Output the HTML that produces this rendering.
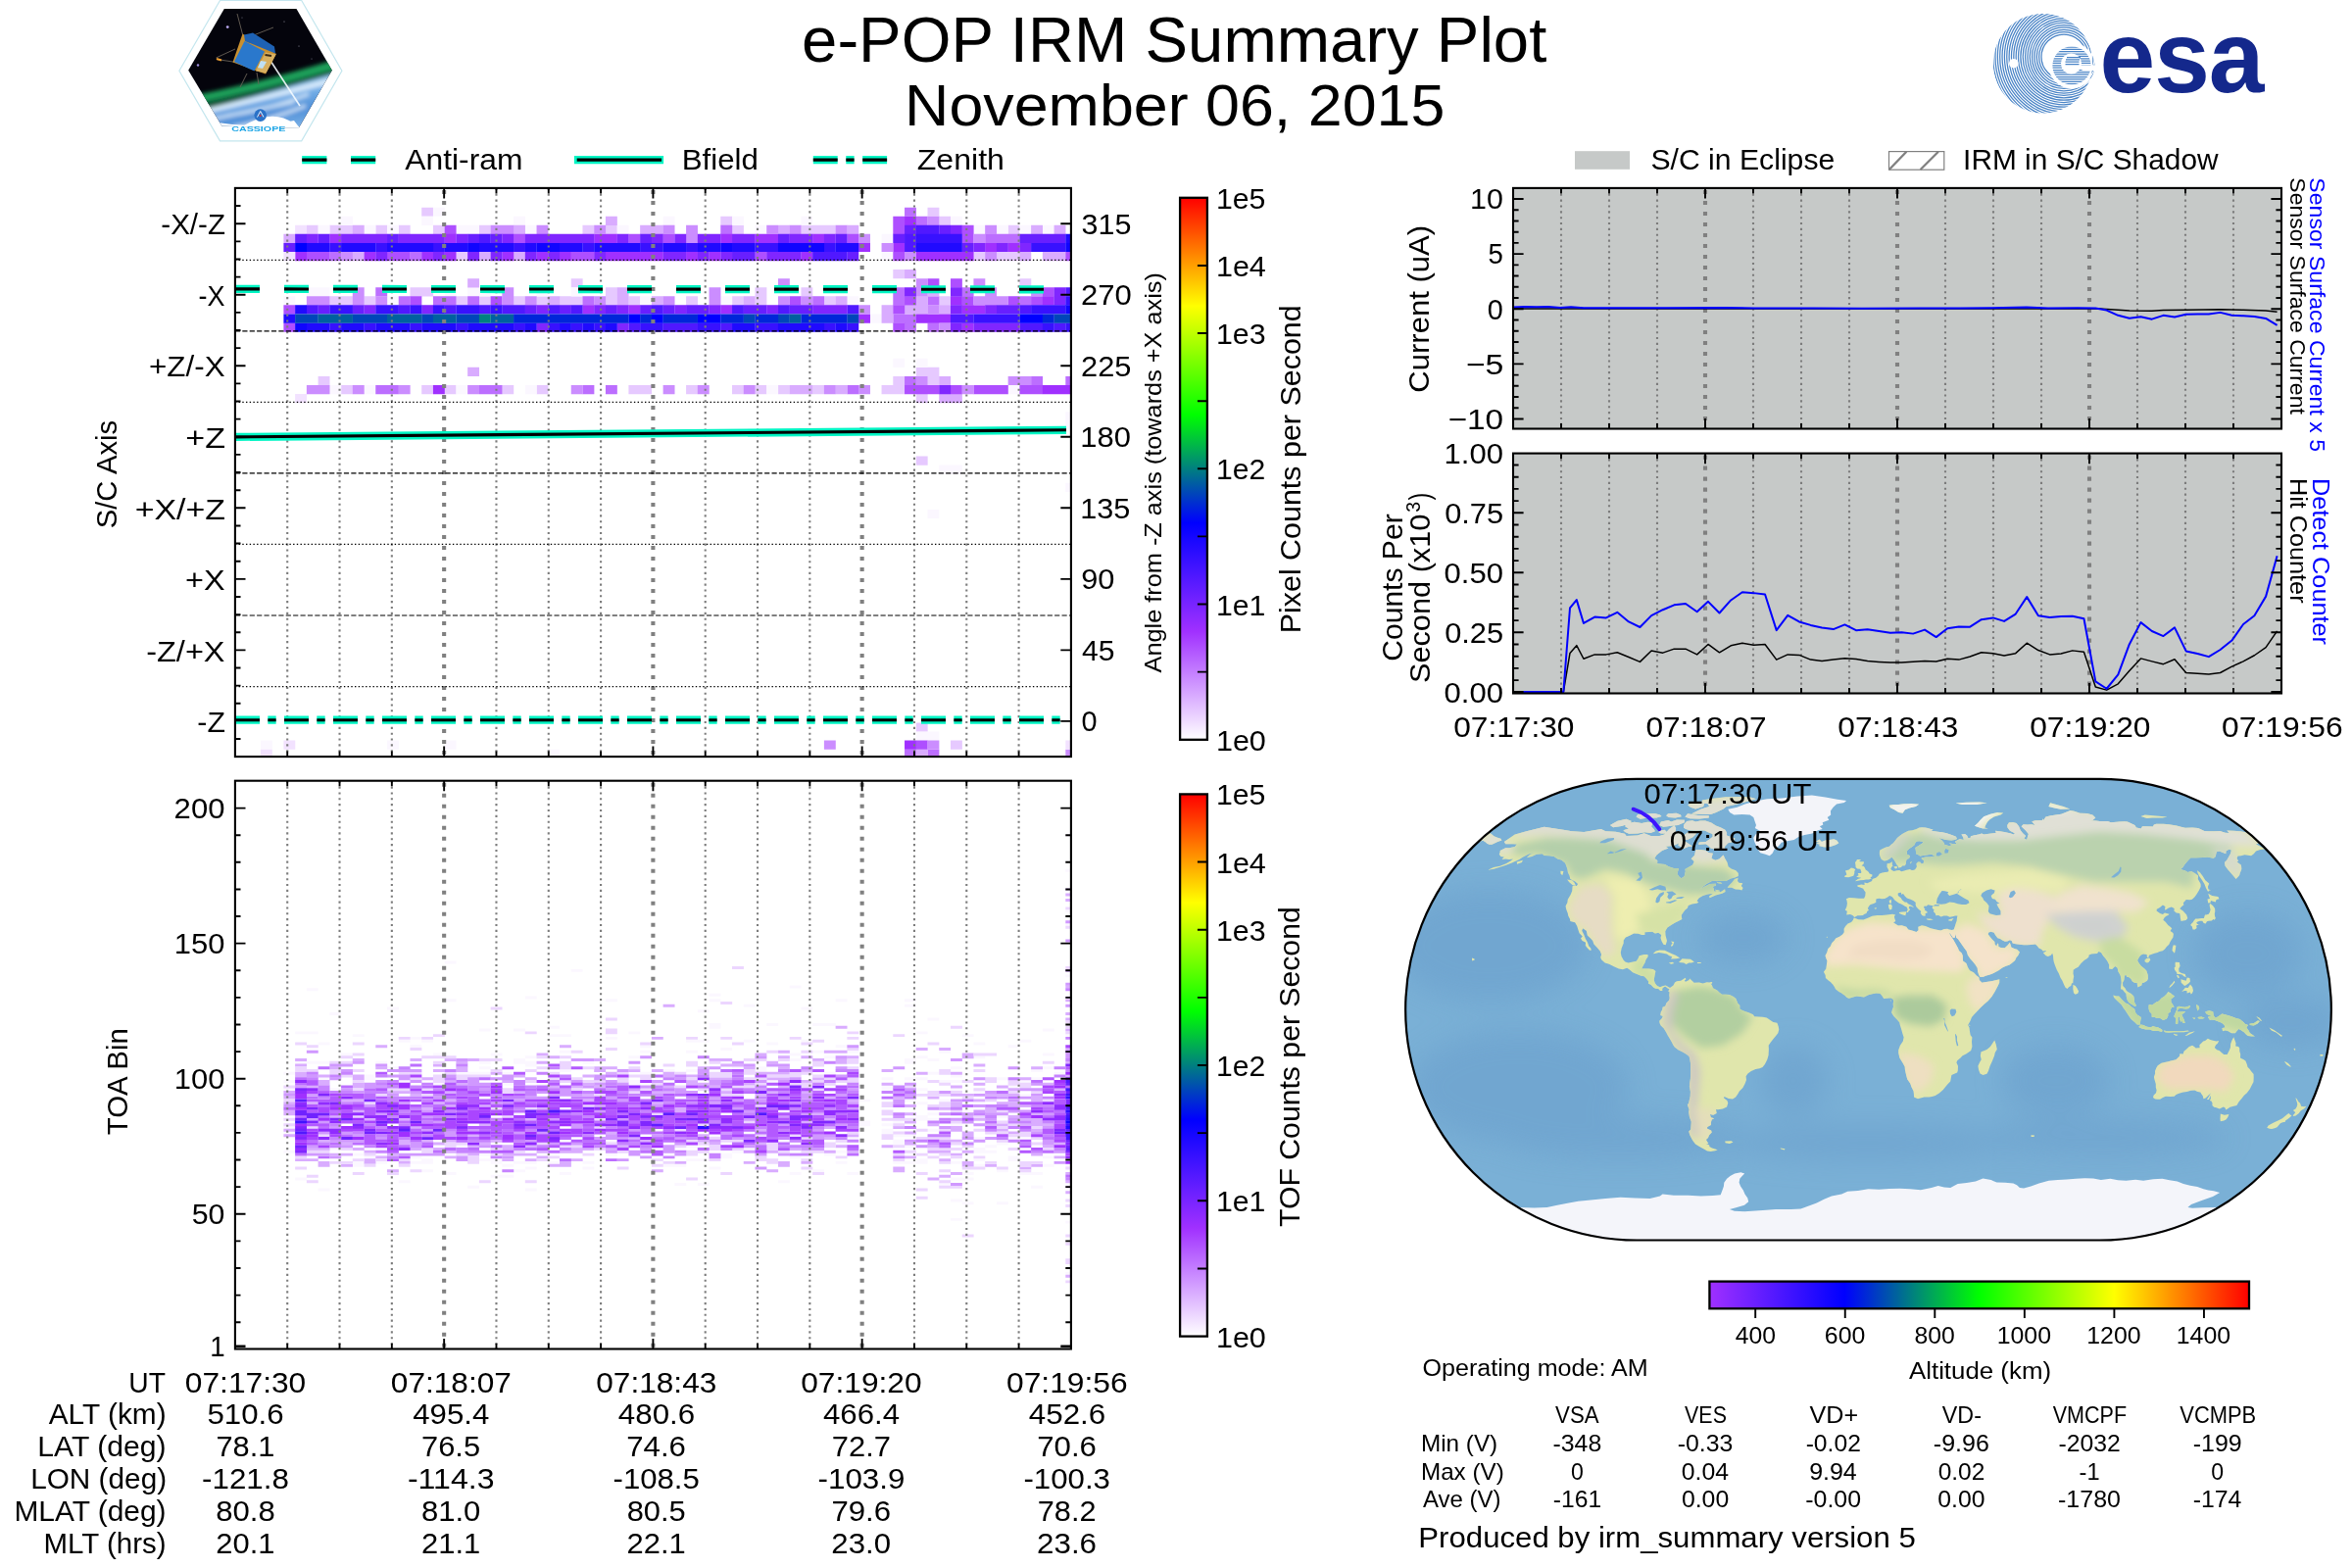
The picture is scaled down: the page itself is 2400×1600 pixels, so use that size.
<!DOCTYPE html>
<html><head><meta charset="utf-8"><title>e-POP IRM Summary Plot</title>
<style>html,body{margin:0;padding:0;background:#fff}svg{display:block;will-change:transform}text{font-family:"Liberation Sans",sans-serif}</style>
</head><body>
<svg width="2400" height="1600" viewBox="0 0 2400 1600">
<defs><linearGradient id="cv" x1="0" y1="0" x2="0" y2="1"><stop offset="0" stop-color="#ff0000"/><stop offset="0.2" stop-color="#ffff00"/><stop offset="0.4" stop-color="#00ff00"/><stop offset="0.6" stop-color="#0000ff"/><stop offset="0.8" stop-color="#a030ff"/><stop offset="1" stop-color="#ffffff"/></linearGradient>
<linearGradient id="ch" x1="0" y1="0" x2="1" y2="0"><stop offset="0" stop-color="#a030ff"/><stop offset="0.25" stop-color="#0000ff"/><stop offset="0.5" stop-color="#00ff00"/><stop offset="0.75" stop-color="#ffff00"/><stop offset="1" stop-color="#ff0000"/></linearGradient>
<clipPath id="mapclip"><path d="M1670.25 794.9H2142.75A236.25 235.3 0 0 1 2142.75 1265.5H1670.25A236.25 235.3 0 0 1 1670.25 794.9Z"/></clipPath>
<clipPath id="landclip"><path d="M1534.8 859.0L1545.7 851.6L1556.6 848.5L1575.7 843.8L1583.8 845.1L1596.8 846.9L1604.1 848.2L1616.3 849.0L1626.5 847.2L1633.8 846.1L1638.4 848.2L1648.7 848.8L1657.9 850.8L1659.6 852.9L1670.8 852.4L1677.7 850.3L1684.6 852.9L1693.3 852.9L1698.4 851.6L1703.2 845.9L1708.5 842.2L1710.1 845.1L1709.8 849.0L1712.1 850.6L1716.7 850.1L1715.8 854.2L1722.7 849.0L1730.6 848.2L1730.6 851.1L1727.4 854.2L1721.7 856.9L1717.2 857.1L1713.3 860.3L1707.6 862.9L1699.3 863.7L1702.4 865.5L1696.0 868.1L1690.4 872.5L1688.3 875.9L1691.3 878.0L1691.1 881.2L1699.0 882.0L1702.7 884.3L1708.0 885.9L1713.1 886.1L1711.4 891.6L1713.3 894.5L1715.6 896.3L1718.7 894.2L1719.9 889.0L1719.4 886.9L1727.2 882.5L1728.7 879.1L1725.6 876.2L1729.2 872.8L1730.2 867.3L1735.9 867.3L1740.2 867.8L1743.8 870.2L1747.8 870.7L1746.4 875.9L1750.4 877.8L1754.3 876.5L1758.5 872.5L1760.2 875.9L1762.5 879.9L1763.6 884.3L1766.6 886.4L1771.3 888.2L1773.8 890.9L1773.8 894.0L1770.3 895.6L1766.0 896.6L1761.2 899.0L1752.8 898.7L1746.8 899.0L1741.2 902.1L1735.2 906.8L1733.7 907.8L1739.3 904.7L1744.8 902.1L1750.9 901.8L1751.0 903.4L1747.8 904.7L1748.9 907.3L1749.2 909.4L1751.6 909.4L1755.6 910.2L1760.1 907.3L1760.6 909.9L1757.3 911.8L1750.8 913.6L1744.6 916.2L1744.0 914.4L1748.0 911.8L1742.4 912.6L1737.7 914.1L1733.8 916.2L1731.6 919.3L1733.3 920.7L1731.4 921.7L1726.7 922.5L1722.7 924.1L1722.0 926.4L1719.2 928.8L1716.2 932.9L1715.7 934.0L1716.3 937.9L1712.9 939.7L1709.3 941.6L1705.9 943.4L1701.3 946.5L1699.2 950.2L1699.5 954.4L1701.0 959.9L1699.7 964.3L1697.4 963.8L1695.6 960.4L1694.5 957.0L1695.3 953.9L1692.3 951.8L1688.9 952.6L1686.1 950.7L1682.2 951.0L1678.4 951.2L1678.4 954.1L1675.4 953.9L1671.7 952.8L1667.2 952.6L1663.3 954.4L1658.8 956.5L1656.7 959.6L1656.7 962.5L1654.7 967.5L1653.8 971.9L1654.5 975.8L1656.7 979.7L1658.5 981.6L1661.5 982.6L1666.3 981.6L1669.8 980.8L1671.6 977.9L1672.7 975.3L1677.6 974.0L1681.4 974.0L1681.7 976.1L1679.5 979.2L1678.4 982.6L1676.9 985.0L1675.0 988.6L1678.1 988.6L1682.5 988.6L1686.9 988.9L1689.4 991.0L1688.6 994.9L1687.7 1000.1L1688.8 1003.3L1691.0 1005.9L1693.9 1007.2L1697.1 1005.9L1699.7 1005.4L1702.8 1007.2L1704.0 1008.0L1704.0 1009.5L1701.7 1008.5L1699.6 1006.7L1698.1 1006.9L1696.2 1008.8L1696.3 1010.9L1694.2 1011.1L1692.2 1009.0L1689.3 1008.8L1687.3 1007.7L1684.5 1004.8L1682.0 1003.8L1682.1 1001.2L1679.7 998.3L1677.8 996.2L1674.7 995.7L1670.3 994.1L1666.1 992.3L1662.9 989.4L1660.2 987.8L1655.9 989.2L1651.8 988.6L1646.8 986.3L1641.9 983.7L1637.7 982.4L1634.1 979.2L1633.2 976.9L1634.1 974.0L1632.8 970.6L1629.6 966.7L1626.3 963.3L1625.3 960.1L1622.8 957.3L1619.8 954.4L1618.8 949.7L1615.1 947.3L1614.2 949.7L1616.2 953.6L1617.8 957.8L1619.9 961.4L1621.3 965.4L1623.0 967.2L1623.9 969.5L1622.1 969.8L1619.2 966.7L1617.8 964.8L1618.1 961.7L1614.6 959.9L1613.0 957.5L1614.8 955.4L1611.6 952.3L1610.1 947.8L1609.3 945.0L1607.2 941.3L1602.3 940.0L1602.1 937.9L1600.3 934.5L1599.7 931.6L1599.0 930.1L1598.0 926.9L1597.6 924.6L1599.4 920.9L1599.8 917.8L1602.5 913.3L1604.2 909.2L1604.5 905.0L1604.8 903.7L1608.8 903.9L1610.1 902.1L1607.2 899.5L1602.3 897.1L1601.6 893.7L1599.9 890.3L1599.5 887.5L1598.5 884.3L1597.2 880.7L1593.3 877.5L1589.4 876.5L1585.7 874.1L1581.2 873.3L1575.7 873.1L1573.6 871.2L1567.9 871.8L1563.2 873.9L1557.8 875.2L1561.3 871.8L1565.3 870.2L1560.4 871.2L1554.1 874.4L1550.3 877.0L1542.7 880.4L1536.2 883.0L1530.0 885.1L1524.2 886.7L1518.1 887.7L1524.1 885.1L1530.5 883.8L1536.8 881.2L1541.5 878.6L1544.0 876.5L1539.9 877.0L1536.4 876.5L1532.5 877.0L1534.8 874.6L1531.5 873.9L1529.8 871.8L1530.7 869.4L1530.7 868.1L1536.2 865.2L1540.0 865.2L1545.7 863.9L1547.8 861.6L1543.6 861.3L1536.3 861.3L1534.8 859.0ZM1740.2 837.5L1746.2 839.6L1750.8 842.5L1756.0 844.6L1760.3 846.7L1762.1 849.8L1762.0 852.4L1766.7 854.2L1770.5 855.8L1768.2 859.0L1763.3 860.3L1759.6 864.2L1760.5 866.8L1757.1 868.1L1752.8 867.3L1749.7 866.5L1745.6 865.5L1743.3 862.9L1740.6 861.3L1733.1 861.8L1733.7 859.5L1740.6 859.0L1744.6 856.3L1747.7 853.7L1747.5 851.1L1743.0 849.3L1739.6 847.5L1735.5 847.2L1731.1 847.5L1724.8 847.2L1720.1 846.1L1717.9 844.6L1718.4 841.2L1721.2 838.0L1727.0 837.3L1730.2 838.6L1735.0 837.5L1740.2 837.5ZM1658.4 843.5L1659.0 840.4L1667.7 838.8L1675.2 839.9L1681.2 838.8L1687.0 839.3L1685.0 843.3L1688.0 846.4L1688.8 848.2L1684.3 850.1L1678.4 849.3L1671.0 850.6L1662.2 850.8L1658.2 849.0L1656.4 847.2L1662.0 845.6L1658.4 843.5ZM1643.0 842.0L1650.5 837.8L1659.4 835.7L1664.6 837.8L1663.7 839.9L1654.6 843.0L1646.1 844.3L1643.0 842.0ZM1725.9 830.5L1735.8 830.7L1745.6 831.0L1751.1 828.9L1758.5 825.5L1761.5 822.9L1770.6 821.0L1780.2 818.4L1792.0 815.3L1786.2 813.5L1775.7 812.9L1760.9 813.2L1746.1 815.0L1737.0 816.6L1736.1 819.2L1742.7 820.3L1744.1 822.9L1736.0 825.5L1730.9 828.1L1725.9 830.5ZM1725.9 819.0L1735.6 817.9L1739.1 820.0L1738.1 823.1L1730.1 825.5L1725.0 823.7L1722.2 821.6L1725.9 819.0ZM1722.1 830.2L1732.8 832.0L1743.7 832.3L1743.7 834.6L1734.4 835.4L1724.3 835.2L1719.4 833.6L1722.1 830.2ZM1671.2 831.0L1679.8 830.5L1688.3 829.9L1693.9 831.5L1695.5 833.1L1690.2 834.4L1681.8 834.6L1673.7 835.7L1669.6 833.6L1671.2 831.0ZM1702.1 830.2L1710.6 829.7L1715.0 831.5L1715.6 833.3L1709.6 834.4L1702.7 834.1L1700.2 832.3L1702.1 830.2ZM1694.9 838.6L1702.4 837.0L1705.3 838.6L1711.0 836.5L1719.1 836.7L1718.7 839.3L1712.2 842.0L1706.6 842.5L1701.9 843.3L1697.3 843.8L1693.3 842.0L1694.9 838.6ZM1713.7 859.5L1718.0 857.6L1720.5 859.2L1724.7 862.1L1726.8 863.4L1722.7 863.9L1718.5 865.8L1714.9 863.9L1712.3 862.4L1713.7 859.5ZM1693.5 847.7L1698.5 846.7L1700.4 848.5L1700.3 850.3L1694.8 850.6L1692.4 849.3L1693.5 847.7ZM1762.6 905.8L1767.0 905.8L1770.8 907.6L1775.1 907.8L1777.4 908.4L1778.6 906.0L1776.8 903.9L1778.3 901.3L1774.5 900.8L1773.0 899.0L1773.6 895.8L1770.0 897.1L1767.3 900.5L1764.3 903.4L1762.6 905.8ZM1599.1 897.4L1604.2 898.2L1606.6 900.8L1608.0 903.7L1604.5 902.9L1601.3 900.3L1599.1 897.4ZM1592.4 888.8L1595.4 889.0L1594.3 893.2L1592.5 891.6L1592.4 888.8ZM1547.7 879.6L1553.9 877.8L1552.9 880.1L1548.1 881.7L1547.7 879.6ZM1751.4 899.7L1756.0 900.5L1757.4 901.8L1753.4 901.3L1751.4 899.7ZM1750.0 907.8L1754.2 908.6L1755.3 909.4L1751.6 909.7L1750.0 907.8ZM1686.7 973.2L1689.6 970.6L1693.6 969.5L1698.7 969.8L1702.4 971.4L1706.1 973.2L1709.8 974.8L1714.2 977.4L1710.8 978.2L1705.0 978.4L1706.3 976.3L1703.3 975.3L1700.9 973.5L1695.8 972.4L1692.5 971.9L1689.9 972.7L1686.7 973.2ZM1713.0 982.1L1716.5 978.2L1720.6 978.4L1725.0 978.7L1728.9 981.6L1726.0 982.4L1723.4 982.4L1720.6 983.9L1718.2 982.6L1713.0 982.1ZM1702.8 982.4L1706.5 981.8L1708.5 983.1L1705.1 983.7L1702.8 982.4ZM1732.0 982.1L1735.9 982.1L1735.5 983.1L1731.9 983.1L1732.0 982.1ZM1852.8 858.7L1856.6 856.6L1858.9 859.0L1862.4 857.6L1866.9 857.1L1871.3 856.3L1874.3 857.6L1876.3 860.3L1873.5 862.1L1868.4 863.7L1864.3 864.4L1860.5 864.2L1855.9 863.1L1857.5 861.8L1853.1 860.8L1857.1 859.7L1852.8 858.7ZM1704.0 1008.0L1705.4 1006.9L1707.5 1005.6L1709.0 1002.5L1710.9 1001.2L1715.1 1000.7L1717.8 999.1L1719.7 997.8L1720.4 999.3L1718.8 1000.7L1720.0 1001.7L1723.5 1000.1L1724.1 998.6L1727.4 1001.4L1728.6 1002.7L1733.9 1002.5L1737.7 1003.5L1741.7 1002.2L1744.3 1002.5L1746.8 1005.1L1748.0 1008.2L1751.9 1010.3L1754.5 1012.7L1757.0 1014.8L1761.0 1014.8L1764.9 1015.0L1768.8 1017.1L1771.4 1019.0L1773.2 1023.7L1775.3 1025.8L1775.3 1029.4L1777.9 1031.0L1780.5 1032.0L1784.4 1033.3L1788.9 1035.2L1790.2 1037.3L1795.0 1037.5L1798.9 1037.8L1802.8 1038.6L1806.8 1041.2L1809.4 1043.0L1813.4 1043.8L1814.7 1047.2L1815.3 1050.6L1814.3 1054.3L1811.5 1057.7L1809.0 1060.8L1806.5 1063.9L1804.7 1066.8L1804.9 1070.7L1804.6 1076.7L1803.3 1081.2L1800.9 1085.9L1798.5 1089.0L1795.5 1090.3L1791.4 1090.9L1786.9 1092.9L1783.5 1095.6L1781.6 1098.2L1782.0 1102.1L1780.5 1106.0L1778.4 1109.9L1774.9 1113.6L1773.2 1116.5L1771.1 1119.6L1768.0 1121.4L1763.9 1120.9L1759.4 1119.1L1759.1 1120.4L1762.4 1123.0L1763.3 1125.4L1762.1 1129.5L1757.9 1131.4L1753.0 1132.2L1751.0 1131.9L1751.7 1136.1L1748.3 1137.7L1744.9 1137.1L1745.8 1140.3L1749.2 1141.3L1746.7 1142.6L1746.0 1145.0L1745.8 1147.9L1742.1 1149.9L1742.1 1151.8L1746.1 1153.6L1746.8 1155.4L1744.1 1158.3L1743.0 1160.9L1740.9 1163.0L1743.4 1166.9L1741.0 1166.9L1744.3 1168.5L1744.3 1170.1L1747.0 1171.4L1752.7 1173.2L1750.2 1174.3L1745.7 1175.0L1742.1 1174.5L1737.7 1171.9L1734.1 1170.1L1730.0 1167.5L1727.0 1163.5L1724.3 1158.3L1723.2 1154.4L1725.2 1152.6L1725.5 1148.6L1725.8 1144.7L1724.0 1140.0L1723.1 1134.8L1723.6 1132.2L1721.9 1127.5L1723.1 1125.6L1723.7 1123.0L1724.7 1118.6L1724.9 1113.9L1723.9 1108.6L1724.2 1104.7L1724.9 1100.8L1725.1 1095.6L1725.0 1090.3L1725.0 1085.1L1724.4 1081.2L1723.6 1078.0L1720.8 1075.7L1717.0 1073.6L1712.4 1071.2L1708.8 1068.4L1707.4 1066.5L1705.6 1062.9L1703.6 1059.5L1701.6 1056.3L1700.1 1053.2L1697.6 1049.3L1694.7 1046.4L1693.5 1044.1L1693.2 1041.7L1695.5 1039.6L1696.8 1037.0L1694.2 1036.0L1694.7 1032.8L1696.2 1030.2L1696.5 1027.8L1699.4 1026.5L1700.2 1023.7L1703.1 1020.8L1703.7 1018.4L1703.3 1015.6L1703.6 1012.4L1702.3 1011.4L1704.0 1008.0ZM1760.2 1164.6L1766.6 1164.3L1768.5 1165.4L1764.9 1166.9L1760.6 1166.2L1760.2 1164.6ZM1744.6 1002.2L1747.2 1002.0L1746.9 1003.8L1744.5 1003.8L1744.6 1002.2ZM1891.7 936.6L1896.4 938.2L1901.5 938.4L1906.5 936.6L1910.3 934.8L1915.3 934.0L1920.3 934.0L1925.3 933.5L1931.1 932.7L1934.1 933.5L1932.9 935.3L1933.4 937.4L1934.3 940.0L1932.0 941.3L1933.8 942.4L1936.9 944.4L1940.7 944.2L1945.3 945.8L1947.2 948.4L1951.8 949.7L1955.4 951.0L1957.6 949.2L1957.3 945.8L1961.0 944.2L1964.8 945.0L1970.0 947.3L1975.2 948.6L1980.3 949.4L1984.0 948.1L1987.3 947.8L1988.7 948.6L1991.7 948.9L1993.7 948.4L1995.6 953.1L1994.6 957.0L1992.8 956.7L1991.3 954.6L1989.6 952.0L1989.2 952.8L1991.2 955.9L1993.1 958.8L1995.1 962.2L1998.0 967.5L1998.9 970.1L2001.9 972.7L2002.8 975.3L2003.0 980.5L2006.5 983.1L2008.0 987.1L2010.0 990.2L2013.9 992.3L2016.9 995.4L2019.3 997.3L2019.7 999.9L2022.4 1002.7L2026.8 1002.0L2032.0 1001.2L2037.2 1000.1L2040.3 999.3L2040.2 1002.7L2038.7 1006.1L2035.5 1011.9L2032.4 1017.1L2028.5 1021.6L2024.6 1024.7L2020.7 1028.6L2016.7 1032.8L2014.1 1035.4L2012.0 1038.0L2010.4 1042.0L2008.2 1045.9L2009.5 1048.5L2010.0 1052.4L2010.7 1056.3L2012.4 1058.4L2012.0 1062.9L2012.4 1068.1L2011.2 1072.0L2006.6 1075.2L2002.6 1077.3L2000.5 1079.6L1997.2 1082.2L1996.4 1084.3L1998.0 1087.7L1997.8 1092.4L1997.1 1094.5L1991.4 1096.9L1990.9 1099.5L1990.2 1103.4L1987.7 1106.0L1985.6 1108.4L1982.8 1112.0L1978.8 1115.4L1974.8 1118.0L1971.5 1119.1L1968.4 1119.4L1963.4 1119.4L1957.0 1121.2L1954.0 1120.1L1953.0 1119.4L1952.9 1116.0L1952.5 1113.3L1950.6 1109.4L1949.2 1105.5L1946.2 1101.3L1945.1 1096.9L1943.9 1091.6L1943.7 1088.5L1941.5 1084.6L1938.4 1079.4L1937.2 1074.6L1937.2 1071.5L1938.9 1066.8L1941.8 1062.4L1942.6 1058.4L1941.3 1054.5L1940.0 1049.8L1938.8 1045.9L1938.2 1043.3L1935.4 1040.1L1932.2 1036.7L1930.1 1033.3L1930.9 1030.2L1932.0 1027.6L1931.7 1024.2L1932.2 1021.6L1931.7 1019.7L1929.6 1018.4L1927.5 1018.4L1924.9 1018.7L1922.2 1019.0L1920.4 1016.1L1918.3 1013.7L1914.4 1013.5L1910.4 1014.3L1906.5 1015.3L1902.0 1017.4L1898.6 1016.9L1894.7 1016.6L1890.8 1017.4L1886.8 1018.7L1884.7 1017.9L1882.4 1015.8L1878.5 1012.9L1876.4 1011.9L1873.0 1009.3L1871.7 1006.7L1870.4 1004.8L1867.8 1002.0L1866.0 1000.7L1862.9 998.0L1862.6 994.9L1860.9 991.8L1863.3 988.4L1863.9 984.4L1864.5 980.5L1863.7 978.7L1862.5 975.3L1864.4 971.4L1865.2 968.2L1867.9 965.4L1869.2 962.2L1871.9 959.6L1873.2 957.5L1877.1 955.7L1880.2 953.6L1881.8 951.2L1881.6 947.8L1883.2 945.0L1885.5 942.6L1889.1 941.0L1890.9 938.7L1891.7 936.6ZM2035.3 1061.6L2036.7 1065.5L2037.8 1070.7L2035.8 1074.1L2035.1 1077.3L2033.0 1082.5L2030.6 1087.7L2028.9 1092.9L2027.4 1095.8L2023.5 1096.9L2020.5 1095.6L2019.0 1091.6L2018.4 1087.7L2020.2 1083.8L2021.7 1081.2L2020.8 1077.3L2021.5 1073.3L2025.0 1072.0L2027.7 1070.7L2030.9 1068.1L2032.6 1065.5L2034.2 1062.9L2035.3 1061.6ZM1892.4 936.1L1890.4 934.0L1887.9 932.9L1884.2 933.5L1884.8 929.8L1882.8 928.8L1884.4 925.1L1884.9 921.7L1884.5 919.1L1883.8 917.3L1886.8 915.9L1891.7 916.2L1896.7 916.7L1902.1 916.7L1903.3 913.9L1903.6 910.5L1902.1 908.6L1901.2 906.8L1898.0 905.5L1895.6 904.7L1895.1 903.4L1899.3 902.6L1902.6 902.9L1902.4 900.5L1905.3 901.3L1907.0 900.5L1910.1 899.0L1910.6 897.1L1914.1 895.8L1916.5 893.7L1917.9 891.6L1920.7 890.6L1923.5 890.1L1926.1 889.8L1927.3 888.8L1926.5 886.4L1925.5 884.8L1925.6 881.2L1928.6 880.7L1930.9 879.3L1930.8 882.5L1931.5 883.3L1930.0 885.1L1929.3 886.4L1930.1 887.7L1932.5 889.0L1935.3 888.2L1938.3 888.0L1940.1 889.3L1943.1 888.5L1945.4 887.7L1948.9 886.9L1950.8 888.0L1953.2 887.7L1954.7 886.4L1955.9 884.6L1955.4 881.2L1957.1 879.6L1959.2 879.6L1960.7 881.2L1962.8 880.7L1963.0 878.0L1961.0 876.7L1960.6 875.4L1965.0 874.4L1969.7 874.6L1971.9 873.9L1975.3 873.6L1972.9 872.8L1971.1 871.8L1967.1 872.3L1963.7 872.8L1959.2 873.6L1957.5 872.3L1955.1 871.2L1954.9 868.1L1954.4 865.0L1956.9 863.4L1960.0 861.6L1962.6 859.7L1961.8 858.7L1958.4 858.2L1955.8 858.4L1954.2 860.3L1954.0 861.8L1951.3 863.9L1948.2 866.0L1946.1 868.1L1945.7 870.7L1946.0 871.8L1949.1 873.3L1948.0 875.9L1945.7 876.7L1945.0 879.1L1944.9 881.2L1943.9 883.3L1941.1 883.5L1940.0 885.1L1937.0 885.4L1936.7 883.8L1935.2 882.0L1933.9 879.6L1932.6 877.3L1931.1 875.4L1930.4 874.6L1928.4 876.2L1925.5 878.0L1922.7 878.6L1919.9 877.0L1918.7 874.6L1917.9 872.0L1917.9 869.4L1918.3 867.6L1921.1 866.0L1924.5 864.4L1927.8 863.7L1929.9 861.8L1932.0 860.3L1934.1 857.6L1936.0 855.0L1938.7 852.7L1941.1 851.1L1943.8 849.5L1947.2 847.7L1951.4 847.2L1955.5 845.9L1958.4 844.6L1961.1 844.3L1964.8 844.6L1967.0 845.1L1970.4 845.9L1972.6 846.4L1970.7 847.7L1974.1 848.2L1977.4 848.8L1981.8 849.3L1986.4 850.3L1992.2 852.2L1995.9 853.7L1996.9 856.1L1994.6 857.1L1991.3 857.4L1985.7 856.9L1981.1 855.8L1978.3 855.0L1981.5 857.6L1983.8 860.3L1984.1 861.8L1988.1 862.9L1990.4 863.1L1991.2 861.8L1988.7 860.3L1993.3 861.3L1996.7 861.3L1994.9 858.7L1997.9 857.1L1999.9 856.3L2003.8 857.1L2003.2 854.2L2001.4 851.6L2005.0 851.1L2007.1 852.4L2008.3 855.0L2010.5 855.3L2011.0 853.2L2015.0 852.2L2019.1 851.4L2022.1 850.6L2024.6 851.6L2029.7 850.8L2033.9 850.3L2036.9 849.8L2036.0 847.7L2040.5 848.2L2045.2 849.0L2048.7 849.8L2051.1 850.3L2054.8 851.4L2055.9 850.3L2051.0 847.7L2048.5 844.6L2048.2 842.0L2050.0 839.3L2054.0 839.1L2057.6 839.9L2060.1 843.3L2061.7 847.2L2064.1 850.3L2067.1 852.9L2065.4 855.6L2068.2 856.9L2069.0 853.7L2069.9 851.1L2066.8 847.2L2062.6 843.3L2064.6 841.2L2068.9 841.4L2073.0 841.2L2076.6 842.0L2073.3 838.3L2076.8 837.3L2083.8 837.0L2084.6 835.2L2085.0 837.3L2087.5 833.6L2092.6 832.3L2098.0 831.5L2103.3 830.7L2107.7 828.9L2112.5 827.1L2116.6 827.8L2122.4 829.7L2129.7 829.9L2135.3 831.5L2138.3 834.6L2135.3 837.0L2132.5 837.3L2138.9 837.5L2142.5 838.0L2150.8 838.0L2154.0 839.3L2162.6 838.6L2167.6 838.3L2170.9 838.6L2178.4 842.0L2179.9 844.6L2184.8 845.4L2186.0 843.3L2190.2 843.3L2196.8 843.5L2197.9 841.4L2200.2 840.7L2207.5 840.7L2213.3 841.2L2221.0 842.5L2225.6 843.8L2229.9 844.8L2237.1 844.6L2243.0 845.1L2249.4 848.0L2253.9 848.2L2259.3 848.2L2265.4 848.0L2270.7 849.8L2274.7 850.1L2272.3 847.5L2279.0 847.7L2286.1 848.2L2294.4 849.8L2305.3 859.5L2303.6 861.0L2301.7 861.3L2306.0 863.4L2311.4 866.5L2306.2 867.1L2302.0 868.6L2299.8 871.2L2297.1 873.3L2290.5 872.3L2286.8 873.3L2283.5 873.6L2282.5 875.7L2284.0 878.6L2282.5 879.6L2286.7 882.5L2287.1 884.3L2287.3 886.9L2285.7 890.9L2285.2 892.9L2284.0 894.5L2281.6 896.9L2278.3 892.9L2273.7 887.7L2270.6 883.8L2269.9 879.9L2272.1 878.0L2274.1 874.6L2275.9 871.2L2276.9 867.6L2274.4 866.8L2271.4 868.6L2271.3 871.2L2264.6 868.6L2261.7 869.2L2260.8 873.9L2258.8 875.7L2252.2 874.6L2247.8 874.9L2241.1 875.2L2235.4 875.2L2233.4 877.3L2231.4 879.6L2228.8 882.7L2227.0 885.6L2224.9 886.9L2229.9 888.5L2232.4 890.1L2236.1 889.0L2239.6 891.1L2243.1 893.5L2242.8 896.9L2245.6 902.1L2245.7 904.7L2243.9 908.6L2241.8 912.0L2239.5 915.2L2236.9 917.8L2234.6 918.3L2230.8 918.0L2229.5 919.6L2227.8 921.2L2228.4 923.3L2225.7 925.6L2224.3 927.2L2227.6 929.5L2231.2 933.5L2232.3 937.1L2230.6 939.0L2227.7 939.5L2225.6 940.0L2224.9 936.9L2224.6 934.0L2224.1 931.9L2220.7 931.4L2218.4 929.5L2218.7 926.9L2215.8 925.6L2212.8 926.4L2210.2 928.2L2209.0 928.5L2209.4 925.1L2206.9 923.5L2204.0 926.1L2200.8 927.7L2200.6 929.5L2204.1 931.9L2206.9 932.9L2208.9 931.4L2213.6 932.7L2212.7 933.7L2210.1 935.0L2208.5 936.6L2207.3 938.7L2209.7 940.8L2212.3 943.9L2214.9 946.0L2216.2 947.3L2214.6 949.9L2217.1 951.8L2217.9 953.1L2217.4 956.5L2215.9 958.8L2214.5 960.9L2213.3 963.8L2210.9 966.1L2209.0 968.5L2206.8 970.3L2203.5 970.9L2201.6 971.9L2198.6 972.7L2195.7 973.7L2193.0 974.8L2192.3 977.1L2191.0 976.9L2190.6 974.0L2187.1 973.5L2184.7 974.5L2182.9 976.6L2181.0 980.0L2182.7 983.1L2184.8 985.8L2188.3 988.4L2190.3 990.5L2191.8 994.9L2191.9 998.8L2191.0 1000.7L2187.7 1002.7L2185.9 1003.0L2185.3 1005.4L2182.7 1006.7L2181.5 1007.5L2180.8 1004.6L2181.0 1003.3L2178.0 1002.7L2175.9 1001.4L2174.4 998.8L2172.1 997.0L2170.3 997.0L2169.9 995.2L2168.1 995.2L2167.7 997.5L2167.4 1000.1L2166.0 1002.7L2166.2 1005.9L2168.4 1008.2L2169.9 1011.1L2172.0 1012.4L2174.7 1014.0L2177.2 1016.6L2177.8 1019.2L2178.1 1022.9L2180.0 1026.3L2178.2 1026.8L2175.5 1025.0L2172.3 1022.9L2170.5 1020.0L2169.8 1017.1L2169.5 1014.0L2167.8 1012.2L2165.9 1009.8L2164.0 1009.3L2164.2 1006.7L2164.7 1002.7L2164.4 998.8L2163.6 994.9L2161.5 991.5L2160.6 987.6L2158.3 986.0L2155.2 988.9L2152.1 988.4L2152.2 984.4L2150.5 981.0L2148.4 977.9L2146.0 975.3L2144.0 971.9L2141.5 971.1L2140.0 972.9L2136.6 973.2L2134.1 973.5L2131.6 974.5L2131.4 976.6L2129.5 978.2L2127.0 979.7L2123.5 983.1L2120.7 986.8L2117.4 988.4L2115.7 989.7L2115.5 993.6L2116.2 996.2L2115.6 999.3L2115.3 1003.3L2114.0 1003.3L2113.3 1005.9L2111.3 1006.9L2109.5 1009.0L2107.6 1007.7L2106.2 1005.1L2104.4 1000.7L2102.4 997.5L2100.9 993.6L2098.8 989.7L2097.2 985.8L2095.8 981.8L2095.3 979.2L2095.0 975.3L2094.2 972.7L2092.8 974.8L2089.9 976.1L2087.7 975.3L2084.8 972.2L2087.3 971.1L2088.0 970.1L2084.7 970.6L2083.2 968.8L2080.5 967.5L2079.0 965.4L2077.0 963.5L2072.4 964.1L2068.6 964.3L2065.0 964.3L2060.8 963.8L2056.9 963.3L2053.7 962.5L2052.7 960.1L2050.9 959.3L2048.4 960.4L2045.9 960.7L2043.2 959.6L2041.0 958.0L2038.4 957.3L2036.3 954.6L2034.5 951.5L2031.3 950.7L2028.9 951.8L2028.8 953.6L2030.5 955.7L2032.8 958.6L2035.4 960.9L2035.6 963.5L2037.3 965.4L2038.1 962.7L2039.1 962.7L2039.4 966.1L2041.8 966.9L2045.7 967.2L2048.8 964.3L2050.8 961.7L2051.9 964.8L2052.3 966.4L2055.5 968.0L2058.2 968.8L2061.0 971.4L2059.2 975.3L2057.5 976.9L2056.2 980.0L2053.3 982.6L2050.3 984.7L2047.0 985.8L2043.2 987.6L2039.4 990.2L2034.3 993.1L2030.5 994.4L2026.1 995.7L2024.0 996.7L2020.6 997.0L2019.3 994.9L2018.1 991.5L2017.7 987.8L2015.7 984.4L2012.9 981.0L2010.2 977.9L2007.9 974.5L2006.7 970.6L2004.4 967.5L2002.5 964.8L2000.8 962.2L1998.0 958.3L1996.1 956.7L1995.6 953.1L1993.7 948.4L1994.8 945.2L1995.6 942.6L1996.6 939.7L1996.9 936.9L1997.4 934.5L1995.2 934.5L1992.5 935.3L1989.5 935.8L1986.9 934.5L1983.4 934.5L1980.7 935.6L1978.0 934.0L1975.3 934.2L1974.9 932.2L1972.8 930.1L1973.6 928.2L1971.8 926.9L1971.7 925.6L1972.8 924.3L1971.1 924.1L1967.3 923.3L1965.7 924.8L1963.7 924.6L1963.0 926.1L1964.4 927.7L1963.7 928.5L1966.5 930.3L1966.6 931.6L1964.6 931.9L1964.8 934.5L1963.0 934.8L1961.2 934.0L1959.6 931.6L1960.3 930.1L1958.9 928.8L1957.1 927.2L1955.2 925.1L1954.6 923.0L1954.8 920.9L1952.7 919.3L1949.6 917.8L1945.9 916.5L1943.8 914.4L1942.0 912.0L1940.1 912.8L1940.0 910.7L1937.8 911.0L1936.6 911.8L1936.9 914.1L1939.7 916.2L1941.1 918.6L1943.6 920.4L1946.1 920.7L1946.6 922.0L1949.9 923.5L1952.3 925.1L1952.6 926.1L1950.0 924.8L1948.3 924.8L1947.8 926.4L1949.2 928.2L1947.7 929.5L1947.0 930.9L1945.8 931.1L1945.8 930.1L1946.7 928.2L1945.6 925.6L1943.8 924.8L1942.3 923.8L1940.0 922.5L1937.5 921.4L1935.4 919.9L1933.1 918.3L1931.9 916.5L1930.6 914.9L1928.1 914.1L1925.7 915.7L1923.2 917.0L1920.1 917.3L1917.6 916.7L1914.6 917.3L1914.2 919.1L1914.4 920.7L1912.0 922.0L1908.7 923.0L1907.2 924.6L1905.8 926.9L1907.0 928.8L1905.2 930.1L1904.5 931.9L1902.0 932.9L1901.0 934.0L1897.7 934.2L1895.5 934.2L1893.2 935.6L1892.4 936.1ZM1518.6 849.8L1521.6 850.8L1524.4 853.2L1528.1 854.8L1531.4 855.8L1532.4 857.4L1528.1 859.0L1522.4 861.8L1519.7 861.8L1517.4 860.8L1515.7 859.2L1512.9 857.6L1509.1 859.2L1507.7 859.5ZM1892.8 899.2L1895.7 898.7L1898.1 898.2L1901.7 897.9L1904.1 897.6L1907.2 897.4L1909.8 896.3L1908.4 895.6L1910.3 894.2L1910.5 892.4L1907.7 891.6L1907.0 890.3L1906.0 889.0L1903.7 887.5L1902.7 885.1L1901.4 883.8L1899.5 883.5L1901.8 881.2L1901.9 879.3L1898.4 879.3L1897.2 878.6L1899.3 877.0L1895.0 877.0L1894.2 878.6L1893.0 880.1L1893.4 882.5L1893.6 885.1L1895.2 886.4L1898.3 886.7L1898.9 888.5L1899.4 890.1L1898.9 890.9L1895.8 890.9L1896.5 893.2L1894.1 894.5L1896.2 895.3L1899.3 895.8L1898.1 896.3L1895.7 896.9L1892.8 899.2ZM1882.6 895.0L1886.2 895.3L1891.3 893.7L1892.3 890.9L1892.3 889.0L1893.3 887.2L1891.2 885.9L1888.9 885.6L1886.7 887.5L1882.9 888.5L1883.8 890.6L1884.4 892.4L1882.0 894.0L1882.6 895.0ZM1937.8 930.9L1941.0 930.6L1945.5 930.3L1944.6 932.9L1944.4 934.2L1941.6 933.5L1938.1 931.9L1937.8 930.9ZM1926.8 923.3L1929.3 922.5L1930.8 924.3L1930.4 927.7L1928.5 928.5L1927.4 926.7L1926.8 923.3ZM1927.7 919.1L1929.7 917.8L1930.0 920.4L1929.3 922.0L1928.0 921.2L1927.7 919.1ZM1965.7 937.4L1969.5 937.6L1972.8 938.2L1970.8 938.7L1968.3 939.0L1966.0 938.2L1965.7 937.4ZM1988.0 938.7L1989.7 937.9L1993.6 936.9L1992.2 938.7L1991.6 939.7L1988.5 939.5L1988.0 938.7ZM2014.9 842.7L2018.0 839.9L2020.8 836.7L2024.3 833.3L2031.0 830.7L2038.1 829.1L2044.3 829.4L2041.5 831.5L2034.6 833.6L2030.7 835.9L2028.0 838.8L2026.2 842.0L2025.2 844.6L2028.8 845.6L2023.4 845.4L2019.9 844.6L2014.9 842.7ZM1927.6 821.8L1932.3 821.0L1937.1 821.0L1942.7 820.3L1950.3 820.0L1958.1 820.8L1954.8 822.9L1948.4 824.4L1943.9 826.3L1941.5 829.7L1937.4 828.9L1933.1 826.3L1928.9 824.2L1927.6 821.8ZM1995.6 819.5L2006.5 818.7L2019.6 818.4L2027.7 819.2L2017.5 821.0L2002.2 821.0L1995.6 819.5ZM2090.4 823.1L2092.1 819.2L2105.6 822.9L2112.3 825.5L2102.7 825.8L2095.3 824.2L2090.4 823.1ZM2184.5 833.1L2188.7 831.5L2200.1 832.5L2211.5 833.6L2206.7 834.6L2196.2 834.4L2190.7 834.9L2184.5 833.1ZM2284.8 844.3L2286.2 843.3L2288.3 844.8L2286.5 845.1ZM2242.0 888.2L2244.9 890.3L2247.9 894.2L2250.3 898.2L2254.2 901.6L2253.0 904.7L2253.3 907.3L2256.1 908.6L2254.4 908.6L2253.1 909.9L2250.9 906.0L2249.4 902.1L2247.1 898.2L2244.3 894.2L2242.6 890.9L2242.0 888.2ZM2253.2 921.4L2252.5 917.5L2255.0 917.0L2253.2 911.8L2257.3 913.9L2263.4 914.9L2264.5 917.3L2261.6 918.0L2260.7 920.4L2255.9 919.1L2255.6 921.2L2253.2 921.4ZM2255.6 922.0L2258.1 924.3L2260.1 926.9L2260.3 930.1L2259.8 932.2L2260.0 934.8L2260.9 936.9L2259.5 938.7L2258.5 937.9L2256.8 939.5L2253.6 939.7L2252.0 940.3L2250.7 942.6L2248.7 942.1L2247.3 939.7L2244.7 939.7L2242.5 940.5L2241.1 941.8L2243.5 943.9L2246.1 942.6L2247.1 941.8L2244.6 943.4L2242.2 943.9L2241.1 944.4L2241.6 947.1L2239.7 948.6L2237.6 948.4L2236.7 945.2L2235.1 943.9L2236.6 942.1L2237.6 941.3L2238.4 939.7L2240.3 937.6L2242.7 937.4L2246.4 937.1L2248.9 936.9L2249.7 934.2L2250.5 932.2L2250.3 933.7L2253.7 932.7L2254.8 930.9L2255.6 928.2L2254.9 925.6L2254.6 923.0L2255.6 922.0ZM2217.8 964.3L2220.4 964.8L2219.9 968.8L2219.0 972.7L2216.5 970.1L2216.9 966.7L2217.8 964.3ZM2188.5 979.7L2190.3 977.9L2193.2 977.6L2194.4 979.2L2192.7 981.8L2191.0 982.6L2188.8 981.6L2188.5 979.7ZM2115.4 1004.8L2117.8 1005.9L2119.4 1008.2L2121.1 1011.4L2120.2 1013.7L2117.6 1014.8L2116.0 1013.2L2115.3 1009.3L2115.4 1004.8ZM2219.7 981.8L2223.9 982.1L2224.6 985.8L2223.2 988.4L2223.5 991.5L2226.0 993.1L2229.8 994.1L2230.7 997.3L2228.5 996.2L2226.5 994.6L2224.0 993.9L2221.5 994.1L2221.0 992.3L2219.1 989.7L2218.6 987.6L2219.8 986.3L2219.5 984.2L2219.7 981.8ZM2225.4 999.3L2228.0 999.9L2230.7 1000.7L2231.7 997.5L2234.4 998.0L2235.0 1001.4L2233.5 1003.3L2232.3 1004.1L2231.1 1005.1L2229.1 1006.1L2227.3 1004.3L2225.7 1002.7L2225.4 999.3ZM2226.3 1011.9L2228.2 1009.8L2229.9 1007.7L2232.6 1008.0L2235.0 1004.6L2237.2 1007.2L2238.0 1011.1L2236.8 1013.7L2235.6 1014.5L2234.9 1012.4L2231.6 1013.5L2231.5 1011.1L2228.8 1010.9L2226.3 1011.9ZM2213.5 1008.2L2216.7 1005.4L2219.3 1002.2L2218.7 1000.7L2216.6 1003.5L2214.1 1006.1L2213.5 1008.2ZM2220.8 995.2L2222.9 995.2L2223.9 997.5L2222.7 998.3L2220.8 995.2ZM2192.6 1025.5L2194.4 1025.0L2196.0 1025.8L2198.6 1023.7L2200.4 1022.6L2203.0 1021.6L2205.6 1018.4L2208.1 1017.1L2210.7 1014.5L2212.4 1011.9L2215.1 1013.5L2216.7 1015.0L2219.1 1016.6L2216.8 1018.4L2215.3 1019.2L2215.4 1022.4L2216.7 1024.4L2218.6 1027.6L2216.0 1028.1L2214.9 1030.2L2214.9 1032.6L2212.3 1034.1L2212.3 1036.7L2210.9 1039.6L2207.4 1040.9L2204.3 1039.1L2200.4 1039.1L2199.1 1038.0L2195.7 1037.8L2195.7 1034.6L2193.4 1032.3L2192.6 1029.4L2192.6 1025.5ZM2156.4 1015.6L2159.6 1016.6L2162.2 1016.6L2165.5 1020.3L2168.9 1023.4L2172.4 1025.0L2175.0 1027.6L2178.2 1029.7L2178.7 1032.8L2180.8 1035.4L2184.2 1037.5L2184.7 1038.8L2184.1 1042.0L2183.9 1045.4L2180.8 1045.4L2178.0 1042.7L2174.7 1040.1L2172.4 1036.7L2170.3 1033.6L2168.5 1030.7L2166.4 1028.1L2165.0 1025.5L2162.4 1023.1L2159.7 1020.5L2157.0 1017.7L2156.4 1015.6ZM2182.3 1048.0L2184.5 1045.6L2187.1 1045.9L2190.9 1047.7L2194.8 1048.2L2197.0 1046.9L2198.8 1047.7L2201.9 1048.2L2205.2 1050.1L2206.5 1051.1L2206.1 1052.9L2202.5 1051.9L2197.3 1051.9L2193.4 1050.6L2189.5 1050.6L2185.3 1049.5L2182.3 1048.0ZM2221.0 1028.1L2223.6 1026.8L2226.7 1027.6L2229.9 1027.8L2233.0 1026.8L2235.1 1026.0L2233.8 1028.9L2230.7 1029.4L2226.7 1028.9L2223.6 1028.9L2221.8 1031.0L2221.8 1032.6L2224.6 1032.6L2227.5 1032.3L2230.2 1032.3L2228.8 1033.6L2226.2 1035.2L2227.4 1038.0L2228.9 1040.9L2229.6 1044.1L2227.5 1044.1L2227.1 1042.0L2225.2 1042.5L2224.0 1039.4L2224.1 1037.3L2222.5 1038.0L2222.4 1042.0L2222.2 1044.8L2219.9 1044.6L2220.0 1040.7L2220.1 1038.8L2218.3 1037.3L2219.6 1034.1L2221.0 1030.7L2221.0 1028.1ZM2207.7 1051.6L2210.4 1051.9L2213.0 1052.2L2218.2 1051.9L2223.4 1052.2L2228.7 1051.9L2232.6 1051.6L2233.9 1052.2L2228.6 1053.2L2222.1 1053.2L2218.1 1053.2L2212.9 1053.7L2209.0 1053.2L2207.7 1051.6ZM2218.0 1054.8L2222.6 1056.1L2220.5 1057.1L2218.0 1055.6L2218.0 1054.8ZM2229.6 1057.1L2233.8 1053.7L2239.7 1052.2L2237.7 1053.7L2233.6 1055.8L2230.9 1057.1L2229.6 1057.1ZM2241.1 1025.0L2243.3 1026.3L2244.3 1028.9L2242.5 1031.5L2241.7 1028.9L2241.1 1025.0ZM2242.4 1038.0L2246.4 1037.5L2249.7 1038.8L2247.6 1039.4L2243.7 1039.4L2242.4 1038.0ZM2237.1 1038.6L2240.3 1038.8L2239.2 1040.1L2237.1 1038.6ZM2250.4 1032.3L2254.3 1031.2L2258.2 1032.3L2258.7 1036.2L2260.8 1038.8L2263.4 1037.3L2267.4 1034.6L2271.3 1035.4L2276.5 1037.0L2281.7 1039.1L2285.6 1040.1L2289.0 1042.7L2290.7 1044.8L2294.0 1045.9L2292.3 1048.5L2294.2 1051.1L2295.8 1054.0L2299.0 1056.3L2301.0 1057.4L2297.6 1057.4L2293.7 1056.9L2291.3 1055.0L2290.1 1053.5L2286.4 1050.9L2284.3 1050.1L2282.4 1052.2L2280.9 1054.3L2277.0 1054.3L2273.2 1051.9L2270.6 1051.4L2268.0 1052.2L2267.4 1049.0L2270.3 1048.5L2269.7 1045.9L2267.1 1043.8L2263.3 1042.2L2259.4 1040.7L2256.8 1040.4L2254.9 1040.7L2252.9 1037.8L2256.9 1036.5L2253.7 1036.0L2250.9 1034.1L2250.4 1032.3ZM2295.4 1044.8L2299.9 1044.1L2304.0 1041.2L2306.0 1042.0L2303.8 1044.6L2299.8 1046.4L2295.9 1045.9L2295.4 1044.8ZM2302.3 1037.0L2305.4 1038.6L2307.9 1041.4L2307.1 1042.0L2304.0 1039.1L2302.3 1037.0ZM2315.4 1048.5L2320.4 1051.1L2325.4 1054.5L2329.1 1056.9L2327.7 1057.7L2322.8 1053.7L2317.8 1051.6L2315.4 1048.5ZM2331.5 1083.0L2334.9 1085.1L2338.0 1088.5L2336.7 1088.5L2333.4 1086.4L2331.3 1083.8L2331.5 1083.0ZM2367.5 1076.0L2370.6 1076.0L2370.2 1077.8L2367.2 1077.5L2367.5 1076.0ZM2341.0 1069.4L2342.4 1070.7L2341.9 1072.0L2340.6 1070.7L2341.0 1069.4ZM2201.8 1087.2L2205.5 1084.8L2208.8 1084.1L2212.3 1083.3L2215.0 1082.5L2220.4 1081.2L2224.0 1077.8L2224.3 1075.2L2227.7 1075.4L2228.5 1072.8L2230.9 1070.7L2233.8 1068.1L2237.1 1066.8L2239.0 1068.1L2240.7 1069.4L2242.8 1069.2L2244.6 1069.2L2244.4 1066.3L2246.5 1064.2L2248.2 1062.6L2250.1 1062.1L2252.9 1059.7L2255.4 1061.1L2259.2 1062.1L2261.8 1062.4L2264.2 1062.1L2262.9 1064.7L2261.1 1066.3L2259.8 1068.9L2262.1 1071.2L2264.6 1072.0L2266.9 1073.9L2269.2 1076.0L2272.6 1076.0L2274.7 1072.0L2275.9 1068.9L2276.2 1065.0L2277.3 1062.1L2279.2 1058.2L2280.3 1061.1L2281.5 1064.2L2281.3 1067.6L2284.1 1068.1L2285.2 1069.4L2285.3 1072.8L2286.2 1075.4L2286.0 1079.4L2289.1 1080.9L2291.4 1082.5L2292.8 1085.9L2293.5 1088.8L2295.7 1090.9L2297.0 1092.9L2299.6 1096.1L2299.7 1099.5L2299.5 1103.9L2297.8 1107.3L2295.8 1111.2L2292.8 1115.2L2289.9 1117.8L2287.2 1121.2L2284.6 1124.3L2282.4 1128.0L2278.3 1129.0L2275.5 1129.8L2271.5 1132.4L2270.3 1130.3L2268.8 1129.5L2264.8 1131.6L2261.5 1130.3L2259.2 1129.8L2257.4 1128.0L2257.5 1125.6L2256.4 1123.5L2254.8 1123.0L2255.9 1121.2L2255.7 1117.8L2253.9 1122.0L2251.9 1122.0L2254.2 1118.6L2255.9 1115.4L2253.1 1118.0L2250.6 1120.4L2248.4 1121.2L2247.9 1118.6L2246.5 1116.5L2245.3 1114.4L2242.4 1113.9L2239.5 1112.6L2235.6 1112.8L2231.5 1113.9L2227.6 1114.4L2223.4 1115.7L2220.5 1117.0L2218.7 1118.8L2214.9 1119.1L2209.9 1118.8L2207.0 1120.1L2204.1 1121.7L2201.5 1121.7L2199.1 1121.4L2197.0 1119.9L2197.5 1117.8L2200.0 1115.2L2200.6 1112.6L2199.8 1109.4L2199.8 1106.0L2198.6 1102.1L2197.9 1099.0L2199.1 1095.6L2199.0 1092.9L2200.4 1089.5L2201.8 1087.2ZM2265.8 1136.6L2269.8 1137.7L2274.4 1136.9L2273.3 1140.0L2271.4 1142.6L2269.3 1143.4L2265.8 1144.2L2265.5 1142.1L2265.6 1140.0L2265.8 1136.6ZM2342.6 1120.1L2344.0 1121.7L2345.4 1124.3L2346.9 1125.6L2347.6 1126.9L2348.0 1128.8L2350.8 1129.3L2353.5 1128.8L2351.0 1131.4L2348.7 1132.7L2347.4 1133.7L2345.8 1136.1L2342.6 1138.4L2339.9 1139.0L2339.9 1137.9L2342.2 1135.3L2341.1 1134.0L2339.8 1132.9L2342.4 1131.6L2343.6 1129.5L2344.3 1126.9L2343.9 1125.1L2342.8 1121.7L2342.6 1120.1ZM2335.6 1136.1L2336.9 1137.4L2338.5 1138.2L2336.9 1140.0L2334.7 1141.8L2332.1 1143.4L2331.9 1144.7L2329.2 1145.2L2326.9 1146.3L2325.0 1148.4L2323.5 1150.2L2321.0 1151.2L2318.1 1152.0L2315.8 1151.8L2313.2 1150.7L2314.6 1148.6L2318.2 1146.5L2320.6 1145.2L2325.5 1142.9L2328.8 1141.3L2331.3 1139.2L2334.0 1136.9L2335.6 1136.1ZM1502.2 977.4L1504.6 978.4L1504.7 979.5L1502.4 980.5L1501.9 979.0L1502.2 977.4ZM2072.5 1158.3L2076.1 1158.6L2075.5 1159.9L2072.6 1159.9L2072.5 1158.3ZM1816.7 1171.4L1821.6 1172.2L1820.6 1173.5L1816.9 1172.2L1816.7 1171.4ZM2046.0 997.3L2048.9 997.3L2047.6 998.0L2046.0 997.3ZM2009.3 1045.4L2010.3 1045.9L2010.1 1046.9L2009.3 1046.4ZM1705.1 960.4L1708.3 960.9L1707.1 964.8L1705.6 966.1L1705.1 964.3L1706.6 962.7L1705.1 960.4ZM1928.8 1020.5L1929.9 1020.8L1929.3 1021.8L1928.8 1020.5ZM1863.5 955.9L1865.1 955.7L1864.3 957.0L1863.5 955.9ZM1912.5 926.7L1914.7 926.1L1914.5 927.5L1913.0 927.5L1912.5 926.7ZM1948.9 880.9L1950.3 878.8L1950.6 880.1L1949.3 881.2L1948.9 880.9ZM1932.3 884.6L1935.7 883.8L1935.9 885.9L1934.0 886.4L1932.3 884.6Z"/></clipPath>
<filter id="bl" x="-10%" y="-10%" width="120%" height="120%"><feGaussianBlur stdDeviation="4.5"/></filter>
<filter id="bl2" x="-20%" y="-20%" width="140%" height="140%"><feGaussianBlur stdDeviation="14"/></filter>
<clipPath id="hexc"><path d="M192.2 71.7L228.8 9.1H302.5L338.8 71.7L304.9 130.6L226.4 128.4Z"/></clipPath>
<filter id="bl3" x="-20%" y="-20%" width="140%" height="140%"><feGaussianBlur stdDeviation="2.2"/></filter>
<linearGradient id="earthg" x1="0" y1="0" x2="0.35" y2="1"><stop offset="0" stop-color="#dff0ff"/><stop offset="0.35" stop-color="#8fc4f0"/><stop offset="0.75" stop-color="#4f8fd8"/><stop offset="1" stop-color="#7fb4e8"/></linearGradient>
<clipPath id="esac"><path clip-rule="evenodd" d="M2084.6 64.6m-50.7 0a50.7 50.7 0 1 0 101.4 0a50.7 50.7 0 1 0 -101.4 0ZM2114 67m-23.5 0a23.5 23.5 0 1 0 47 0a23.5 23.5 0 1 0 -47 0Z"/></clipPath>
<clipPath id="esae"><circle cx="2114" cy="67" r="19.6"/></clipPath></defs>
<rect width="2400" height="1600" fill="#fff"/>
<path d="M430.21 211.63H442.09V220.85H430.21zM946.5 211.63H958.39V220.85H946.5zM735.29 220.7H747.18V229.91H735.29zM958.24 220.7H970.12V229.91H958.24zM312.87 229.76H324.75V238.98H312.87zM336.34 229.76H348.22V238.98H336.34zM348.07 229.76H359.95V238.98H348.07zM383.27 229.76H395.16V238.98H383.27zM406.74 229.76H418.62V238.98H406.74zM441.94 229.76H453.83V238.98H441.94zM488.88 229.76H500.76V238.98H488.88zM594.48 229.76H606.37V238.98H594.48zM617.95 229.76H629.84V238.98H617.95zM747.03 229.76H758.91V238.98H747.03zM817.43 229.76H829.31V238.98H817.43zM829.16 229.76H841.05V238.98H829.16zM840.9 229.76H852.78V238.98H840.9zM1028.64 229.76H1040.53V238.98H1028.64zM465.41 256.96H477.29V266.18H465.41zM993.44 256.96H1005.32V266.18H993.44zM1016.91 256.96H1028.79V266.18H1016.91zM1028.64 256.96H1040.53V266.18H1028.64zM911.3 275.09H923.19V284.31H911.3zM582.75 284.16H594.63V293.38H582.75zM1040.38 284.16H1052.26V293.38H1040.38zM418.47 293.23H430.36V302.44H418.47zM430.21 293.23H442.09V302.44H430.21zM617.95 293.23H629.84V302.44H617.95zM770.49 293.23H782.38V302.44H770.49zM817.43 293.23H829.31V302.44H817.43zM336.34 302.29H348.22V311.51H336.34zM348.07 302.29H359.95V311.51H348.07zM371.54 302.29H383.42V311.51H371.54zM465.41 302.29H477.29V311.51H465.41zM488.88 302.29H500.76V311.51H488.88zM524.08 302.29H535.96V311.51H524.08zM547.55 302.29H559.43V311.51H547.55zM571.02 302.29H582.9V311.51H571.02zM582.75 302.29H594.63V311.51H582.75zM617.95 302.29H629.84V311.51H617.95zM641.42 302.29H653.3V311.51H641.42zM700.09 302.29H711.97V311.51H700.09zM747.03 302.29H758.91V311.51H747.03zM770.49 302.29H782.38V311.51H770.49zM840.9 302.29H852.78V311.51H840.9zM958.24 302.29H970.12V311.51H958.24zM934.77 374.82H946.65V384.04H934.77zM946.5 374.82H958.39V384.04H946.5zM324.6 383.89H336.49V393.1H324.6zM911.3 383.89H923.19V393.1H911.3zM946.5 383.89H958.39V393.1H946.5zM348.07 392.95H359.95V402.17H348.07zM430.21 392.95H442.09V402.17H430.21zM453.68 392.95H465.56V402.17H453.68zM512.35 392.95H524.23V402.17H512.35zM547.55 392.95H559.43V402.17H547.55zM641.42 392.95H653.3V402.17H641.42zM653.15 392.95H665.04V402.17H653.15zM700.09 392.95H711.97V402.17H700.09zM747.03 392.95H758.91V402.17H747.03zM770.49 392.95H782.38V402.17H770.49zM793.96 392.95H805.85V402.17H793.96zM829.16 392.95H841.05V402.17H829.16zM899.57 392.95H911.45V402.17H899.57zM911.3 392.95H923.19V402.17H911.3zM934.77 402.02H946.65V411.23H934.77zM934.77 465.48H946.65V474.7H934.77zM934.77 737.46H946.65V746.68H934.77zM969.97 755.59H981.86V764.81H969.97z" fill="#e6c9ff"/>
<path d="M441.94 211.63H453.83V220.85H441.94zM430.21 220.7H442.09V229.91H430.21zM747.03 220.7H758.91V229.91H747.03zM969.97 220.7H981.86V229.91H969.97zM348.07 220.7H359.95V229.91H348.07zM524.08 220.7H535.96V229.91H524.08zM676.62 220.7H688.51V229.91H676.62zM817.43 220.7H829.31V229.91H817.43zM324.6 229.76H336.49V238.98H324.6zM371.54 229.76H383.42V238.98H371.54zM395.01 229.76H406.89V238.98H395.01zM465.41 229.76H477.29V238.98H465.41zM477.14 229.76H489.03V238.98H477.14zM535.81 229.76H547.7V238.98H535.81zM629.69 229.76H641.57V238.98H629.69zM770.49 229.76H782.38V238.98H770.49zM993.44 229.76H1005.32V238.98H993.44zM1016.91 229.76H1028.79V238.98H1016.91zM1040.38 229.76H1052.26V238.98H1040.38zM1063.84 229.76H1075.73V238.98H1063.84zM899.57 238.83H911.45V248.05H899.57zM899.57 256.96H911.45V266.18H899.57zM312.87 293.23H324.75V302.44H312.87zM324.6 293.23H336.49V302.44H324.6zM453.68 293.23H465.56V302.44H453.68zM477.14 293.23H489.03V302.44H477.14zM488.88 293.23H500.76V302.44H488.88zM547.55 293.23H559.43V302.44H547.55zM582.75 293.23H594.63V302.44H582.75zM289.4 302.29H301.28V311.51H289.4zM395.01 302.29H406.89V311.51H395.01zM653.15 302.29H665.04V311.51H653.15zM735.29 302.29H747.18V311.51H735.29zM864.37 302.29H876.25V311.51H864.37zM887.83 320.42H899.72V329.64H887.83zM911.3 365.75H923.19V374.97H911.3zM934.77 365.75H946.65V374.97H934.77zM336.34 392.95H348.22V402.17H336.34zM371.54 392.95H383.42V402.17H371.54zM465.41 392.95H477.29V402.17H465.41zM535.81 392.95H547.7V402.17H535.81zM782.23 392.95H794.11V402.17H782.23zM1028.64 392.95H1040.53V402.17H1028.64zM1087.31 420.15H1092.05V429.37H1087.31zM1087.31 429.22H1092.05V438.43H1087.31zM958.24 474.55H970.12V483.76H958.24zM969.97 474.55H981.86V483.76H969.97zM1087.31 492.68H1092.05V501.89H1087.31zM946.5 519.88H958.39V529.09H946.5zM934.77 746.53H946.65V755.74H934.77zM946.5 746.53H958.39V755.74H946.5zM395.01 755.59H406.89V764.81H395.01zM453.68 755.59H465.56V764.81H453.68zM265.93 755.59H277.82V764.81H265.93zM559.28 764.66H571.17V771.25H559.28z" fill="#fbf7ff"/>
<path d="M923.04 211.63H934.92V220.85H923.04zM934.77 220.7H946.65V229.91H934.77zM735.29 229.76H747.18V238.98H735.29zM1005.17 238.83H1017.06V248.05H1005.17zM1016.91 238.83H1028.79V248.05H1016.91zM1028.64 238.83H1040.53V248.05H1028.64zM336.34 256.96H348.22V266.18H336.34zM418.47 256.96H430.36V266.18H418.47zM383.27 293.23H395.16V302.44H383.27zM911.3 293.23H923.19V302.44H911.3zM981.71 293.23H993.59V302.44H981.71zM406.74 302.29H418.62V311.51H406.74zM441.94 302.29H453.83V311.51H441.94zM453.68 302.29H465.56V311.51H453.68zM477.14 302.29H489.03V311.51H477.14zM594.48 302.29H606.37V311.51H594.48zM829.16 302.29H841.05V311.51H829.16zM911.3 302.29H923.19V311.51H911.3zM946.5 302.29H958.39V311.51H946.5zM1040.38 302.29H1052.26V311.51H1040.38zM911.3 320.42H923.19V329.64H911.3zM923.04 320.42H934.92V329.64H923.04zM923.04 329.49H934.92V338.71H923.04zM946.5 329.49H958.39V338.71H946.5zM923.04 383.89H934.92V393.1H923.04zM1052.11 383.89H1063.99V393.1H1052.11zM1087.31 383.89H1092.05V393.1H1087.31zM383.27 392.95H395.16V402.17H383.27zM395.01 392.95H406.89V402.17H395.01zM488.88 392.95H500.76V402.17H488.88zM500.61 392.95H512.5V402.17H500.61zM594.48 392.95H606.37V402.17H594.48zM617.95 392.95H629.84V402.17H617.95zM864.37 392.95H876.25V402.17H864.37zM923.04 764.66H934.92V771.25H923.04zM946.5 764.66H958.39V771.25H946.5z" fill="#bc6eff"/>
<path d="M617.95 220.7H629.84V229.91H617.95zM359.8 229.76H371.69V238.98H359.8zM524.08 229.76H535.96V238.98H524.08zM653.15 229.76H665.04V238.98H653.15zM664.89 229.76H676.77V238.98H664.89zM793.96 229.76H805.85V238.98H793.96zM864.37 229.76H876.25V238.98H864.37zM1052.11 229.76H1063.99V238.98H1052.11zM1075.58 229.76H1087.46V238.98H1075.58zM289.4 238.83H301.28V248.05H289.4zM359.8 256.96H371.69V266.18H359.8zM488.88 256.96H500.76V266.18H488.88zM524.08 256.96H535.96V266.18H524.08zM1040.38 256.96H1052.26V266.18H1040.38zM1063.84 256.96H1075.73V266.18H1063.84zM1075.58 256.96H1087.46V266.18H1075.58zM923.04 275.09H934.92V284.31H923.04zM477.14 284.16H489.03V293.38H477.14zM629.69 293.23H641.57V302.44H629.69zM946.5 293.23H958.39V302.44H946.5zM559.28 302.29H571.17V311.51H559.28zM629.69 302.29H641.57V311.51H629.69zM664.89 302.29H676.77V311.51H664.89zM758.76 302.29H770.64V311.51H758.76zM852.63 302.29H864.52V311.51H852.63zM934.77 302.29H946.65V311.51H934.77zM899.57 311.36H911.45V320.57H899.57zM923.04 311.36H934.92V320.57H923.04zM934.77 311.36H946.65V320.57H934.77zM958.24 311.36H970.12V320.57H958.24zM899.57 320.42H911.45V329.64H899.57zM477.14 374.82H489.03V384.04H477.14zM958.24 383.89H970.12V393.1H958.24zM805.7 392.95H817.58V402.17H805.7zM817.43 392.95H829.31V402.17H817.43zM852.63 392.95H864.52V402.17H852.63zM958.24 402.02H970.12V411.23H958.24zM969.97 402.02H981.86V411.23H969.97zM934.77 764.66H946.65V771.25H934.77z" fill="#d9acff"/>
<path d="M911.3 220.7H923.19V229.91H911.3zM453.68 229.76H465.56V238.98H453.68zM911.3 229.76H923.19V238.98H911.3zM981.71 229.76H993.59V238.98H981.71zM524.08 238.83H535.96V248.05H524.08zM641.42 238.83H653.3V248.05H641.42zM676.62 238.83H688.51V248.05H676.62zM864.37 238.83H876.25V248.05H864.37zM981.71 238.83H993.59V248.05H981.71zM312.87 256.96H324.75V266.18H312.87zM324.6 256.96H336.49V266.18H324.6zM395.01 256.96H406.89V266.18H395.01zM406.74 256.96H418.62V266.18H406.74zM582.75 256.96H594.63V266.18H582.75zM594.48 256.96H606.37V266.18H594.48zM770.49 256.96H782.38V266.18H770.49zM911.3 256.96H923.19V266.18H911.3zM1087.31 256.96H1092.05V266.18H1087.31zM946.5 284.16H958.39V293.38H946.5zM969.97 284.16H981.86V293.38H969.97zM1063.84 293.23H1075.73V302.44H1063.84zM418.47 302.29H430.36V311.51H418.47zM500.61 302.29H512.5V311.51H500.61zM805.7 302.29H817.58V311.51H805.7zM923.04 302.29H934.92V311.51H923.04zM981.71 302.29H993.59V311.51H981.71zM1028.64 302.29H1040.53V311.51H1028.64zM1052.11 302.29H1063.99V311.51H1052.11zM289.4 311.36H301.28V320.57H289.4zM911.3 311.36H923.19V320.57H911.3zM289.4 329.49H301.28V338.71H289.4zM911.3 329.49H923.19V338.71H911.3zM923.04 392.95H934.92V402.17H923.04zM934.77 392.95H946.65V402.17H934.77zM946.5 392.95H958.39V402.17H946.5zM969.97 392.95H981.86V402.17H969.97zM993.44 392.95H1005.32V402.17H993.44zM1005.17 392.95H1017.06V402.17H1005.17zM1016.91 392.95H1028.79V402.17H1016.91zM1040.38 392.95H1052.26V402.17H1040.38zM1052.11 392.95H1063.99V402.17H1052.11zM934.77 755.59H946.65V764.81H934.77z" fill="#ae4fff"/>
<path d="M923.04 220.7H934.92V229.91H923.04zM336.34 238.83H348.22V248.05H336.34zM453.68 238.83H465.56V248.05H453.68zM606.22 238.83H618.1V248.05H606.22zM617.95 238.83H629.84V248.05H617.95zM735.29 238.83H747.18V248.05H735.29zM770.49 238.83H782.38V248.05H770.49zM782.23 238.83H794.11V248.05H782.23zM829.16 238.83H841.05V248.05H829.16zM876.1 247.9H887.98V257.11H876.1zM911.3 247.9H923.19V257.11H911.3zM1005.17 247.9H1017.06V257.11H1005.17zM1028.64 247.9H1040.53V257.11H1028.64zM301.13 256.96H313.02V266.18H301.13zM371.54 256.96H383.42V266.18H371.54zM430.21 256.96H442.09V266.18H430.21zM453.68 256.96H465.56V266.18H453.68zM512.35 256.96H524.23V266.18H512.35zM547.55 256.96H559.43V266.18H547.55zM571.02 256.96H582.9V266.18H571.02zM617.95 256.96H629.84V266.18H617.95zM629.69 256.96H641.57V266.18H629.69zM641.42 256.96H653.3V266.18H641.42zM653.15 256.96H665.04V266.18H653.15zM664.89 256.96H676.77V266.18H664.89zM700.09 256.96H711.97V266.18H700.09zM723.56 256.96H735.44V266.18H723.56zM817.43 256.96H829.31V266.18H817.43zM934.77 256.96H946.65V266.18H934.77zM946.5 256.96H958.39V266.18H946.5zM958.24 256.96H970.12V266.18H958.24zM969.97 256.96H981.86V266.18H969.97zM981.71 256.96H993.59V266.18H981.71zM969.97 302.29H981.86V311.51H969.97zM1063.84 302.29H1075.73V311.51H1063.84zM594.48 311.36H606.37V320.57H594.48zM641.42 311.36H653.3V320.57H641.42zM735.29 311.36H747.18V320.57H735.29zM981.71 311.36H993.59V320.57H981.71zM993.44 311.36H1005.32V320.57H993.44zM876.1 320.42H887.98V329.64H876.1zM934.77 320.42H946.65V329.64H934.77zM946.5 320.42H958.39V329.64H946.5zM958.24 320.42H970.12V329.64H958.24zM981.71 329.49H993.59V338.71H981.71zM441.94 392.95H453.83V402.17H441.94zM1063.84 392.95H1075.73V402.17H1063.84zM1075.58 392.95H1087.46V402.17H1075.58zM1087.31 392.95H1092.05V402.17H1087.31zM923.04 755.59H934.92V764.81H923.04z" fill="#a030ff"/>
<path d="M946.5 220.7H958.39V229.91H946.5zM500.61 229.76H512.5V238.98H500.61zM512.35 229.76H524.23V238.98H512.35zM547.55 229.76H559.43V238.98H547.55zM606.22 229.76H618.1V238.98H606.22zM676.62 229.76H688.51V238.98H676.62zM700.09 229.76H711.97V238.98H700.09zM782.23 229.76H794.11V238.98H782.23zM805.7 229.76H817.58V238.98H805.7zM852.63 229.76H864.52V238.98H852.63zM1005.17 229.76H1017.06V238.98H1005.17zM700.09 238.83H711.97V248.05H700.09zM876.1 238.83H887.98V248.05H876.1zM993.44 238.83H1005.32V248.05H993.44zM899.57 247.9H911.45V257.11H899.57zM348.07 256.96H359.95V266.18H348.07zM923.04 256.96H934.92V266.18H923.04zM1005.17 256.96H1017.06V266.18H1005.17zM793.96 284.16H805.85V293.38H793.96zM934.77 284.16H946.65V293.38H934.77zM993.44 284.16H1005.32V293.38H993.44zM359.8 293.23H371.69V302.44H359.8zM512.35 293.23H524.23V302.44H512.35zM723.56 293.23H735.44V302.44H723.56zM934.77 293.23H946.65V302.44H934.77zM1005.17 293.23H1017.06V302.44H1005.17zM1052.11 293.23H1063.99V302.44H1052.11zM312.87 302.29H324.75V311.51H312.87zM324.6 302.29H336.49V311.51H324.6zM359.8 302.29H371.69V311.51H359.8zM383.27 302.29H395.16V311.51H383.27zM512.35 302.29H524.23V311.51H512.35zM535.81 302.29H547.7V311.51H535.81zM606.22 302.29H618.1V311.51H606.22zM676.62 302.29H688.51V311.51H676.62zM723.56 302.29H735.44V311.51H723.56zM793.96 302.29H805.85V311.51H793.96zM817.43 302.29H829.31V311.51H817.43zM993.44 302.29H1005.32V311.51H993.44zM1005.17 302.29H1017.06V311.51H1005.17zM1016.91 302.29H1028.79V311.51H1016.91zM876.1 311.36H887.98V320.57H876.1zM946.5 311.36H958.39V320.57H946.5zM958.24 329.49H970.12V338.71H958.24zM934.77 383.89H946.65V393.1H934.77zM1028.64 383.89H1040.53V393.1H1028.64zM1040.38 383.89H1052.26V393.1H1040.38zM312.87 392.95H324.75V402.17H312.87zM324.6 392.95H336.49V402.17H324.6zM359.8 392.95H371.69V402.17H359.8zM406.74 392.95H418.62V402.17H406.74zM477.14 392.95H489.03V402.17H477.14zM582.75 392.95H594.63V402.17H582.75zM676.62 392.95H688.51V402.17H676.62zM711.82 392.95H723.71V402.17H711.82zM758.76 392.95H770.64V402.17H758.76zM840.9 392.95H852.78V402.17H840.9zM876.1 392.95H887.98V402.17H876.1zM981.71 392.95H993.59V402.17H981.71zM840.9 755.59H852.78V764.81H840.9zM946.5 755.59H958.39V764.81H946.5zM1087.31 764.66H1092.05V771.25H1087.31z" fill="#cb8dff"/>
<path d="M301.13 229.76H313.02V238.98H301.13zM289.4 256.96H301.28V266.18H289.4zM301.13 402.02H313.02V411.23H301.13zM289.4 755.59H301.28V764.81H289.4zM1087.31 755.59H1092.05V764.81H1087.31zM265.93 764.66H277.82V771.25H265.93z" fill="#f2e2ff"/>
<path d="M923.04 229.76H934.92V238.98H923.04zM958.24 229.76H970.12V238.98H958.24zM301.13 238.83H313.02V248.05H301.13zM324.6 238.83H336.49V248.05H324.6zM395.01 238.83H406.89V248.05H395.01zM477.14 238.83H489.03V248.05H477.14zM500.61 238.83H512.5V248.05H500.61zM653.15 238.83H665.04V248.05H653.15zM793.96 238.83H805.85V248.05H793.96zM852.63 238.83H864.52V248.05H852.63zM911.3 238.83H923.19V248.05H911.3zM1040.38 238.83H1052.26V248.05H1040.38zM1052.11 238.83H1063.99V248.05H1052.11zM1063.84 238.83H1075.73V248.05H1063.84zM1075.58 238.83H1087.46V248.05H1075.58zM289.4 247.9H301.28V257.11H289.4zM981.71 247.9H993.59V257.11H981.71zM747.03 256.96H758.91V266.18H747.03zM758.76 256.96H770.64V266.18H758.76zM864.37 256.96H876.25V266.18H864.37zM324.6 311.36H336.49V320.57H324.6zM359.8 311.36H371.69V320.57H359.8zM535.81 311.36H547.7V320.57H535.81zM571.02 311.36H582.9V320.57H571.02zM617.95 311.36H629.84V320.57H617.95zM653.15 311.36H665.04V320.57H653.15zM676.62 311.36H688.51V320.57H676.62zM700.09 311.36H711.97V320.57H700.09zM711.82 311.36H723.71V320.57H711.82zM758.76 311.36H770.64V320.57H758.76zM770.49 311.36H782.38V320.57H770.49zM805.7 311.36H817.58V320.57H805.7zM817.43 311.36H829.31V320.57H817.43zM1016.91 311.36H1028.79V320.57H1016.91zM1028.64 311.36H1040.53V320.57H1028.64z" fill="#681fff"/>
<path d="M934.77 229.76H946.65V238.98H934.77zM946.5 229.76H958.39V238.98H946.5zM488.88 238.83H500.76V248.05H488.88zM923.04 238.83H934.92V248.05H923.04zM923.04 247.9H934.92V257.11H923.04zM829.16 256.96H841.05V266.18H829.16zM840.9 256.96H852.78V266.18H840.9zM852.63 256.96H864.52V266.18H852.63zM1087.31 293.23H1092.05V302.44H1087.31zM312.87 311.36H324.75V320.57H312.87zM406.74 311.36H418.62V320.57H406.74zM453.68 311.36H465.56V320.57H453.68zM488.88 311.36H500.76V320.57H488.88zM512.35 311.36H524.23V320.57H512.35zM524.08 311.36H535.96V320.57H524.08zM559.28 311.36H571.17V320.57H559.28zM582.75 311.36H594.63V320.57H582.75zM664.89 311.36H676.77V320.57H664.89zM747.03 311.36H758.91V320.57H747.03zM793.96 311.36H805.85V320.57H793.96zM864.37 311.36H876.25V320.57H864.37zM1040.38 311.36H1052.26V320.57H1040.38zM969.97 320.42H981.86V329.64H969.97zM981.71 320.42H993.59V329.64H981.71zM641.42 329.49H653.3V338.71H641.42zM676.62 329.49H688.51V338.71H676.62zM688.36 329.49H700.24V338.71H688.36zM700.09 329.49H711.97V338.71H700.09zM735.29 329.49H747.18V338.71H735.29zM1040.38 329.49H1052.26V338.71H1040.38zM1052.11 329.49H1063.99V338.71H1052.11zM1075.58 329.49H1087.46V338.71H1075.58z" fill="#5018ff"/>
<path d="M969.97 229.76H981.86V238.98H969.97zM312.87 238.83H324.75V248.05H312.87zM348.07 238.83H359.95V248.05H348.07zM359.8 238.83H371.69V248.05H359.8zM371.54 238.83H383.42V248.05H371.54zM383.27 238.83H395.16V248.05H383.27zM406.74 238.83H418.62V248.05H406.74zM418.47 238.83H430.36V248.05H418.47zM430.21 238.83H442.09V248.05H430.21zM441.94 238.83H453.83V248.05H441.94zM465.41 238.83H477.29V248.05H465.41zM512.35 238.83H524.23V248.05H512.35zM535.81 238.83H547.7V248.05H535.81zM547.55 238.83H559.43V248.05H547.55zM559.28 238.83H571.17V248.05H559.28zM571.02 238.83H582.9V248.05H571.02zM582.75 238.83H594.63V248.05H582.75zM594.48 238.83H606.37V248.05H594.48zM629.69 238.83H641.57V248.05H629.69zM664.89 238.83H676.77V248.05H664.89zM688.36 238.83H700.24V248.05H688.36zM711.82 238.83H723.71V248.05H711.82zM723.56 238.83H735.44V248.05H723.56zM747.03 238.83H758.91V248.05H747.03zM758.76 238.83H770.64V248.05H758.76zM805.7 238.83H817.58V248.05H805.7zM817.43 238.83H829.31V248.05H817.43zM840.9 238.83H852.78V248.05H840.9zM993.44 247.9H1005.32V257.11H993.44zM1016.91 247.9H1028.79V257.11H1016.91zM1040.38 247.9H1052.26V257.11H1040.38zM383.27 256.96H395.16V266.18H383.27zM441.94 256.96H453.83V266.18H441.94zM477.14 256.96H489.03V266.18H477.14zM500.61 256.96H512.5V266.18H500.61zM535.81 256.96H547.7V266.18H535.81zM559.28 256.96H571.17V266.18H559.28zM606.22 256.96H618.1V266.18H606.22zM676.62 256.96H688.51V266.18H676.62zM688.36 256.96H700.24V266.18H688.36zM711.82 256.96H723.71V266.18H711.82zM735.29 256.96H747.18V266.18H735.29zM782.23 256.96H794.11V266.18H782.23zM793.96 256.96H805.85V266.18H793.96zM805.7 256.96H817.58V266.18H805.7zM923.04 293.23H934.92V302.44H923.04zM969.97 293.23H981.86V302.44H969.97zM1075.58 293.23H1087.46V302.44H1075.58zM1075.58 302.29H1087.46V311.51H1075.58zM371.54 311.36H383.42V320.57H371.54zM430.21 311.36H442.09V320.57H430.21zM547.55 311.36H559.43V320.57H547.55zM606.22 311.36H618.1V320.57H606.22zM629.69 311.36H641.57V320.57H629.69zM688.36 311.36H700.24V320.57H688.36zM723.56 311.36H735.44V320.57H723.56zM782.23 311.36H794.11V320.57H782.23zM829.16 311.36H841.05V320.57H829.16zM840.9 311.36H852.78V320.57H840.9zM852.63 311.36H864.52V320.57H852.63zM969.97 311.36H981.86V320.57H969.97zM1005.17 311.36H1017.06V320.57H1005.17zM547.55 329.49H559.43V338.71H547.55zM629.69 329.49H641.57V338.71H629.69zM969.97 329.49H981.86V338.71H969.97zM993.44 329.49H1005.32V338.71H993.44zM1005.17 329.49H1017.06V338.71H1005.17zM1016.91 329.49H1028.79V338.71H1016.91zM1028.64 329.49H1040.53V338.71H1028.64zM958.24 392.95H970.12V402.17H958.24z" fill="#8026ff"/>
<path d="M934.77 238.83H946.65V248.05H934.77zM946.5 238.83H958.39V248.05H946.5zM958.24 238.83H970.12V248.05H958.24zM969.97 238.83H981.86V248.05H969.97zM336.34 247.9H348.22V257.11H336.34zM383.27 247.9H395.16V257.11H383.27zM441.94 247.9H453.83V257.11H441.94zM524.08 247.9H535.96V257.11H524.08zM594.48 247.9H606.37V257.11H594.48zM653.15 247.9H665.04V257.11H653.15zM664.89 247.9H676.77V257.11H664.89zM700.09 247.9H711.97V257.11H700.09zM770.49 247.9H782.38V257.11H770.49zM782.23 247.9H794.11V257.11H782.23zM840.9 247.9H852.78V257.11H840.9zM1052.11 247.9H1063.99V257.11H1052.11zM1063.84 247.9H1075.73V257.11H1063.84zM1075.58 247.9H1087.46V257.11H1075.58zM1087.31 302.29H1092.05V311.51H1087.31zM336.34 311.36H348.22V320.57H336.34zM348.07 311.36H359.95V320.57H348.07zM383.27 311.36H395.16V320.57H383.27zM395.01 311.36H406.89V320.57H395.01zM418.47 311.36H430.36V320.57H418.47zM441.94 311.36H453.83V320.57H441.94zM465.41 311.36H477.29V320.57H465.41zM477.14 311.36H489.03V320.57H477.14zM500.61 311.36H512.5V320.57H500.61zM1052.11 311.36H1063.99V320.57H1052.11zM1063.84 311.36H1075.73V320.57H1063.84zM1075.58 311.36H1087.46V320.57H1075.58zM993.44 320.42H1005.32V329.64H993.44zM1005.17 320.42H1017.06V329.64H1005.17zM1016.91 320.42H1028.79V329.64H1016.91zM1028.64 320.42H1040.53V329.64H1028.64zM336.34 329.49H348.22V338.71H336.34zM371.54 329.49H383.42V338.71H371.54zM418.47 329.49H430.36V338.71H418.47zM465.41 329.49H477.29V338.71H465.41zM524.08 329.49H535.96V338.71H524.08zM559.28 329.49H571.17V338.71H559.28zM582.75 329.49H594.63V338.71H582.75zM606.22 329.49H618.1V338.71H606.22zM653.15 329.49H665.04V338.71H653.15zM664.89 329.49H676.77V338.71H664.89zM711.82 329.49H723.71V338.71H711.82zM723.56 329.49H735.44V338.71H723.56zM770.49 329.49H782.38V338.71H770.49zM782.23 329.49H794.11V338.71H782.23zM840.9 329.49H852.78V338.71H840.9zM864.37 329.49H876.25V338.71H864.37zM1063.84 329.49H1075.73V338.71H1063.84zM1087.31 329.49H1092.05V338.71H1087.31z" fill="#3811ff"/>
<path d="M1087.31 238.83H1092.05V248.05H1087.31zM312.87 247.9H324.75V257.11H312.87zM324.6 247.9H336.49V257.11H324.6zM348.07 247.9H359.95V257.11H348.07zM359.8 247.9H371.69V257.11H359.8zM371.54 247.9H383.42V257.11H371.54zM395.01 247.9H406.89V257.11H395.01zM406.74 247.9H418.62V257.11H406.74zM418.47 247.9H430.36V257.11H418.47zM430.21 247.9H442.09V257.11H430.21zM453.68 247.9H465.56V257.11H453.68zM465.41 247.9H477.29V257.11H465.41zM488.88 247.9H500.76V257.11H488.88zM500.61 247.9H512.5V257.11H500.61zM512.35 247.9H524.23V257.11H512.35zM535.81 247.9H547.7V257.11H535.81zM571.02 247.9H582.9V257.11H571.02zM582.75 247.9H594.63V257.11H582.75zM606.22 247.9H618.1V257.11H606.22zM617.95 247.9H629.84V257.11H617.95zM629.69 247.9H641.57V257.11H629.69zM641.42 247.9H653.3V257.11H641.42zM676.62 247.9H688.51V257.11H676.62zM688.36 247.9H700.24V257.11H688.36zM711.82 247.9H723.71V257.11H711.82zM723.56 247.9H735.44V257.11H723.56zM747.03 247.9H758.91V257.11H747.03zM758.76 247.9H770.64V257.11H758.76zM852.63 247.9H864.52V257.11H852.63zM864.37 247.9H876.25V257.11H864.37zM934.77 247.9H946.65V257.11H934.77zM946.5 247.9H958.39V257.11H946.5zM958.24 247.9H970.12V257.11H958.24zM969.97 247.9H981.86V257.11H969.97zM301.13 311.36H313.02V320.57H301.13zM289.4 320.42H301.28V329.64H289.4zM312.87 329.49H324.75V338.71H312.87zM324.6 329.49H336.49V338.71H324.6zM348.07 329.49H359.95V338.71H348.07zM359.8 329.49H371.69V338.71H359.8zM383.27 329.49H395.16V338.71H383.27zM395.01 329.49H406.89V338.71H395.01zM406.74 329.49H418.62V338.71H406.74zM430.21 329.49H442.09V338.71H430.21zM441.94 329.49H453.83V338.71H441.94zM453.68 329.49H465.56V338.71H453.68zM477.14 329.49H489.03V338.71H477.14zM488.88 329.49H500.76V338.71H488.88zM500.61 329.49H512.5V338.71H500.61zM512.35 329.49H524.23V338.71H512.35zM535.81 329.49H547.7V338.71H535.81zM571.02 329.49H582.9V338.71H571.02zM594.48 329.49H606.37V338.71H594.48zM617.95 329.49H629.84V338.71H617.95zM747.03 329.49H758.91V338.71H747.03zM758.76 329.49H770.64V338.71H758.76zM793.96 329.49H805.85V338.71H793.96zM805.7 329.49H817.58V338.71H805.7zM817.43 329.49H829.31V338.71H817.43zM829.16 329.49H841.05V338.71H829.16zM852.63 329.49H864.52V338.71H852.63z" fill="#200aff"/>
<path d="M301.13 247.9H313.02V257.11H301.13zM641.42 320.42H653.3V329.64H641.42zM664.89 320.42H676.77V329.64H664.89zM711.82 320.42H723.71V329.64H711.82zM723.56 320.42H735.44V329.64H723.56zM1040.38 320.42H1052.26V329.64H1040.38zM1052.11 320.42H1063.99V329.64H1052.11z" fill="#0000ff"/>
<path d="M477.14 247.9H489.03V257.11H477.14zM547.55 247.9H559.43V257.11H547.55zM559.28 247.9H571.17V257.11H559.28zM735.29 247.9H747.18V257.11H735.29zM793.96 247.9H805.85V257.11H793.96zM805.7 247.9H817.58V257.11H805.7zM817.43 247.9H829.31V257.11H817.43zM829.16 247.9H841.05V257.11H829.16zM1087.31 247.9H1092.05V257.11H1087.31zM1087.31 311.36H1092.05V320.57H1087.31zM301.13 329.49H313.02V338.71H301.13z" fill="#1005ff"/>
<path d="M301.13 320.42H313.02V329.64H301.13zM312.87 320.42H324.75V329.64H312.87zM359.8 320.42H371.69V329.64H359.8zM371.54 320.42H383.42V329.64H371.54zM383.27 320.42H395.16V329.64H383.27zM430.21 320.42H442.09V329.64H430.21zM465.41 320.42H477.29V329.64H465.41zM477.14 320.42H489.03V329.64H477.14zM758.76 320.42H770.64V329.64H758.76zM793.96 320.42H805.85V329.64H793.96zM864.37 320.42H876.25V329.64H864.37zM1075.58 320.42H1087.46V329.64H1075.58zM1087.31 320.42H1092.05V329.64H1087.31z" fill="#0046b9"/>
<path d="M324.6 320.42H336.49V329.64H324.6zM336.34 320.42H348.22V329.64H336.34zM348.07 320.42H359.95V329.64H348.07zM395.01 320.42H406.89V329.64H395.01zM406.74 320.42H418.62V329.64H406.74zM418.47 320.42H430.36V329.64H418.47zM441.94 320.42H453.83V329.64H441.94zM453.68 320.42H465.56V329.64H453.68zM500.61 320.42H512.5V329.64H500.61zM512.35 320.42H524.23V329.64H512.35zM805.7 320.42H817.58V329.64H805.7z" fill="#00609f"/>
<path d="M488.88 320.42H500.76V329.64H488.88z" fill="#008080"/>
<path d="M524.08 320.42H535.96V329.64H524.08zM535.81 320.42H547.7V329.64H535.81zM547.55 320.42H559.43V329.64H547.55zM559.28 320.42H571.17V329.64H559.28zM571.02 320.42H582.9V329.64H571.02zM582.75 320.42H594.63V329.64H582.75zM594.48 320.42H606.37V329.64H594.48zM606.22 320.42H618.1V329.64H606.22zM617.95 320.42H629.84V329.64H617.95zM629.69 320.42H641.57V329.64H629.69zM653.15 320.42H665.04V329.64H653.15zM676.62 320.42H688.51V329.64H676.62zM688.36 320.42H700.24V329.64H688.36zM700.09 320.42H711.97V329.64H700.09zM735.29 320.42H747.18V329.64H735.29zM747.03 320.42H758.91V329.64H747.03zM770.49 320.42H782.38V329.64H770.49zM782.23 320.42H794.11V329.64H782.23zM817.43 320.42H829.31V329.64H817.43zM829.16 320.42H841.05V329.64H829.16zM840.9 320.42H852.78V329.64H840.9zM852.63 320.42H864.52V329.64H852.63zM1063.84 320.42H1075.73V329.64H1063.84z" fill="#0026d9"/>
<path d="M293.21 191.9V772.1M346.53 191.9V772.1M399.84 191.9V772.1M506.46 191.9V772.1M559.78 191.9V772.1M613.09 191.9V772.1M719.71 191.9V772.1M773.03 191.9V772.1M826.34 191.9V772.1M932.96 191.9V772.1M986.28 191.9V772.1M1039.59 191.9V772.1" stroke="#7c7c7c" stroke-width="2.1" stroke-dasharray="2.1 3.75" fill="none"/>
<path d="M453.15 191.9V772.1M666.4 191.9V772.1M879.65 191.9V772.1" stroke="#808080" stroke-width="4.1" stroke-dasharray="4.1 6.9" stroke-dashoffset="-2" fill="none"/>
<path d="M239.9 265.37H1092.9M239.9 410.42H1092.9M239.9 555.47H1092.9M239.9 700.53H1092.9" stroke="#000" stroke-width="1.3" stroke-dasharray="1.4 2.3" fill="none"/>
<path d="M239.9 337.89H1092.9M239.9 482.95H1092.9M239.9 628H1092.9" stroke="#000" stroke-width="1.2" stroke-dasharray="5.2 2.2" fill="none"/>
<path d="M293.21 191.9v5.6M293.21 772.1v-5.6M346.53 191.9v5.6M346.53 772.1v-5.6M399.84 191.9v5.6M399.84 772.1v-5.6M453.15 191.9v10.6M453.15 772.1v-10.6M506.46 191.9v5.6M506.46 772.1v-5.6M559.78 191.9v5.6M559.78 772.1v-5.6M613.09 191.9v5.6M613.09 772.1v-5.6M666.4 191.9v10.6M666.4 772.1v-10.6M719.71 191.9v5.6M719.71 772.1v-5.6M773.03 191.9v5.6M773.03 772.1v-5.6M826.34 191.9v5.6M826.34 772.1v-5.6M879.65 191.9v10.6M879.65 772.1v-10.6M932.96 191.9v5.6M932.96 772.1v-5.6M986.28 191.9v5.6M986.28 772.1v-5.6M1039.59 191.9v5.6M1039.59 772.1v-5.6" stroke="#000" stroke-width="1.9" fill="none"/>
<path d="M239.9 735.89h10.6M1092.9 735.89h-10.6M239.9 663.36h10.6M1092.9 663.36h-10.6M239.9 590.84h10.6M1092.9 590.84h-10.6M239.9 518.31h10.6M1092.9 518.31h-10.6M239.9 445.78h10.6M1092.9 445.78h-10.6M239.9 373.26h10.6M1092.9 373.26h-10.6M239.9 300.73h10.6M1092.9 300.73h-10.6M239.9 228.2h10.6M1092.9 228.2h-10.6M239.9 754.02h5.6M239.9 717.76h5.6M239.9 699.63h5.6M239.9 681.49h5.6M239.9 645.23h5.6M239.9 627.1h5.6M239.9 608.97h5.6M239.9 572.7h5.6M239.9 554.57h5.6M239.9 536.44h5.6M239.9 500.18h5.6M239.9 482.05h5.6M239.9 463.91h5.6M239.9 427.65h5.6M239.9 409.52h5.6M239.9 391.39h5.6M239.9 355.12h5.6M239.9 336.99h5.6M239.9 318.86h5.6M239.9 282.6h5.6M239.9 264.47h5.6M239.9 246.33h5.6M239.9 210.07h5.6" stroke="#000" stroke-width="1.9" fill="none"/>
<path d="M240 294.9L1088 295.3" stroke="#00f5c4" stroke-width="8.2" fill="none" stroke-dasharray="25 25"/>
<path d="M240 294.9L1088 295.3" stroke="#000" stroke-width="3.1" fill="none" stroke-dasharray="25 25"/>
<path d="M240 445.9L1088 438.8" stroke="#00f5c4" stroke-width="8.2" fill="none"/>
<path d="M240 445.9L1088 438.8" stroke="#000" stroke-width="3.1" fill="none"/>
<path d="M240 734.7H1082" stroke="#00f5c4" stroke-width="8.2" fill="none" stroke-dasharray="25 8.33 8.34 8.33"/>
<path d="M240 734.7H1082" stroke="#000" stroke-width="3.1" fill="none" stroke-dasharray="25 8.33 8.34 8.33"/>
<rect x="239.9" y="191.9" width="853" height="580.2" fill="none" stroke="#000" stroke-width="2.1"/>
<path d="M308.2 163.1h25.2M358 163.1h25.2" stroke="#00f5c4" stroke-width="8.2" fill="none"/>
<path d="M308.2 163.1h25.2M358 163.1h25.2" stroke="#000" stroke-width="3.1" fill="none"/>
<path d="M585.9 163.1h91.2" stroke="#00f5c4" stroke-width="8.2"/>
<path d="M588.7 163.1h86.4" stroke="#000" stroke-width="3.1"/>
<path d="M829.8 163.1h24.9M863.3 163.1h8.3M880.2 163.1h24.9" stroke="#00f5c4" stroke-width="8.2" fill="none"/>
<path d="M829.8 163.1h24.9M863.3 163.1h8.3M880.2 163.1h24.9" stroke="#000" stroke-width="3.1" fill="none"/>
<rect x="1204.1" y="201.8" width="27.8" height="553" fill="url(#cv)" stroke="#000" stroke-width="2.3"/>
<path d="M1231.9 270.93h-10M1231.9 340.05h-10M1231.9 409.18h-10M1231.9 478.3h-10M1231.9 547.42h-10M1231.9 616.55h-10M1231.9 685.67h-10" stroke="#000" stroke-width="1.9"/>
<path d="M289.4 1173.87H301.28V1176.83H289.4zM289.4 1154.54H301.28V1157.5H289.4zM289.4 1149.02H301.28V1151.98H289.4zM289.4 1110.36H301.28V1113.32H289.4zM289.4 1102.08H301.28V1105.04H289.4zM289.4 1093.8H301.28V1096.76H289.4zM301.13 1201.48H313.02V1204.44H301.13zM301.13 1082.75H313.02V1085.71H301.13zM301.13 1052.38H313.02V1055.34H301.13zM312.87 1082.75H324.75V1085.71H312.87zM312.87 1052.38H324.75V1055.34H312.87zM312.87 1008.21H324.75V1011.17H312.87zM324.6 1212.52H336.49V1215.48H324.6zM324.6 1099.32H336.49V1102.28H324.6zM324.6 1082.75H336.49V1085.71H324.6zM324.6 1063.43H336.49V1066.39H324.6zM336.34 1171.11H348.22V1174.07H336.34zM336.34 1110.36H348.22V1113.32H336.34zM336.34 1033.06H348.22V1036.02H336.34zM348.07 1074.47H359.95V1077.43H348.07zM359.8 1187.67H371.69V1190.63H359.8zM359.8 1184.91H371.69V1187.87H359.8zM359.8 1176.63H371.69V1179.59H359.8zM359.8 1055.14H371.69V1058.1H359.8zM371.54 1179.39H383.42V1182.35H371.54zM371.54 1099.32H383.42V1102.28H371.54zM371.54 1096.56H383.42V1099.52H371.54zM383.27 1184.91H395.16V1187.87H383.27zM383.27 1176.63H395.16V1179.59H383.27zM383.27 1171.11H395.16V1174.07H383.27zM383.27 1082.75H395.16V1085.71H383.27zM395.01 1088.28H406.89V1091.24H395.01zM395.01 1027.53H406.89V1030.49H395.01zM406.74 1204.24H418.62V1207.2H406.74zM406.74 1102.08H418.62V1105.04H406.74zM406.74 1060.67H418.62V1063.63H406.74zM418.47 1184.91H430.36V1187.87H418.47zM418.47 1179.39H430.36V1182.35H418.47zM418.47 1066.19H430.36V1069.15H418.47zM418.47 1057.9H430.36V1060.87H418.47zM430.21 1193.19H442.09V1196.15H430.21zM430.21 1184.91H442.09V1187.87H430.21zM430.21 1182.15H442.09V1185.11H430.21zM430.21 1060.67H442.09V1063.63H430.21zM441.94 1104.84H453.83V1107.8H441.94zM441.94 1074.47H453.83V1077.43H441.94zM453.68 1195.95H465.56V1198.92H453.68zM453.68 1019.25H465.56V1022.21H453.68zM453.68 980.6H465.56V983.56H453.68zM465.41 1168.34H477.29V1171.31H465.41zM465.41 1093.8H477.29V1096.76H465.41zM477.14 1209.76H489.03V1212.72H477.14zM477.14 1093.8H489.03V1096.76H477.14zM488.88 1182.15H500.76V1185.11H488.88zM488.88 1176.63H500.76V1179.59H488.88zM488.88 1093.8H500.76V1096.76H488.88zM488.88 1088.28H500.76V1091.24H488.88zM488.88 1082.75H500.76V1085.71H488.88zM488.88 1049.62H500.76V1052.58H488.88zM500.61 1198.72H512.5V1201.68H500.61zM500.61 1184.91H512.5V1187.87H500.61zM500.61 1182.15H512.5V1185.11H500.61zM500.61 1074.47H512.5V1077.43H500.61zM512.35 1198.72H524.23V1201.68H512.35zM512.35 1187.67H524.23V1190.63H512.35zM512.35 1104.84H524.23V1107.8H512.35zM512.35 1093.8H524.23V1096.76H512.35zM524.08 1193.19H535.96V1196.15H524.08zM524.08 1184.91H535.96V1187.87H524.08zM524.08 1135.21H535.96V1138.17H524.08zM524.08 1082.75H535.96V1085.71H524.08zM524.08 1079.99H535.96V1082.95H524.08zM524.08 1049.62H535.96V1052.58H524.08zM535.81 1212.52H547.7V1215.48H535.81zM535.81 1190.43H547.7V1193.39H535.81zM535.81 1184.91H547.7V1187.87H535.81zM535.81 1085.51H547.7V1088.48H535.81zM535.81 1082.75H547.7V1085.71H535.81zM535.81 1077.23H547.7V1080.19H535.81zM535.81 1016.49H547.7V1019.45H535.81zM547.55 1104.84H559.43V1107.8H547.55zM559.28 1184.91H571.17V1187.87H559.28zM559.28 1055.14H571.17V1058.1H559.28zM559.28 1046.86H571.17V1049.82H559.28zM571.02 1195.95H582.9V1198.92H571.02zM571.02 1129.69H582.9V1132.65H571.02zM571.02 1091.04H582.9V1094H571.02zM571.02 1071.71H582.9V1074.67H571.02zM571.02 1055.14H582.9V1058.1H571.02zM582.75 988.88H594.63V991.84H582.75zM594.48 1190.43H606.37V1193.39H594.48zM594.48 1184.91H606.37V1187.87H594.48zM594.48 1082.75H606.37V1085.71H594.48zM617.95 1176.63H629.84V1179.59H617.95zM617.95 1162.82H629.84V1165.78H617.95zM617.95 1057.9H629.84V1060.87H617.95zM617.95 1019.25H629.84V1022.21H617.95zM641.42 1104.84H653.3V1107.8H641.42zM641.42 1102.08H653.3V1105.04H641.42zM641.42 1077.23H653.3V1080.19H641.42zM641.42 1052.38H653.3V1055.34H641.42zM653.15 1176.63H665.04V1179.59H653.15zM653.15 1093.8H665.04V1096.76H653.15zM653.15 1071.71H665.04V1074.67H653.15zM653.15 1066.19H665.04V1069.15H653.15zM676.62 1187.67H688.51V1190.63H676.62zM676.62 1091.04H688.51V1094H676.62zM688.36 1207H700.24V1209.96H688.36zM688.36 1187.67H700.24V1190.63H688.36zM700.09 1182.15H711.97V1185.11H700.09zM700.09 1168.34H711.97V1171.31H700.09zM700.09 1091.04H711.97V1094H700.09zM700.09 1071.71H711.97V1074.67H700.09zM700.09 1060.67H711.97V1063.63H700.09zM711.82 1207H723.71V1209.96H711.82zM711.82 1182.15H723.71V1185.11H711.82zM711.82 1168.34H723.71V1171.31H711.82zM711.82 1060.67H723.71V1063.63H711.82zM711.82 1030.29H723.71V1033.26H711.82zM723.56 1190.43H735.44V1193.39H723.56zM723.56 1157.3H735.44V1160.26H723.56zM723.56 1046.86H735.44V1049.82H723.56zM723.56 1044.1H735.44V1047.06H723.56zM723.56 1019.25H735.44V1022.21H723.56zM723.56 1013.73H735.44V1016.69H723.56zM735.29 1179.39H747.18V1182.35H735.29zM735.29 1176.63H747.18V1179.59H735.29zM735.29 1082.75H747.18V1085.71H735.29zM735.29 1068.95H747.18V1071.91H735.29zM747.03 1173.87H758.91V1176.83H747.03zM747.03 1088.28H758.91V1091.24H747.03zM758.76 1171.11H770.64V1174.07H758.76zM758.76 1154.54H770.64V1157.5H758.76zM758.76 1060.67H770.64V1063.63H758.76zM758.76 1024.77H770.64V1027.73H758.76zM770.49 1091.04H782.38V1094H770.49zM770.49 1088.28H782.38V1091.24H770.49zM782.23 1102.08H794.11V1105.04H782.23zM782.23 1063.43H794.11V1066.39H782.23zM782.23 1044.1H794.11V1047.06H782.23zM793.96 1204.24H805.85V1207.2H793.96zM793.96 1162.82H805.85V1165.78H793.96zM793.96 1074.47H805.85V1077.43H793.96zM805.7 1195.95H817.58V1198.92H805.7zM805.7 1179.39H817.58V1182.35H805.7zM805.7 1173.87H817.58V1176.83H805.7zM805.7 1165.58H817.58V1168.54H805.7zM805.7 1079.99H817.58V1082.95H805.7zM805.7 1074.47H817.58V1077.43H805.7zM805.7 1005.45H817.58V1008.41H805.7zM817.43 1060.67H829.31V1063.63H817.43zM817.43 1027.53H829.31V1030.49H817.43zM829.16 1193.19H841.05V1196.15H829.16zM829.16 1071.71H841.05V1074.67H829.16zM829.16 1044.1H841.05V1047.06H829.16zM840.9 1176.63H852.78V1179.59H840.9zM840.9 1113.12H852.78V1116.09H840.9zM840.9 1093.8H852.78V1096.76H840.9zM840.9 1077.23H852.78V1080.19H840.9zM840.9 1044.1H852.78V1047.06H840.9zM852.63 1184.91H864.52V1187.87H852.63zM852.63 1173.87H864.52V1176.83H852.63zM852.63 1165.58H864.52V1168.54H852.63zM852.63 1085.51H864.52V1088.48H852.63zM852.63 1066.19H864.52V1069.15H852.63zM852.63 1019.25H864.52V1022.21H852.63zM864.37 1195.95H876.25V1198.92H864.37zM864.37 1160.06H876.25V1163.02H864.37zM864.37 1071.71H876.25V1074.67H864.37zM876.1 1146.26H887.98V1149.22H876.1zM876.1 1143.5H887.98V1146.46H876.1zM876.1 1121.41H887.98V1124.37H876.1zM899.57 1154.54H911.45V1157.5H899.57zM899.57 1151.78H911.45V1154.74H899.57zM899.57 1146.26H911.45V1149.22H899.57zM899.57 1110.36H911.45V1113.32H899.57zM899.57 1107.6H911.45V1110.56H899.57zM899.57 1099.32H911.45V1102.28H899.57zM911.3 1184.91H923.19V1187.87H911.3zM911.3 1165.58H923.19V1168.54H911.3zM911.3 1162.82H923.19V1165.78H911.3zM911.3 1157.3H923.19V1160.26H911.3zM911.3 1143.5H923.19V1146.46H911.3zM923.04 1184.91H934.92V1187.87H923.04zM923.04 1168.34H934.92V1171.31H923.04zM923.04 1157.3H934.92V1160.26H923.04zM923.04 1121.41H934.92V1124.37H923.04zM923.04 1099.32H934.92V1102.28H923.04zM923.04 1082.75H934.92V1085.71H923.04zM923.04 1079.99H934.92V1082.95H923.04zM923.04 1024.77H934.92V1027.73H923.04zM923.04 1019.25H934.92V1022.21H923.04zM934.77 1184.91H946.65V1187.87H934.77zM934.77 1182.15H946.65V1185.11H934.77zM934.77 1140.73H946.65V1143.7H934.77zM934.77 1137.97H946.65V1140.93H934.77zM934.77 1124.17H946.65V1127.13H934.77zM934.77 1110.36H946.65V1113.32H934.77zM934.77 1099.32H946.65V1102.28H934.77zM934.77 1077.23H946.65V1080.19H934.77zM934.77 1052.38H946.65V1055.34H934.77zM946.5 1151.78H958.39V1154.74H946.5zM946.5 1140.73H958.39V1143.7H946.5zM946.5 1135.21H958.39V1138.17H946.5zM946.5 1093.8H958.39V1096.76H946.5zM946.5 1079.99H958.39V1082.95H946.5zM946.5 1038.58H958.39V1041.54H946.5zM958.24 1207H970.12V1209.96H958.24zM958.24 1132.45H970.12V1135.41H958.24zM958.24 1121.41H970.12V1124.37H958.24zM958.24 1102.08H970.12V1105.04H958.24zM958.24 1071.71H970.12V1074.67H958.24zM969.97 1242.89H981.86V1245.85H969.97zM969.97 1223.56H981.86V1226.53H969.97zM969.97 1201.48H981.86V1204.44H969.97zM969.97 1184.91H981.86V1187.87H969.97zM969.97 1146.26H981.86V1149.22H969.97zM969.97 1110.36H981.86V1113.32H969.97zM969.97 1102.08H981.86V1105.04H969.97zM969.97 1096.56H981.86V1099.52H969.97zM969.97 1088.28H981.86V1091.24H969.97zM981.71 1226.33H993.59V1229.29H981.71zM981.71 1201.48H993.59V1204.44H981.71zM981.71 1195.95H993.59V1198.92H981.71zM981.71 1162.82H993.59V1165.78H981.71zM981.71 1132.45H993.59V1135.41H981.71zM981.71 1055.14H993.59V1058.1H981.71zM993.44 1187.67H1005.32V1190.63H993.44zM993.44 1182.15H1005.32V1185.11H993.44zM993.44 1173.87H1005.32V1176.83H993.44zM993.44 1171.11H1005.32V1174.07H993.44zM993.44 1160.06H1005.32V1163.02H993.44zM993.44 1124.17H1005.32V1127.13H993.44zM993.44 1113.12H1005.32V1116.09H993.44zM993.44 1077.23H1005.32V1080.19H993.44zM993.44 1063.43H1005.32V1066.39H993.44zM1005.17 1173.87H1017.06V1176.83H1005.17zM1005.17 1168.34H1017.06V1171.31H1005.17zM1016.91 1226.33H1028.79V1229.29H1016.91zM1016.91 1193.19H1028.79V1196.15H1016.91zM1016.91 1165.58H1028.79V1168.54H1016.91zM1016.91 1137.97H1028.79V1140.93H1016.91zM1016.91 1110.36H1028.79V1113.32H1016.91zM1016.91 1099.32H1028.79V1102.28H1016.91zM1028.64 1182.15H1040.53V1185.11H1028.64zM1028.64 1179.39H1040.53V1182.35H1028.64zM1028.64 1160.06H1040.53V1163.02H1028.64zM1028.64 1107.6H1040.53V1110.56H1028.64zM1028.64 1066.19H1040.53V1069.15H1028.64zM1040.38 1195.95H1052.26V1198.92H1040.38zM1040.38 1121.41H1052.26V1124.37H1040.38zM1040.38 1115.89H1052.26V1118.85H1040.38zM1040.38 1102.08H1052.26V1105.04H1040.38zM1040.38 1060.67H1052.26V1063.63H1040.38zM1052.11 1209.76H1063.99V1212.72H1052.11zM1052.11 1195.95H1063.99V1198.92H1052.11zM1052.11 1099.32H1063.99V1102.28H1052.11zM1052.11 1091.04H1063.99V1094H1052.11zM1063.84 1187.67H1075.73V1190.63H1063.84zM1063.84 1179.39H1075.73V1182.35H1063.84zM1063.84 1088.28H1075.73V1091.24H1063.84zM1063.84 1074.47H1075.73V1077.43H1063.84zM1063.84 1049.62H1075.73V1052.58H1063.84zM1075.58 1093.8H1087.46V1096.76H1075.58zM1087.31 1298.11H1092.05V1301.07H1087.31zM1087.31 1245.65H1092.05V1248.61H1087.31zM1087.31 1187.67H1092.05V1190.63H1087.31zM1087.31 1055.14H1092.05V1058.1H1087.31zM1087.31 994.4H1092.05V997.36H1087.31zM1087.31 941.94H1092.05V944.9H1087.31zM1087.31 928.14H1092.05V931.1H1087.31zM1087.31 886.72H1092.05V889.68H1087.31zM1087.31 850.83H1092.05V853.79H1087.31z" fill="#fbf7ff"/>
<path d="M289.4 1157.3H301.28V1160.26H289.4zM289.4 1151.78H301.28V1154.74H289.4zM289.4 1135.21H301.28V1138.17H289.4zM289.4 1132.45H301.28V1135.41H289.4zM289.4 1124.17H301.28V1127.13H289.4zM289.4 1118.65H301.28V1121.61H289.4zM289.4 1113.12H301.28V1116.09H289.4zM301.13 1182.15H313.02V1185.11H301.13zM301.13 1096.56H313.02V1099.52H301.13zM301.13 1093.8H313.02V1096.76H301.13zM301.13 1085.51H313.02V1088.48H301.13zM301.13 1079.99H313.02V1082.95H301.13zM312.87 1182.15H324.75V1185.11H312.87zM312.87 1171.11H324.75V1174.07H312.87zM312.87 1124.17H324.75V1127.13H312.87zM312.87 1107.6H324.75V1110.56H312.87zM324.6 1187.67H336.49V1190.63H324.6zM324.6 1184.91H336.49V1187.87H324.6zM324.6 1171.11H336.49V1174.07H324.6zM324.6 1162.82H336.49V1165.78H324.6zM324.6 1104.84H336.49V1107.8H324.6zM324.6 1102.08H336.49V1105.04H324.6zM324.6 1096.56H336.49V1099.52H324.6zM336.34 1176.63H348.22V1179.59H336.34zM336.34 1137.97H348.22V1140.93H336.34zM336.34 1088.28H348.22V1091.24H336.34zM348.07 1187.67H359.95V1190.63H348.07zM348.07 1176.63H359.95V1179.59H348.07zM348.07 1165.58H359.95V1168.54H348.07zM348.07 1121.41H359.95V1124.37H348.07zM359.8 1171.11H371.69V1174.07H359.8zM359.8 1132.45H371.69V1135.41H359.8zM359.8 1121.41H371.69V1124.37H359.8zM359.8 1107.6H371.69V1110.56H359.8zM359.8 1104.84H371.69V1107.8H359.8zM359.8 1099.32H371.69V1102.28H359.8zM359.8 1096.56H371.69V1099.52H359.8zM359.8 1079.99H371.69V1082.95H359.8zM371.54 1184.91H383.42V1187.87H371.54zM371.54 1182.15H383.42V1185.11H371.54zM371.54 1173.87H383.42V1176.83H371.54zM371.54 1140.73H383.42V1143.7H371.54zM383.27 1179.39H395.16V1182.35H383.27zM383.27 1088.28H395.16V1091.24H383.27zM383.27 1066.19H395.16V1069.15H383.27zM395.01 1193.19H406.89V1196.15H395.01zM395.01 1176.63H406.89V1179.59H395.01zM395.01 1113.12H406.89V1116.09H395.01zM406.74 1184.91H418.62V1187.87H406.74zM406.74 1165.58H418.62V1168.54H406.74zM406.74 1162.82H418.62V1165.78H406.74zM406.74 1140.73H418.62V1143.7H406.74zM406.74 1113.12H418.62V1116.09H406.74zM418.47 1171.11H430.36V1174.07H418.47zM418.47 1149.02H430.36V1151.98H418.47zM418.47 1115.89H430.36V1118.85H418.47zM418.47 1079.99H430.36V1082.95H418.47zM430.21 1162.82H442.09V1165.78H430.21zM430.21 1129.69H442.09V1132.65H430.21zM430.21 1099.32H442.09V1102.28H430.21zM441.94 1171.11H453.83V1174.07H441.94zM441.94 1165.58H453.83V1168.54H441.94zM441.94 1124.17H453.83V1127.13H441.94zM441.94 1091.04H453.83V1094H441.94zM441.94 1085.51H453.83V1088.48H441.94zM453.68 1179.39H465.56V1182.35H453.68zM453.68 1173.87H465.56V1176.83H453.68zM453.68 1162.82H465.56V1165.78H453.68zM453.68 1126.93H465.56V1129.89H453.68zM453.68 1121.41H465.56V1124.37H453.68zM453.68 1113.12H465.56V1116.09H453.68zM453.68 1102.08H465.56V1105.04H453.68zM453.68 1079.99H465.56V1082.95H453.68zM465.41 1104.84H477.29V1107.8H465.41zM465.41 1091.04H477.29V1094H465.41zM465.41 1088.28H477.29V1091.24H465.41zM465.41 1082.75H477.29V1085.71H465.41zM477.14 1176.63H489.03V1179.59H477.14zM477.14 1168.34H489.03V1171.31H477.14zM477.14 1157.3H489.03V1160.26H477.14zM477.14 1079.99H489.03V1082.95H477.14zM488.88 1165.58H500.76V1168.54H488.88zM488.88 1146.26H500.76V1149.22H488.88zM488.88 1126.93H500.76V1129.89H488.88zM500.61 1162.82H512.5V1165.78H500.61zM500.61 1093.8H512.5V1096.76H500.61zM512.35 1182.15H524.23V1185.11H512.35zM512.35 1176.63H524.23V1179.59H512.35zM512.35 1171.11H524.23V1174.07H512.35zM512.35 1168.34H524.23V1171.31H512.35zM512.35 1102.08H524.23V1105.04H512.35zM524.08 1176.63H535.96V1179.59H524.08zM524.08 1113.12H535.96V1116.09H524.08zM524.08 1096.56H535.96V1099.52H524.08zM535.81 1182.15H547.7V1185.11H535.81zM535.81 1176.63H547.7V1179.59H535.81zM535.81 1168.34H547.7V1171.31H535.81zM535.81 1140.73H547.7V1143.7H535.81zM535.81 1099.32H547.7V1102.28H535.81zM547.55 1179.39H559.43V1182.35H547.55zM547.55 1173.87H559.43V1176.83H547.55zM547.55 1129.69H559.43V1132.65H547.55zM547.55 1082.75H559.43V1085.71H547.55zM547.55 1074.47H559.43V1077.43H547.55zM559.28 1187.67H571.17V1190.63H559.28zM559.28 1107.6H571.17V1110.56H559.28zM559.28 1077.23H571.17V1080.19H559.28zM571.02 1187.67H582.9V1190.63H571.02zM571.02 1184.91H582.9V1187.87H571.02zM571.02 1173.87H582.9V1176.83H571.02zM571.02 1066.19H582.9V1069.15H571.02zM582.75 1182.15H594.63V1185.11H582.75zM582.75 1173.87H594.63V1176.83H582.75zM582.75 1171.11H594.63V1174.07H582.75zM582.75 1107.6H594.63V1110.56H582.75zM594.48 1171.11H606.37V1174.07H594.48zM594.48 1121.41H606.37V1124.37H594.48zM594.48 1115.89H606.37V1118.85H594.48zM594.48 1104.84H606.37V1107.8H594.48zM594.48 1096.56H606.37V1099.52H594.48zM606.22 1126.93H618.1V1129.89H606.22zM606.22 1107.6H618.1V1110.56H606.22zM606.22 1091.04H618.1V1094H606.22zM606.22 1088.28H618.1V1091.24H606.22zM606.22 1079.99H618.1V1082.95H606.22zM617.95 1171.11H629.84V1174.07H617.95zM617.95 1154.54H629.84V1157.5H617.95zM617.95 1093.8H629.84V1096.76H617.95zM617.95 1088.28H629.84V1091.24H617.95zM629.69 1168.34H641.57V1171.31H629.69zM641.42 1160.06H653.3V1163.02H641.42zM641.42 1091.04H653.3V1094H641.42zM653.15 1162.82H665.04V1165.78H653.15zM664.89 1193.19H676.77V1196.15H664.89zM664.89 1124.17H676.77V1127.13H664.89zM664.89 1113.12H676.77V1116.09H664.89zM664.89 1091.04H676.77V1094H664.89zM664.89 1057.9H676.77V1060.87H664.89zM676.62 1113.12H688.51V1116.09H676.62zM676.62 1107.6H688.51V1110.56H676.62zM676.62 1096.56H688.51V1099.52H676.62zM676.62 1093.8H688.51V1096.76H676.62zM676.62 1024.77H688.51V1027.73H676.62zM688.36 1184.91H700.24V1187.87H688.36zM688.36 1132.45H700.24V1135.41H688.36zM688.36 1129.69H700.24V1132.65H688.36zM700.09 1104.84H711.97V1107.8H700.09zM700.09 1102.08H711.97V1105.04H700.09zM700.09 1096.56H711.97V1099.52H700.09zM711.82 1162.82H723.71V1165.78H711.82zM711.82 1157.3H723.71V1160.26H711.82zM711.82 1104.84H723.71V1107.8H711.82zM711.82 1088.28H723.71V1091.24H711.82zM723.56 1165.58H735.44V1168.54H723.56zM723.56 1107.6H735.44V1110.56H723.56zM723.56 1099.32H735.44V1102.28H723.56zM723.56 1079.99H735.44V1082.95H723.56zM735.29 1113.12H747.18V1116.09H735.29zM735.29 1099.32H747.18V1102.28H735.29zM735.29 1085.51H747.18V1088.48H735.29zM735.29 1079.99H747.18V1082.95H735.29zM747.03 1085.51H758.91V1088.48H747.03zM758.76 1184.91H770.64V1187.87H758.76zM758.76 1104.84H770.64V1107.8H758.76zM758.76 1088.28H770.64V1091.24H758.76zM770.49 1165.58H782.38V1168.54H770.49zM770.49 1151.78H782.38V1154.74H770.49zM770.49 1115.89H782.38V1118.85H770.49zM770.49 1093.8H782.38V1096.76H770.49zM770.49 1074.47H782.38V1077.43H770.49zM782.23 1193.19H794.11V1196.15H782.23zM782.23 1173.87H794.11V1176.83H782.23zM782.23 1113.12H794.11V1116.09H782.23zM782.23 1099.32H794.11V1102.28H782.23zM782.23 1093.8H794.11V1096.76H782.23zM782.23 1082.75H794.11V1085.71H782.23zM793.96 1187.67H805.85V1190.63H793.96zM793.96 1184.91H805.85V1187.87H793.96zM793.96 1107.6H805.85V1110.56H793.96zM793.96 1099.32H805.85V1102.28H793.96zM793.96 1093.8H805.85V1096.76H793.96zM793.96 1088.28H805.85V1091.24H793.96zM793.96 1077.23H805.85V1080.19H793.96zM793.96 1071.71H805.85V1074.67H793.96zM805.7 1171.11H817.58V1174.07H805.7zM817.43 1184.91H829.31V1187.87H817.43zM817.43 1143.5H829.31V1146.46H817.43zM817.43 1113.12H829.31V1116.09H817.43zM817.43 1102.08H829.31V1105.04H817.43zM817.43 1091.04H829.31V1094H817.43zM817.43 1077.23H829.31V1080.19H817.43zM829.16 1135.21H841.05V1138.17H829.16zM829.16 1099.32H841.05V1102.28H829.16zM829.16 1079.99H841.05V1082.95H829.16zM840.9 1173.87H852.78V1176.83H840.9zM840.9 1160.06H852.78V1163.02H840.9zM840.9 1149.02H852.78V1151.98H840.9zM840.9 1140.73H852.78V1143.7H840.9zM840.9 1118.65H852.78V1121.61H840.9zM840.9 1071.71H852.78V1074.67H840.9zM852.63 1168.34H864.52V1171.31H852.63zM852.63 1082.75H864.52V1085.71H852.63zM852.63 1079.99H864.52V1082.95H852.63zM852.63 1071.71H864.52V1074.67H852.63zM852.63 1046.86H864.52V1049.82H852.63zM864.37 1173.87H876.25V1176.83H864.37zM864.37 1157.3H876.25V1160.26H864.37zM864.37 1121.41H876.25V1124.37H864.37zM864.37 1077.23H876.25V1080.19H864.37zM899.57 1168.34H911.45V1171.31H899.57zM899.57 1104.84H911.45V1107.8H899.57zM899.57 1091.04H911.45V1094H899.57zM911.3 1193.19H923.19V1196.15H911.3zM911.3 1190.43H923.19V1193.39H911.3zM911.3 1149.02H923.19V1151.98H911.3zM911.3 1118.65H923.19V1121.61H911.3zM923.04 1179.39H934.92V1182.35H923.04zM923.04 1165.58H934.92V1168.54H923.04zM923.04 1154.54H934.92V1157.5H923.04zM923.04 1143.5H934.92V1146.46H923.04zM923.04 1135.21H934.92V1138.17H923.04zM923.04 1126.93H934.92V1129.89H923.04zM934.77 1093.8H946.65V1096.76H934.77zM934.77 1068.95H946.65V1071.91H934.77zM946.5 1201.48H958.39V1204.44H946.5zM946.5 1173.87H958.39V1176.83H946.5zM946.5 1168.34H958.39V1171.31H946.5zM946.5 1146.26H958.39V1149.22H946.5zM946.5 1118.65H958.39V1121.61H946.5zM958.24 1198.72H970.12V1201.68H958.24zM958.24 1182.15H970.12V1185.11H958.24zM958.24 1173.87H970.12V1176.83H958.24zM958.24 1162.82H970.12V1165.78H958.24zM958.24 1129.69H970.12V1132.65H958.24zM958.24 1068.95H970.12V1071.91H958.24zM969.97 1195.95H981.86V1198.92H969.97zM969.97 1176.63H981.86V1179.59H969.97zM969.97 1162.82H981.86V1165.78H969.97zM969.97 1151.78H981.86V1154.74H969.97zM969.97 1149.02H981.86V1151.98H969.97zM969.97 1126.93H981.86V1129.89H969.97zM969.97 1124.17H981.86V1127.13H969.97zM969.97 1115.89H981.86V1118.85H969.97zM969.97 1107.6H981.86V1110.56H969.97zM969.97 1093.8H981.86V1096.76H969.97zM981.71 1187.67H993.59V1190.63H981.71zM981.71 1184.91H993.59V1187.87H981.71zM981.71 1173.87H993.59V1176.83H981.71zM981.71 1157.3H993.59V1160.26H981.71zM981.71 1154.54H993.59V1157.5H981.71zM981.71 1137.97H993.59V1140.93H981.71zM981.71 1115.89H993.59V1118.85H981.71zM981.71 1077.23H993.59V1080.19H981.71zM981.71 1074.47H993.59V1077.43H981.71zM993.44 1140.73H1005.32V1143.7H993.44zM993.44 1121.41H1005.32V1124.37H993.44zM993.44 1104.84H1005.32V1107.8H993.44zM993.44 1085.51H1005.32V1088.48H993.44zM1005.17 1187.67H1017.06V1190.63H1005.17zM1005.17 1146.26H1017.06V1149.22H1005.17zM1005.17 1132.45H1017.06V1135.41H1005.17zM1005.17 1129.69H1017.06V1132.65H1005.17zM1005.17 1115.89H1017.06V1118.85H1005.17zM1016.91 1151.78H1028.79V1154.74H1016.91zM1016.91 1146.26H1028.79V1149.22H1016.91zM1016.91 1124.17H1028.79V1127.13H1016.91zM1016.91 1115.89H1028.79V1118.85H1016.91zM1016.91 1107.6H1028.79V1110.56H1016.91zM1028.64 1154.54H1040.53V1157.5H1028.64zM1028.64 1137.97H1040.53V1140.93H1028.64zM1028.64 1126.93H1040.53V1129.89H1028.64zM1028.64 1124.17H1040.53V1127.13H1028.64zM1028.64 1115.89H1040.53V1118.85H1028.64zM1028.64 1110.36H1040.53V1113.32H1028.64zM1040.38 1190.43H1052.26V1193.39H1040.38zM1040.38 1146.26H1052.26V1149.22H1040.38zM1040.38 1140.73H1052.26V1143.7H1040.38zM1040.38 1126.93H1052.26V1129.89H1040.38zM1040.38 1099.32H1052.26V1102.28H1040.38zM1052.11 1187.67H1063.99V1190.63H1052.11zM1052.11 1176.63H1063.99V1179.59H1052.11zM1052.11 1151.78H1063.99V1154.74H1052.11zM1052.11 1146.26H1063.99V1149.22H1052.11zM1052.11 1143.5H1063.99V1146.46H1052.11zM1052.11 1140.73H1063.99V1143.7H1052.11zM1052.11 1135.21H1063.99V1138.17H1052.11zM1052.11 1121.41H1063.99V1124.37H1052.11zM1052.11 1118.65H1063.99V1121.61H1052.11zM1052.11 1088.28H1063.99V1091.24H1052.11zM1063.84 1168.34H1075.73V1171.31H1063.84zM1063.84 1146.26H1075.73V1149.22H1063.84zM1063.84 1104.84H1075.73V1107.8H1063.84zM1075.58 1179.39H1087.46V1182.35H1075.58zM1075.58 1165.58H1087.46V1168.54H1075.58zM1075.58 1110.36H1087.46V1113.32H1075.58zM1087.31 1300.87H1092.05V1303.83H1087.31zM1087.31 1215.28H1092.05V1218.24H1087.31zM1087.31 1204.24H1092.05V1207.2H1087.31zM1087.31 1195.95H1092.05V1198.92H1087.31zM1087.31 1096.56H1092.05V1099.52H1087.31zM1087.31 1082.75H1092.05V1085.71H1087.31zM1087.31 1068.95H1092.05V1071.91H1087.31zM1087.31 1049.62H1092.05V1052.58H1087.31zM1087.31 1038.58H1092.05V1041.54H1087.31zM1087.31 1033.06H1092.05V1036.02H1087.31zM1087.31 1019.25H1092.05V1022.21H1087.31zM1087.31 1005.45H1092.05V1008.41H1087.31zM1087.31 988.88H1092.05V991.84H1087.31zM1087.31 917.09H1092.05V920.05H1087.31zM1087.31 911.57H1092.05V914.53H1087.31z" fill="#d9acff"/>
<path d="M289.4 1146.26H301.28V1149.22H289.4zM289.4 1140.73H301.28V1143.7H289.4zM289.4 1121.41H301.28V1124.37H289.4zM289.4 1107.6H301.28V1110.56H289.4zM301.13 1190.43H313.02V1193.39H301.13zM301.13 1179.39H313.02V1182.35H301.13zM301.13 1091.04H313.02V1094H301.13zM301.13 1088.28H313.02V1091.24H301.13zM301.13 1063.43H313.02V1066.39H301.13zM312.87 1204.24H324.75V1207.2H312.87zM312.87 1198.72H324.75V1201.68H312.87zM312.87 1173.87H324.75V1176.83H312.87zM312.87 1149.02H324.75V1151.98H312.87zM312.87 1091.04H324.75V1094H312.87zM312.87 1066.19H324.75V1069.15H312.87zM324.6 1173.87H336.49V1176.83H324.6zM324.6 1157.3H336.49V1160.26H324.6zM336.34 1184.91H348.22V1187.87H336.34zM336.34 1093.8H348.22V1096.76H336.34zM336.34 1091.04H348.22V1094H336.34zM336.34 1082.75H348.22V1085.71H336.34zM348.07 1184.91H359.95V1187.87H348.07zM348.07 1171.11H359.95V1174.07H348.07zM348.07 1096.56H359.95V1099.52H348.07zM348.07 1082.75H359.95V1085.71H348.07zM348.07 1077.23H359.95V1080.19H348.07zM359.8 1195.95H371.69V1198.92H359.8zM359.8 1182.15H371.69V1185.11H359.8zM359.8 1137.97H371.69V1140.93H359.8zM359.8 1110.36H371.69V1113.32H359.8zM359.8 1102.08H371.69V1105.04H359.8zM359.8 1091.04H371.69V1094H359.8zM359.8 1074.47H371.69V1077.43H359.8zM359.8 1063.43H371.69V1066.39H359.8zM371.54 1187.67H383.42V1190.63H371.54zM371.54 1176.63H383.42V1179.59H371.54zM371.54 1124.17H383.42V1127.13H371.54zM383.27 1182.15H395.16V1185.11H383.27zM383.27 1115.89H395.16V1118.85H383.27zM395.01 1195.95H406.89V1198.92H395.01zM395.01 1110.36H406.89V1113.32H395.01zM406.74 1187.67H418.62V1190.63H406.74zM406.74 1182.15H418.62V1185.11H406.74zM406.74 1110.36H418.62V1113.32H406.74zM406.74 1093.8H418.62V1096.76H406.74zM406.74 1057.9H418.62V1060.87H406.74zM418.47 1193.19H430.36V1196.15H418.47zM418.47 1099.32H430.36V1102.28H418.47zM418.47 1093.8H430.36V1096.76H418.47zM418.47 1068.95H430.36V1071.91H418.47zM430.21 1173.87H442.09V1176.83H430.21zM430.21 1171.11H442.09V1174.07H430.21zM430.21 1115.89H442.09V1118.85H430.21zM430.21 1110.36H442.09V1113.32H430.21zM430.21 1077.23H442.09V1080.19H430.21zM430.21 1057.9H442.09V1060.87H430.21zM441.94 1102.08H453.83V1105.04H441.94zM441.94 1099.32H453.83V1102.28H441.94zM441.94 1096.56H453.83V1099.52H441.94zM441.94 1082.75H453.83V1085.71H441.94zM441.94 1077.23H453.83V1080.19H441.94zM441.94 1055.14H453.83V1058.1H441.94zM453.68 1168.34H465.56V1171.31H453.68zM453.68 1165.58H465.56V1168.54H453.68zM453.68 1093.8H465.56V1096.76H453.68zM453.68 1077.23H465.56V1080.19H453.68zM465.41 1176.63H477.29V1179.59H465.41zM465.41 1165.58H477.29V1168.54H465.41zM465.41 1099.32H477.29V1102.28H465.41zM465.41 1096.56H477.29V1099.52H465.41zM477.14 1184.91H489.03V1187.87H477.14zM477.14 1182.15H489.03V1185.11H477.14zM477.14 1179.39H489.03V1182.35H477.14zM477.14 1096.56H489.03V1099.52H477.14zM488.88 1204.24H500.76V1207.2H488.88zM488.88 1096.56H500.76V1099.52H488.88zM488.88 1079.99H500.76V1082.95H488.88zM500.61 1176.63H512.5V1179.59H500.61zM500.61 1171.11H512.5V1174.07H500.61zM500.61 1129.69H512.5V1132.65H500.61zM500.61 1091.04H512.5V1094H500.61zM500.61 1079.99H512.5V1082.95H500.61zM500.61 1027.53H512.5V1030.49H500.61zM512.35 1137.97H524.23V1140.93H512.35zM512.35 1113.12H524.23V1116.09H512.35zM512.35 1110.36H524.23V1113.32H512.35zM524.08 1173.87H535.96V1176.83H524.08zM535.81 1204.24H547.7V1207.2H535.81zM535.81 1129.69H547.7V1132.65H535.81zM535.81 1102.08H547.7V1105.04H535.81zM535.81 1091.04H547.7V1094H535.81zM535.81 1052.38H547.7V1055.34H535.81zM547.55 1182.15H559.43V1185.11H547.55zM547.55 1165.58H559.43V1168.54H547.55zM547.55 1088.28H559.43V1091.24H547.55zM547.55 1077.23H559.43V1080.19H547.55zM559.28 1179.39H571.17V1182.35H559.28zM559.28 1099.32H571.17V1102.28H559.28zM559.28 1093.8H571.17V1096.76H559.28zM571.02 1168.34H582.9V1171.31H571.02zM571.02 1102.08H582.9V1105.04H571.02zM571.02 1088.28H582.9V1091.24H571.02zM571.02 1085.51H582.9V1088.48H571.02zM571.02 1082.75H582.9V1085.71H571.02zM571.02 1077.23H582.9V1080.19H571.02zM582.75 1168.34H594.63V1171.31H582.75zM582.75 1110.36H594.63V1113.32H582.75zM582.75 1099.32H594.63V1102.28H582.75zM582.75 1071.71H594.63V1074.67H582.75zM594.48 1176.63H606.37V1179.59H594.48zM594.48 1126.93H606.37V1129.89H594.48zM594.48 1102.08H606.37V1105.04H594.48zM594.48 1088.28H606.37V1091.24H594.48zM606.22 1171.11H618.1V1174.07H606.22zM606.22 1149.02H618.1V1151.98H606.22zM606.22 1140.73H618.1V1143.7H606.22zM606.22 1115.89H618.1V1118.85H606.22zM606.22 1102.08H618.1V1105.04H606.22zM617.95 1165.58H629.84V1168.54H617.95zM617.95 1068.95H629.84V1071.91H617.95zM617.95 1052.38H629.84V1055.34H617.95zM617.95 1049.62H629.84V1052.58H617.95zM617.95 1038.58H629.84V1041.54H617.95zM629.69 1190.43H641.57V1193.39H629.69zM629.69 1173.87H641.57V1176.83H629.69zM629.69 1102.08H641.57V1105.04H629.69zM629.69 1099.32H641.57V1102.28H629.69zM629.69 1093.8H641.57V1096.76H629.69zM641.42 1113.12H653.3V1116.09H641.42zM641.42 1096.56H653.3V1099.52H641.42zM641.42 1088.28H653.3V1091.24H641.42zM653.15 1110.36H665.04V1113.32H653.15zM653.15 1099.32H665.04V1102.28H653.15zM653.15 1096.56H665.04V1099.52H653.15zM653.15 1063.43H665.04V1066.39H653.15zM664.89 1187.67H676.77V1190.63H664.89zM664.89 1182.15H676.77V1185.11H664.89zM664.89 1135.21H676.77V1138.17H664.89zM664.89 1104.84H676.77V1107.8H664.89zM676.62 1184.91H688.51V1187.87H676.62zM676.62 1085.51H688.51V1088.48H676.62zM688.36 1168.34H700.24V1171.31H688.36zM688.36 1151.78H700.24V1154.74H688.36zM688.36 1107.6H700.24V1110.56H688.36zM688.36 1093.8H700.24V1096.76H688.36zM700.09 1201.48H711.97V1204.44H700.09zM700.09 1176.63H711.97V1179.59H700.09zM700.09 1173.87H711.97V1176.83H700.09zM700.09 1162.82H711.97V1165.78H700.09zM700.09 1099.32H711.97V1102.28H700.09zM700.09 1085.51H711.97V1088.48H700.09zM700.09 1082.75H711.97V1085.71H700.09zM700.09 1057.9H711.97V1060.87H700.09zM711.82 1173.87H723.71V1176.83H711.82zM711.82 1165.58H723.71V1168.54H711.82zM711.82 1146.26H723.71V1149.22H711.82zM711.82 1110.36H723.71V1113.32H711.82zM723.56 1182.15H735.44V1185.11H723.56zM723.56 1171.11H735.44V1174.07H723.56zM723.56 1168.34H735.44V1171.31H723.56zM723.56 1160.06H735.44V1163.02H723.56zM723.56 1096.56H735.44V1099.52H723.56zM723.56 1093.8H735.44V1096.76H723.56zM723.56 1082.75H735.44V1085.71H723.56zM735.29 1195.95H747.18V1198.92H735.29zM735.29 1162.82H747.18V1165.78H735.29zM735.29 1115.89H747.18V1118.85H735.29zM735.29 1110.36H747.18V1113.32H735.29zM735.29 1096.56H747.18V1099.52H735.29zM735.29 1093.8H747.18V1096.76H735.29zM735.29 1057.9H747.18V1060.87H735.29zM735.29 1022.01H747.18V1024.97H735.29zM747.03 1171.11H758.91V1174.07H747.03zM747.03 1162.82H758.91V1165.78H747.03zM747.03 1115.89H758.91V1118.85H747.03zM747.03 1107.6H758.91V1110.56H747.03zM747.03 1063.43H758.91V1066.39H747.03zM747.03 986.12H758.91V989.08H747.03zM758.76 1143.5H770.64V1146.46H758.76zM758.76 1107.6H770.64V1110.56H758.76zM758.76 1099.32H770.64V1102.28H758.76zM758.76 1093.8H770.64V1096.76H758.76zM758.76 1091.04H770.64V1094H758.76zM758.76 1079.99H770.64V1082.95H758.76zM770.49 1182.15H782.38V1185.11H770.49zM770.49 1179.39H782.38V1182.35H770.49zM770.49 1157.3H782.38V1160.26H770.49zM770.49 1126.93H782.38V1129.89H770.49zM770.49 1104.84H782.38V1107.8H770.49zM770.49 1099.32H782.38V1102.28H770.49zM770.49 1079.99H782.38V1082.95H770.49zM782.23 1184.91H794.11V1187.87H782.23zM782.23 1182.15H794.11V1185.11H782.23zM782.23 1171.11H794.11V1174.07H782.23zM782.23 1168.34H794.11V1171.31H782.23zM782.23 1165.58H794.11V1168.54H782.23zM782.23 1096.56H794.11V1099.52H782.23zM782.23 1071.71H794.11V1074.67H782.23zM793.96 1173.87H805.85V1176.83H793.96zM793.96 1096.56H805.85V1099.52H793.96zM793.96 1079.99H805.85V1082.95H793.96zM805.7 1157.3H817.58V1160.26H805.7zM805.7 1104.84H817.58V1107.8H805.7zM805.7 1096.56H817.58V1099.52H805.7zM805.7 1093.8H817.58V1096.76H805.7zM805.7 1057.9H817.58V1060.87H805.7zM817.43 1190.43H829.31V1193.39H817.43zM817.43 1182.15H829.31V1185.11H817.43zM817.43 1173.87H829.31V1176.83H817.43zM817.43 1160.06H829.31V1163.02H817.43zM817.43 1107.6H829.31V1110.56H817.43zM817.43 1104.84H829.31V1107.8H817.43zM817.43 1093.8H829.31V1096.76H817.43zM817.43 1071.71H829.31V1074.67H817.43zM817.43 1063.43H829.31V1066.39H817.43zM829.16 1195.95H841.05V1198.92H829.16zM829.16 1173.87H841.05V1176.83H829.16zM829.16 1110.36H841.05V1113.32H829.16zM829.16 1102.08H841.05V1105.04H829.16zM829.16 1096.56H841.05V1099.52H829.16zM829.16 1085.51H841.05V1088.48H829.16zM829.16 1082.75H841.05V1085.71H829.16zM829.16 1060.67H841.05V1063.63H829.16zM840.9 1168.34H852.78V1171.31H840.9zM840.9 1165.58H852.78V1168.54H840.9zM840.9 1104.84H852.78V1107.8H840.9zM840.9 1099.32H852.78V1102.28H840.9zM852.63 1179.39H864.52V1182.35H852.63zM852.63 1162.82H864.52V1165.78H852.63zM852.63 1102.08H864.52V1105.04H852.63zM864.37 1154.54H876.25V1157.5H864.37zM864.37 1102.08H876.25V1105.04H864.37zM864.37 1099.32H876.25V1102.28H864.37zM864.37 1088.28H876.25V1091.24H864.37zM864.37 1082.75H876.25V1085.71H864.37zM864.37 1079.99H876.25V1082.95H864.37zM864.37 1068.95H876.25V1071.91H864.37zM864.37 1057.9H876.25V1060.87H864.37zM864.37 1052.38H876.25V1055.34H864.37zM899.57 1160.06H911.45V1163.02H899.57zM899.57 1157.3H911.45V1160.26H899.57zM899.57 1140.73H911.45V1143.7H899.57zM899.57 1135.21H911.45V1138.17H899.57zM899.57 1132.45H911.45V1135.41H899.57zM899.57 1126.93H911.45V1129.89H899.57zM899.57 1124.17H911.45V1127.13H899.57zM911.3 1182.15H923.19V1185.11H911.3zM911.3 1176.63H923.19V1179.59H911.3zM911.3 1168.34H923.19V1171.31H911.3zM911.3 1154.54H923.19V1157.5H911.3zM911.3 1146.26H923.19V1149.22H911.3zM911.3 1140.73H923.19V1143.7H911.3zM911.3 1055.14H923.19V1058.1H911.3zM923.04 1173.87H934.92V1176.83H923.04zM923.04 1140.73H934.92V1143.7H923.04zM923.04 1107.6H934.92V1110.56H923.04zM934.77 1220.8H946.65V1223.76H934.77zM934.77 1212.52H946.65V1215.48H934.77zM934.77 1195.95H946.65V1198.92H934.77zM934.77 1176.63H946.65V1179.59H934.77zM934.77 1160.06H946.65V1163.02H934.77zM934.77 1151.78H946.65V1154.74H934.77zM934.77 1115.89H946.65V1118.85H934.77zM946.5 1179.39H958.39V1182.35H946.5zM946.5 1171.11H958.39V1174.07H946.5zM946.5 1160.06H958.39V1163.02H946.5zM946.5 1126.93H958.39V1129.89H946.5zM946.5 1115.89H958.39V1118.85H946.5zM946.5 1113.12H958.39V1116.09H946.5zM946.5 1102.08H958.39V1105.04H946.5zM946.5 1063.43H958.39V1066.39H946.5zM958.24 1209.76H970.12V1212.72H958.24zM958.24 1204.24H970.12V1207.2H958.24zM958.24 1193.19H970.12V1196.15H958.24zM958.24 1184.91H970.12V1187.87H958.24zM958.24 1176.63H970.12V1179.59H958.24zM958.24 1171.11H970.12V1174.07H958.24zM958.24 1160.06H970.12V1163.02H958.24zM958.24 1151.78H970.12V1154.74H958.24zM958.24 1126.93H970.12V1129.89H958.24zM958.24 1124.17H970.12V1127.13H958.24zM958.24 1115.89H970.12V1118.85H958.24zM958.24 1104.84H970.12V1107.8H958.24zM958.24 1093.8H970.12V1096.76H958.24zM958.24 1091.04H970.12V1094H958.24zM969.97 1209.76H981.86V1212.72H969.97zM969.97 1179.39H981.86V1182.35H969.97zM969.97 1171.11H981.86V1174.07H969.97zM969.97 1165.58H981.86V1168.54H969.97zM969.97 1143.5H981.86V1146.46H969.97zM969.97 1132.45H981.86V1135.41H969.97zM969.97 1113.12H981.86V1116.09H969.97zM969.97 1046.86H981.86V1049.82H969.97zM981.71 1259.46H993.59V1262.42H981.71zM981.71 1190.43H993.59V1193.39H981.71zM981.71 1168.34H993.59V1171.31H981.71zM981.71 1118.65H993.59V1121.61H981.71zM981.71 1102.08H993.59V1105.04H981.71zM993.44 1190.43H1005.32V1193.39H993.44zM993.44 1179.39H1005.32V1182.35H993.44zM993.44 1151.78H1005.32V1154.74H993.44zM993.44 1137.97H1005.32V1140.93H993.44zM993.44 1110.36H1005.32V1113.32H993.44zM993.44 1091.04H1005.32V1094H993.44zM993.44 1074.47H1005.32V1077.43H993.44zM1005.17 1184.91H1017.06V1187.87H1005.17zM1005.17 1154.54H1017.06V1157.5H1005.17zM1005.17 1121.41H1017.06V1124.37H1005.17zM1005.17 1102.08H1017.06V1105.04H1005.17zM1005.17 1099.32H1017.06V1102.28H1005.17zM1005.17 1074.47H1017.06V1077.43H1005.17zM1016.91 1190.43H1028.79V1193.39H1016.91zM1016.91 1162.82H1028.79V1165.78H1016.91zM1016.91 1154.54H1028.79V1157.5H1016.91zM1016.91 1149.02H1028.79V1151.98H1016.91zM1016.91 1143.5H1028.79V1146.46H1016.91zM1016.91 1132.45H1028.79V1135.41H1016.91zM1028.64 1171.11H1040.53V1174.07H1028.64zM1028.64 1157.3H1040.53V1160.26H1028.64zM1028.64 1146.26H1040.53V1149.22H1028.64zM1028.64 1113.12H1040.53V1116.09H1028.64zM1028.64 1104.84H1040.53V1107.8H1028.64zM1028.64 1102.08H1040.53V1105.04H1028.64zM1040.38 1193.19H1052.26V1196.15H1040.38zM1040.38 1187.67H1052.26V1190.63H1040.38zM1040.38 1184.91H1052.26V1187.87H1040.38zM1040.38 1157.3H1052.26V1160.26H1040.38zM1040.38 1154.54H1052.26V1157.5H1040.38zM1040.38 1107.6H1052.26V1110.56H1040.38zM1040.38 1104.84H1052.26V1107.8H1040.38zM1052.11 1184.91H1063.99V1187.87H1052.11zM1052.11 1165.58H1063.99V1168.54H1052.11zM1052.11 1160.06H1063.99V1163.02H1052.11zM1052.11 1149.02H1063.99V1151.98H1052.11zM1052.11 1113.12H1063.99V1116.09H1052.11zM1063.84 1171.11H1075.73V1174.07H1063.84zM1063.84 1121.41H1075.73V1124.37H1063.84zM1063.84 1082.75H1075.73V1085.71H1063.84zM1087.31 1306.39H1092.05V1309.36H1087.31zM1087.31 1287.07H1092.05V1290.03H1087.31zM1087.31 1284.31H1092.05V1287.27H1087.31zM1087.31 1267.74H1092.05V1270.7H1087.31zM1087.31 1259.46H1092.05V1262.42H1087.31zM1087.31 1229.09H1092.05V1232.05H1087.31zM1087.31 1223.56H1092.05V1226.53H1087.31zM1087.31 1209.76H1092.05V1212.72H1087.31zM1087.31 1190.43H1092.05V1193.39H1087.31zM1087.31 1182.15H1092.05V1185.11H1087.31zM1087.31 1052.38H1092.05V1055.34H1087.31zM1087.31 1046.86H1092.05V1049.82H1087.31zM1087.31 1041.34H1092.05V1044.3H1087.31zM1087.31 1016.49H1092.05V1019.45H1087.31zM1087.31 986.12H1092.05V989.08H1087.31zM1087.31 944.7H1092.05V947.66H1087.31zM1087.31 925.38H1092.05V928.34H1087.31zM1087.31 906.05H1092.05V909.01H1087.31z" fill="#ecd6ff"/>
<path d="M289.4 1129.69H301.28V1132.65H289.4zM301.13 1176.63H313.02V1179.59H301.13zM301.13 1137.97H313.02V1140.93H301.13zM301.13 1104.84H313.02V1107.8H301.13zM301.13 1099.32H313.02V1102.28H301.13zM312.87 1162.82H324.75V1165.78H312.87zM312.87 1118.65H324.75V1121.61H312.87zM324.6 1179.39H336.49V1182.35H324.6zM324.6 1149.02H336.49V1151.98H324.6zM324.6 1137.97H336.49V1140.93H324.6zM324.6 1126.93H336.49V1129.89H324.6zM324.6 1088.28H336.49V1091.24H324.6zM336.34 1165.58H348.22V1168.54H336.34zM336.34 1132.45H348.22V1135.41H336.34zM348.07 1157.3H359.95V1160.26H348.07zM348.07 1107.6H359.95V1110.56H348.07zM359.8 1165.58H371.69V1168.54H359.8zM359.8 1124.17H371.69V1127.13H359.8zM371.54 1118.65H383.42V1121.61H371.54zM371.54 1115.89H383.42V1118.85H371.54zM371.54 1110.36H383.42V1113.32H371.54zM383.27 1121.41H395.16V1124.37H383.27zM406.74 1168.34H418.62V1171.31H406.74zM406.74 1143.5H418.62V1146.46H406.74zM406.74 1135.21H418.62V1138.17H406.74zM418.47 1162.82H430.36V1165.78H418.47zM418.47 1157.3H430.36V1160.26H418.47zM418.47 1151.78H430.36V1154.74H418.47zM418.47 1135.21H430.36V1138.17H418.47zM418.47 1085.51H430.36V1088.48H418.47zM430.21 1165.58H442.09V1168.54H430.21zM430.21 1140.73H442.09V1143.7H430.21zM430.21 1107.6H442.09V1110.56H430.21zM441.94 1173.87H453.83V1176.83H441.94zM441.94 1154.54H453.83V1157.5H441.94zM441.94 1126.93H453.83V1129.89H441.94zM453.68 1171.11H465.56V1174.07H453.68zM453.68 1124.17H465.56V1127.13H453.68zM453.68 1118.65H465.56V1121.61H453.68zM453.68 1107.6H465.56V1110.56H453.68zM465.41 1162.82H477.29V1165.78H465.41zM465.41 1157.3H477.29V1160.26H465.41zM465.41 1132.45H477.29V1135.41H465.41zM465.41 1121.41H477.29V1124.37H465.41zM465.41 1115.89H477.29V1118.85H465.41zM465.41 1113.12H477.29V1116.09H465.41zM465.41 1107.6H477.29V1110.56H465.41zM465.41 1102.08H477.29V1105.04H465.41zM477.14 1171.11H489.03V1174.07H477.14zM477.14 1160.06H489.03V1163.02H477.14zM477.14 1115.89H489.03V1118.85H477.14zM488.88 1157.3H500.76V1160.26H488.88zM488.88 1151.78H500.76V1154.74H488.88zM488.88 1099.32H500.76V1102.28H488.88zM500.61 1168.34H512.5V1171.31H500.61zM500.61 1160.06H512.5V1163.02H500.61zM512.35 1151.78H524.23V1154.74H512.35zM524.08 1140.73H535.96V1143.7H524.08zM524.08 1132.45H535.96V1135.41H524.08zM524.08 1107.6H535.96V1110.56H524.08zM535.81 1171.11H547.7V1174.07H535.81zM535.81 1124.17H547.7V1127.13H535.81zM535.81 1110.36H547.7V1113.32H535.81zM547.55 1107.6H559.43V1110.56H547.55zM559.28 1173.87H571.17V1176.83H559.28zM559.28 1151.78H571.17V1154.74H559.28zM559.28 1146.26H571.17V1149.22H559.28zM571.02 1182.15H582.9V1185.11H571.02zM571.02 1160.06H582.9V1163.02H571.02zM571.02 1135.21H582.9V1138.17H571.02zM594.48 1162.82H606.37V1165.78H594.48zM594.48 1149.02H606.37V1151.98H594.48zM606.22 1162.82H618.1V1165.78H606.22zM606.22 1143.5H618.1V1146.46H606.22zM606.22 1110.36H618.1V1113.32H606.22zM617.95 1182.15H629.84V1185.11H617.95zM617.95 1107.6H629.84V1110.56H617.95zM629.69 1149.02H641.57V1151.98H629.69zM629.69 1135.21H641.57V1138.17H629.69zM629.69 1115.89H641.57V1118.85H629.69zM641.42 1162.82H653.3V1165.78H641.42zM641.42 1143.5H653.3V1146.46H641.42zM653.15 1173.87H665.04V1176.83H653.15zM653.15 1154.54H665.04V1157.5H653.15zM653.15 1151.78H665.04V1154.74H653.15zM653.15 1121.41H665.04V1124.37H653.15zM664.89 1160.06H676.77V1163.02H664.89zM664.89 1154.54H676.77V1157.5H664.89zM664.89 1110.36H676.77V1113.32H664.89zM664.89 1096.56H676.77V1099.52H664.89zM676.62 1162.82H688.51V1165.78H676.62zM676.62 1151.78H688.51V1154.74H676.62zM676.62 1121.41H688.51V1124.37H676.62zM676.62 1118.65H688.51V1121.61H676.62zM676.62 1104.84H688.51V1107.8H676.62zM688.36 1115.89H700.24V1118.85H688.36zM711.82 1171.11H723.71V1174.07H711.82zM711.82 1107.6H723.71V1110.56H711.82zM723.56 1129.69H735.44V1132.65H723.56zM735.29 1160.06H747.18V1163.02H735.29zM735.29 1157.3H747.18V1160.26H735.29zM735.29 1146.26H747.18V1149.22H735.29zM735.29 1104.84H747.18V1107.8H735.29zM735.29 1091.04H747.18V1094H735.29zM747.03 1165.58H758.91V1168.54H747.03zM747.03 1154.54H758.91V1157.5H747.03zM747.03 1135.21H758.91V1138.17H747.03zM747.03 1126.93H758.91V1129.89H747.03zM747.03 1110.36H758.91V1113.32H747.03zM747.03 1096.56H758.91V1099.52H747.03zM758.76 1165.58H770.64V1168.54H758.76zM758.76 1157.3H770.64V1160.26H758.76zM758.76 1151.78H770.64V1154.74H758.76zM758.76 1124.17H770.64V1127.13H758.76zM758.76 1121.41H770.64V1124.37H758.76zM758.76 1113.12H770.64V1116.09H758.76zM770.49 1171.11H782.38V1174.07H770.49zM770.49 1168.34H782.38V1171.31H770.49zM770.49 1154.54H782.38V1157.5H770.49zM770.49 1124.17H782.38V1127.13H770.49zM782.23 1160.06H794.11V1163.02H782.23zM782.23 1129.69H794.11V1132.65H782.23zM793.96 1165.58H805.85V1168.54H793.96zM829.16 1168.34H841.05V1171.31H829.16zM829.16 1132.45H841.05V1135.41H829.16zM829.16 1113.12H841.05V1116.09H829.16zM840.9 1146.26H852.78V1149.22H840.9zM852.63 1135.21H864.52V1138.17H852.63zM852.63 1113.12H864.52V1116.09H852.63zM864.37 1176.63H876.25V1179.59H864.37zM864.37 1171.11H876.25V1174.07H864.37zM864.37 1146.26H876.25V1149.22H864.37zM864.37 1107.6H876.25V1110.56H864.37zM899.57 1118.65H911.45V1121.61H899.57zM911.3 1126.93H923.19V1129.89H911.3zM923.04 1113.12H934.92V1116.09H923.04zM958.24 1168.34H970.12V1171.31H958.24zM958.24 1143.5H970.12V1146.46H958.24zM969.97 1135.21H981.86V1138.17H969.97zM981.71 1126.93H993.59V1129.89H981.71zM1005.17 1143.5H1017.06V1146.46H1005.17zM1016.91 1113.12H1028.79V1116.09H1016.91zM1028.64 1118.65H1040.53V1121.61H1028.64zM1040.38 1137.97H1052.26V1140.93H1040.38zM1052.11 1102.08H1063.99V1105.04H1052.11zM1063.84 1173.87H1075.73V1176.83H1063.84zM1063.84 1160.06H1075.73V1163.02H1063.84zM1063.84 1137.97H1075.73V1140.93H1063.84zM1063.84 1129.69H1075.73V1132.65H1063.84zM1075.58 1132.45H1087.46V1135.41H1075.58zM1087.31 1198.72H1092.05V1201.68H1087.31zM1087.31 1107.6H1092.05V1110.56H1087.31z" fill="#bc6eff"/>
<path d="M289.4 1126.93H301.28V1129.89H289.4zM289.4 1115.89H301.28V1118.85H289.4zM301.13 1107.6H313.02V1110.56H301.13zM312.87 1176.63H324.75V1179.59H312.87zM312.87 1168.34H324.75V1171.31H312.87zM312.87 1140.73H324.75V1143.7H312.87zM312.87 1115.89H324.75V1118.85H312.87zM312.87 1096.56H324.75V1099.52H312.87zM312.87 1071.71H324.75V1074.67H312.87zM324.6 1176.63H336.49V1179.59H324.6zM324.6 1154.54H336.49V1157.5H324.6zM324.6 1143.5H336.49V1146.46H324.6zM336.34 1179.39H348.22V1182.35H336.34zM336.34 1162.82H348.22V1165.78H336.34zM336.34 1149.02H348.22V1151.98H336.34zM336.34 1099.32H348.22V1102.28H336.34zM336.34 1085.51H348.22V1088.48H336.34zM348.07 1168.34H359.95V1171.31H348.07zM348.07 1162.82H359.95V1165.78H348.07zM348.07 1154.54H359.95V1157.5H348.07zM348.07 1110.36H359.95V1113.32H348.07zM348.07 1091.04H359.95V1094H348.07zM348.07 1085.51H359.95V1088.48H348.07zM359.8 1162.82H371.69V1165.78H359.8zM359.8 1157.3H371.69V1160.26H359.8zM359.8 1113.12H371.69V1116.09H359.8zM359.8 1082.75H371.69V1085.71H359.8zM371.54 1126.93H383.42V1129.89H371.54zM371.54 1107.6H383.42V1110.56H371.54zM371.54 1104.84H383.42V1107.8H371.54zM383.27 1160.06H395.16V1163.02H383.27zM383.27 1135.21H395.16V1138.17H383.27zM383.27 1107.6H395.16V1110.56H383.27zM383.27 1102.08H395.16V1105.04H383.27zM383.27 1085.51H395.16V1088.48H383.27zM395.01 1115.89H406.89V1118.85H395.01zM395.01 1096.56H406.89V1099.52H395.01zM395.01 1091.04H406.89V1094H395.01zM406.74 1176.63H418.62V1179.59H406.74zM406.74 1124.17H418.62V1127.13H406.74zM406.74 1099.32H418.62V1102.28H406.74zM406.74 1096.56H418.62V1099.52H406.74zM406.74 1091.04H418.62V1094H406.74zM418.47 1176.63H430.36V1179.59H418.47zM418.47 1168.34H430.36V1171.31H418.47zM418.47 1165.58H430.36V1168.54H418.47zM418.47 1113.12H430.36V1116.09H418.47zM418.47 1102.08H430.36V1105.04H418.47zM418.47 1091.04H430.36V1094H418.47zM430.21 1176.63H442.09V1179.59H430.21zM430.21 1151.78H442.09V1154.74H430.21zM430.21 1137.97H442.09V1140.93H430.21zM430.21 1132.45H442.09V1135.41H430.21zM441.94 1176.63H453.83V1179.59H441.94zM441.94 1143.5H453.83V1146.46H441.94zM441.94 1118.65H453.83V1121.61H441.94zM453.68 1157.3H465.56V1160.26H453.68zM453.68 1154.54H465.56V1157.5H453.68zM453.68 1096.56H465.56V1099.52H453.68zM465.41 1182.15H477.29V1185.11H465.41zM465.41 1179.39H477.29V1182.35H465.41zM465.41 1079.99H477.29V1082.95H465.41zM477.14 1151.78H489.03V1154.74H477.14zM477.14 1104.84H489.03V1107.8H477.14zM477.14 1102.08H489.03V1105.04H477.14zM477.14 1099.32H489.03V1102.28H477.14zM488.88 1168.34H500.76V1171.31H488.88zM488.88 1110.36H500.76V1113.32H488.88zM488.88 1104.84H500.76V1107.8H488.88zM500.61 1124.17H512.5V1127.13H500.61zM500.61 1099.32H512.5V1102.28H500.61zM512.35 1179.39H524.23V1182.35H512.35zM512.35 1099.32H524.23V1102.28H512.35zM512.35 1096.56H524.23V1099.52H512.35zM524.08 1154.54H535.96V1157.5H524.08zM524.08 1121.41H535.96V1124.37H524.08zM535.81 1162.82H547.7V1165.78H535.81zM535.81 1118.65H547.7V1121.61H535.81zM547.55 1154.54H559.43V1157.5H547.55zM547.55 1118.65H559.43V1121.61H547.55zM547.55 1113.12H559.43V1116.09H547.55zM559.28 1165.58H571.17V1168.54H559.28zM559.28 1140.73H571.17V1143.7H559.28zM559.28 1115.89H571.17V1118.85H559.28zM571.02 1115.89H582.9V1118.85H571.02zM571.02 1113.12H582.9V1116.09H571.02zM571.02 1110.36H582.9V1113.32H571.02zM582.75 1165.58H594.63V1168.54H582.75zM582.75 1149.02H594.63V1151.98H582.75zM582.75 1146.26H594.63V1149.22H582.75zM582.75 1115.89H594.63V1118.85H582.75zM582.75 1102.08H594.63V1105.04H582.75zM582.75 1079.99H594.63V1082.95H582.75zM594.48 1107.6H606.37V1110.56H594.48zM594.48 1079.99H606.37V1082.95H594.48zM606.22 1160.06H618.1V1163.02H606.22zM606.22 1132.45H618.1V1135.41H606.22zM606.22 1104.84H618.1V1107.8H606.22zM606.22 1099.32H618.1V1102.28H606.22zM606.22 1096.56H618.1V1099.52H606.22zM617.95 1173.87H629.84V1176.83H617.95zM617.95 1160.06H629.84V1163.02H617.95zM617.95 1157.3H629.84V1160.26H617.95zM617.95 1118.65H629.84V1121.61H617.95zM617.95 1110.36H629.84V1113.32H617.95zM617.95 1102.08H629.84V1105.04H617.95zM629.69 1182.15H641.57V1185.11H629.69zM629.69 1160.06H641.57V1163.02H629.69zM629.69 1140.73H641.57V1143.7H629.69zM629.69 1121.41H641.57V1124.37H629.69zM629.69 1104.84H641.57V1107.8H629.69zM629.69 1091.04H641.57V1094H629.69zM641.42 1176.63H653.3V1179.59H641.42zM641.42 1173.87H653.3V1176.83H641.42zM641.42 1151.78H653.3V1154.74H641.42zM641.42 1110.36H653.3V1113.32H641.42zM641.42 1082.75H653.3V1085.71H641.42zM653.15 1179.39H665.04V1182.35H653.15zM653.15 1171.11H665.04V1174.07H653.15zM653.15 1107.6H665.04V1110.56H653.15zM653.15 1077.23H665.04V1080.19H653.15zM664.89 1157.3H676.77V1160.26H664.89zM664.89 1126.93H676.77V1129.89H664.89zM664.89 1115.89H676.77V1118.85H664.89zM664.89 1102.08H676.77V1105.04H664.89zM676.62 1173.87H688.51V1176.83H676.62zM676.62 1171.11H688.51V1174.07H676.62zM676.62 1168.34H688.51V1171.31H676.62zM688.36 1176.63H700.24V1179.59H688.36zM688.36 1165.58H700.24V1168.54H688.36zM688.36 1160.06H700.24V1163.02H688.36zM688.36 1113.12H700.24V1116.09H688.36zM688.36 1110.36H700.24V1113.32H688.36zM688.36 1099.32H700.24V1102.28H688.36zM700.09 1113.12H711.97V1116.09H700.09zM711.82 1093.8H723.71V1096.76H711.82zM711.82 1091.04H723.71V1094H711.82zM723.56 1162.82H735.44V1165.78H723.56zM723.56 1124.17H735.44V1127.13H723.56zM723.56 1118.65H735.44V1121.61H723.56zM723.56 1104.84H735.44V1107.8H723.56zM723.56 1102.08H735.44V1105.04H723.56zM723.56 1088.28H735.44V1091.24H723.56zM735.29 1154.54H747.18V1157.5H735.29zM747.03 1160.06H758.91V1163.02H747.03zM747.03 1129.69H758.91V1132.65H747.03zM747.03 1121.41H758.91V1124.37H747.03zM747.03 1082.75H758.91V1085.71H747.03zM758.76 1173.87H770.64V1176.83H758.76zM758.76 1168.34H770.64V1171.31H758.76zM758.76 1140.73H770.64V1143.7H758.76zM758.76 1132.45H770.64V1135.41H758.76zM758.76 1085.51H770.64V1088.48H758.76zM770.49 1190.43H782.38V1193.39H770.49zM770.49 1176.63H782.38V1179.59H770.49zM770.49 1121.41H782.38V1124.37H770.49zM770.49 1110.36H782.38V1113.32H770.49zM770.49 1102.08H782.38V1105.04H770.49zM770.49 1077.23H782.38V1080.19H770.49zM782.23 1085.51H794.11V1088.48H782.23zM793.96 1176.63H805.85V1179.59H793.96zM793.96 1146.26H805.85V1149.22H793.96zM793.96 1137.97H805.85V1140.93H793.96zM793.96 1102.08H805.85V1105.04H793.96zM793.96 1085.51H805.85V1088.48H793.96zM805.7 1099.32H817.58V1102.28H805.7zM817.43 1171.11H829.31V1174.07H817.43zM817.43 1135.21H829.31V1138.17H817.43zM817.43 1118.65H829.31V1121.61H817.43zM817.43 1115.89H829.31V1118.85H817.43zM829.16 1171.11H841.05V1174.07H829.16zM829.16 1160.06H841.05V1163.02H829.16zM829.16 1157.3H841.05V1160.26H829.16zM829.16 1151.78H841.05V1154.74H829.16zM840.9 1157.3H852.78V1160.26H840.9zM852.63 1146.26H864.52V1149.22H852.63zM852.63 1115.89H864.52V1118.85H852.63zM852.63 1096.56H864.52V1099.52H852.63zM852.63 1088.28H864.52V1091.24H852.63zM852.63 1077.23H864.52V1080.19H852.63zM864.37 1129.69H876.25V1132.65H864.37zM864.37 1124.17H876.25V1127.13H864.37zM864.37 1110.36H876.25V1113.32H864.37zM864.37 1066.19H876.25V1069.15H864.37zM911.3 1137.97H923.19V1140.93H911.3zM911.3 1124.17H923.19V1127.13H911.3zM911.3 1121.41H923.19V1124.37H911.3zM911.3 1113.12H923.19V1116.09H911.3zM911.3 1088.28H923.19V1091.24H911.3zM923.04 1162.82H934.92V1165.78H923.04zM923.04 1115.89H934.92V1118.85H923.04zM923.04 1110.36H934.92V1113.32H923.04zM923.04 1104.84H934.92V1107.8H923.04zM934.77 1168.34H946.65V1171.31H934.77zM946.5 1165.58H958.39V1168.54H946.5zM946.5 1129.69H958.39V1132.65H946.5zM958.24 1149.02H970.12V1151.98H958.24zM958.24 1135.21H970.12V1138.17H958.24zM958.24 1113.12H970.12V1116.09H958.24zM969.97 1207H981.86V1209.96H969.97zM969.97 1140.73H981.86V1143.7H969.97zM969.97 1121.41H981.86V1124.37H969.97zM969.97 1079.99H981.86V1082.95H969.97zM981.71 1160.06H993.59V1163.02H981.71zM981.71 1143.5H993.59V1146.46H981.71zM981.71 1135.21H993.59V1138.17H981.71zM993.44 1162.82H1005.32V1165.78H993.44zM993.44 1146.26H1005.32V1149.22H993.44zM993.44 1132.45H1005.32V1135.41H993.44zM993.44 1126.93H1005.32V1129.89H993.44zM993.44 1115.89H1005.32V1118.85H993.44zM993.44 1099.32H1005.32V1102.28H993.44zM1005.17 1160.06H1017.06V1163.02H1005.17zM1005.17 1140.73H1017.06V1143.7H1005.17zM1005.17 1135.21H1017.06V1138.17H1005.17zM1005.17 1113.12H1017.06V1116.09H1005.17zM1016.91 1135.21H1028.79V1138.17H1016.91zM1016.91 1118.65H1028.79V1121.61H1016.91zM1028.64 1140.73H1040.53V1143.7H1028.64zM1028.64 1132.45H1040.53V1135.41H1028.64zM1028.64 1121.41H1040.53V1124.37H1028.64zM1028.64 1088.28H1040.53V1091.24H1028.64zM1040.38 1132.45H1052.26V1135.41H1040.38zM1040.38 1118.65H1052.26V1121.61H1040.38zM1040.38 1110.36H1052.26V1113.32H1040.38zM1052.11 1154.54H1063.99V1157.5H1052.11zM1052.11 1115.89H1063.99V1118.85H1052.11zM1052.11 1110.36H1063.99V1113.32H1052.11zM1052.11 1104.84H1063.99V1107.8H1052.11zM1063.84 1165.58H1075.73V1168.54H1063.84zM1063.84 1162.82H1075.73V1165.78H1063.84zM1063.84 1149.02H1075.73V1151.98H1063.84zM1063.84 1135.21H1075.73V1138.17H1063.84zM1075.58 1184.91H1087.46V1187.87H1075.58zM1075.58 1173.87H1087.46V1176.83H1075.58zM1087.31 1077.23H1092.05V1080.19H1087.31zM1087.31 1074.47H1092.05V1077.43H1087.31zM1087.31 1024.77H1092.05V1027.73H1087.31zM1087.31 1002.68H1092.05V1005.65H1087.31zM1087.31 958.51H1092.05V961.47H1087.31zM1087.31 939.18H1092.05V942.14H1087.31z" fill="#d098ff"/>
<path d="M301.13 1173.87H313.02V1176.83H301.13zM301.13 1160.06H313.02V1163.02H301.13zM301.13 1149.02H313.02V1151.98H301.13zM301.13 1126.93H313.02V1129.89H301.13zM301.13 1110.36H313.02V1113.32H301.13zM312.87 1143.5H324.75V1146.46H312.87zM312.87 1129.69H324.75V1132.65H312.87zM324.6 1115.89H336.49V1118.85H324.6zM336.34 1140.73H348.22V1143.7H336.34zM336.34 1124.17H348.22V1127.13H336.34zM359.8 1146.26H371.69V1149.22H359.8zM371.54 1151.78H383.42V1154.74H371.54zM371.54 1121.41H383.42V1124.37H371.54zM383.27 1154.54H395.16V1157.5H383.27zM395.01 1140.73H406.89V1143.7H395.01zM395.01 1132.45H406.89V1135.41H395.01zM395.01 1126.93H406.89V1129.89H395.01zM406.74 1149.02H418.62V1151.98H406.74zM453.68 1135.21H465.56V1138.17H453.68zM465.41 1149.02H477.29V1151.98H465.41zM465.41 1129.69H477.29V1132.65H465.41zM512.35 1126.93H524.23V1129.89H512.35zM512.35 1121.41H524.23V1124.37H512.35zM524.08 1146.26H535.96V1149.22H524.08zM535.81 1137.97H547.7V1140.93H535.81zM535.81 1135.21H547.7V1138.17H535.81zM547.55 1135.21H559.43V1138.17H547.55zM559.28 1160.06H571.17V1163.02H559.28zM559.28 1118.65H571.17V1121.61H559.28zM571.02 1132.45H582.9V1135.41H571.02zM594.48 1129.69H606.37V1132.65H594.48zM617.95 1140.73H629.84V1143.7H617.95zM629.69 1146.26H641.57V1149.22H629.69zM629.69 1143.5H641.57V1146.46H629.69zM629.69 1137.97H641.57V1140.93H629.69zM629.69 1132.45H641.57V1135.41H629.69zM641.42 1157.3H653.3V1160.26H641.42zM641.42 1135.21H653.3V1138.17H641.42zM653.15 1146.26H665.04V1149.22H653.15zM653.15 1143.5H665.04V1146.46H653.15zM653.15 1137.97H665.04V1140.93H653.15zM653.15 1124.17H665.04V1127.13H653.15zM664.89 1137.97H676.77V1140.93H664.89zM664.89 1121.41H676.77V1124.37H664.89zM688.36 1140.73H700.24V1143.7H688.36zM711.82 1140.73H723.71V1143.7H711.82zM711.82 1115.89H723.71V1118.85H711.82zM723.56 1146.26H735.44V1149.22H723.56zM723.56 1126.93H735.44V1129.89H723.56zM735.29 1126.93H747.18V1129.89H735.29zM747.03 1149.02H758.91V1151.98H747.03zM747.03 1132.45H758.91V1135.41H747.03zM758.76 1162.82H770.64V1165.78H758.76zM758.76 1137.97H770.64V1140.93H758.76zM770.49 1113.12H782.38V1116.09H770.49zM782.23 1137.97H794.11V1140.93H782.23zM793.96 1143.5H805.85V1146.46H793.96zM805.7 1146.26H817.58V1149.22H805.7zM805.7 1140.73H817.58V1143.7H805.7zM805.7 1137.97H817.58V1140.93H805.7zM805.7 1126.93H817.58V1129.89H805.7zM805.7 1107.6H817.58V1110.56H805.7zM817.43 1149.02H829.31V1151.98H817.43zM817.43 1137.97H829.31V1140.93H817.43zM829.16 1143.5H841.05V1146.46H829.16zM829.16 1107.6H841.05V1110.56H829.16zM840.9 1143.5H852.78V1146.46H840.9zM864.37 1118.65H876.25V1121.61H864.37zM1075.58 1151.78H1087.46V1154.74H1075.58zM1087.31 1173.87H1092.05V1176.83H1087.31zM1087.31 1165.58H1092.05V1168.54H1087.31zM1087.31 1124.17H1092.05V1127.13H1087.31zM1087.31 1121.41H1092.05V1124.37H1087.31zM1087.31 1085.51H1092.05V1088.48H1087.31z" fill="#8026ff"/>
<path d="M301.13 1171.11H313.02V1174.07H301.13zM301.13 1157.3H313.02V1160.26H301.13zM301.13 1124.17H313.02V1127.13H301.13zM301.13 1113.12H313.02V1116.09H301.13zM301.13 1102.08H313.02V1105.04H301.13zM312.87 1154.54H324.75V1157.5H312.87zM312.87 1110.36H324.75V1113.32H312.87zM324.6 1160.06H336.49V1163.02H324.6zM324.6 1151.78H336.49V1154.74H324.6zM324.6 1124.17H336.49V1127.13H324.6zM336.34 1154.54H348.22V1157.5H336.34zM336.34 1151.78H348.22V1154.74H336.34zM336.34 1143.5H348.22V1146.46H336.34zM348.07 1135.21H359.95V1138.17H348.07zM348.07 1118.65H359.95V1121.61H348.07zM359.8 1149.02H371.69V1151.98H359.8zM359.8 1135.21H371.69V1138.17H359.8zM371.54 1137.97H383.42V1140.93H371.54zM383.27 1165.58H395.16V1168.54H383.27zM383.27 1146.26H395.16V1149.22H383.27zM383.27 1137.97H395.16V1140.93H383.27zM383.27 1132.45H395.16V1135.41H383.27zM383.27 1124.17H395.16V1127.13H383.27zM395.01 1154.54H406.89V1157.5H395.01zM395.01 1149.02H406.89V1151.98H395.01zM395.01 1143.5H406.89V1146.46H395.01zM406.74 1171.11H418.62V1174.07H406.74zM406.74 1137.97H418.62V1140.93H406.74zM430.21 1154.54H442.09V1157.5H430.21zM441.94 1132.45H453.83V1135.41H441.94zM453.68 1140.73H465.56V1143.7H453.68zM465.41 1143.5H477.29V1146.46H465.41zM465.41 1135.21H477.29V1138.17H465.41zM465.41 1126.93H477.29V1129.89H465.41zM477.14 1165.58H489.03V1168.54H477.14zM477.14 1143.5H489.03V1146.46H477.14zM477.14 1126.93H489.03V1129.89H477.14zM488.88 1154.54H500.76V1157.5H488.88zM488.88 1143.5H500.76V1146.46H488.88zM488.88 1135.21H500.76V1138.17H488.88zM524.08 1168.34H535.96V1171.31H524.08zM524.08 1149.02H535.96V1151.98H524.08zM524.08 1143.5H535.96V1146.46H524.08zM535.81 1165.58H547.7V1168.54H535.81zM535.81 1160.06H547.7V1163.02H535.81zM547.55 1126.93H559.43V1129.89H547.55zM559.28 1162.82H571.17V1165.78H559.28zM559.28 1143.5H571.17V1146.46H559.28zM559.28 1135.21H571.17V1138.17H559.28zM571.02 1143.5H582.9V1146.46H571.02zM571.02 1121.41H582.9V1124.37H571.02zM582.75 1132.45H594.63V1135.41H582.75zM594.48 1154.54H606.37V1157.5H594.48zM606.22 1146.26H618.1V1149.22H606.22zM606.22 1129.69H618.1V1132.65H606.22zM617.95 1146.26H629.84V1149.22H617.95zM629.69 1162.82H641.57V1165.78H629.69zM641.42 1149.02H653.3V1151.98H641.42zM641.42 1107.6H653.3V1110.56H641.42zM653.15 1165.58H665.04V1168.54H653.15zM653.15 1129.69H665.04V1132.65H653.15zM676.62 1149.02H688.51V1151.98H676.62zM688.36 1154.54H700.24V1157.5H688.36zM700.09 1132.45H711.97V1135.41H700.09zM700.09 1126.93H711.97V1129.89H700.09zM700.09 1115.89H711.97V1118.85H700.09zM711.82 1143.5H723.71V1146.46H711.82zM711.82 1132.45H723.71V1135.41H711.82zM711.82 1126.93H723.71V1129.89H711.82zM711.82 1099.32H723.71V1102.28H711.82zM723.56 1149.02H735.44V1151.98H723.56zM723.56 1110.36H735.44V1113.32H723.56zM735.29 1149.02H747.18V1151.98H735.29zM735.29 1143.5H747.18V1146.46H735.29zM735.29 1140.73H747.18V1143.7H735.29zM735.29 1129.69H747.18V1132.65H735.29zM735.29 1121.41H747.18V1124.37H735.29zM770.49 1129.69H782.38V1132.65H770.49zM782.23 1162.82H794.11V1165.78H782.23zM782.23 1143.5H794.11V1146.46H782.23zM793.96 1154.54H805.85V1157.5H793.96zM793.96 1129.69H805.85V1132.65H793.96zM793.96 1115.89H805.85V1118.85H793.96zM805.7 1160.06H817.58V1163.02H805.7zM805.7 1121.41H817.58V1124.37H805.7zM805.7 1110.36H817.58V1113.32H805.7zM805.7 1102.08H817.58V1105.04H805.7zM817.43 1165.58H829.31V1168.54H817.43zM817.43 1146.26H829.31V1149.22H817.43zM829.16 1146.26H841.05V1149.22H829.16zM829.16 1118.65H841.05V1121.61H829.16zM840.9 1135.21H852.78V1138.17H840.9zM840.9 1132.45H852.78V1135.41H840.9zM840.9 1126.93H852.78V1129.89H840.9zM852.63 1157.3H864.52V1160.26H852.63zM852.63 1149.02H864.52V1151.98H852.63zM852.63 1132.45H864.52V1135.41H852.63zM864.37 1140.73H876.25V1143.7H864.37zM864.37 1132.45H876.25V1135.41H864.37zM1052.11 1132.45H1063.99V1135.41H1052.11zM1063.84 1140.73H1075.73V1143.7H1063.84zM1063.84 1124.17H1075.73V1127.13H1063.84zM1075.58 1140.73H1087.46V1143.7H1075.58zM1075.58 1137.97H1087.46V1140.93H1075.58zM1075.58 1129.69H1087.46V1132.65H1075.58zM1075.58 1126.93H1087.46V1129.89H1075.58zM1075.58 1115.89H1087.46V1118.85H1075.58zM1087.31 1179.39H1092.05V1182.35H1087.31zM1087.31 1099.32H1092.05V1102.28H1087.31z" fill="#902bff"/>
<path d="M301.13 1168.34H313.02V1171.31H301.13zM301.13 1151.78H313.02V1154.74H301.13zM301.13 1140.73H313.02V1143.7H301.13zM301.13 1135.21H313.02V1138.17H301.13zM301.13 1132.45H313.02V1135.41H301.13zM312.87 1137.97H324.75V1140.93H312.87zM312.87 1135.21H324.75V1138.17H312.87zM324.6 1135.21H336.49V1138.17H324.6zM348.07 1160.06H359.95V1163.02H348.07zM348.07 1140.73H359.95V1143.7H348.07zM371.54 1154.54H383.42V1157.5H371.54zM383.27 1143.5H395.16V1146.46H383.27zM418.47 1143.5H430.36V1146.46H418.47zM430.21 1160.06H442.09V1163.02H430.21zM441.94 1151.78H453.83V1154.74H441.94zM488.88 1137.97H500.76V1140.93H488.88zM535.81 1157.3H547.7V1160.26H535.81zM535.81 1146.26H547.7V1149.22H535.81zM535.81 1132.45H547.7V1135.41H535.81zM547.55 1151.78H559.43V1154.74H547.55zM559.28 1154.54H571.17V1157.5H559.28zM688.36 1149.02H700.24V1151.98H688.36zM700.09 1140.73H711.97V1143.7H700.09zM700.09 1135.21H711.97V1138.17H700.09zM782.23 1126.93H794.11V1129.89H782.23zM793.96 1126.93H805.85V1129.89H793.96zM1075.58 1154.54H1087.46V1157.5H1075.58zM1087.31 1168.34H1092.05V1171.31H1087.31zM1087.31 1162.82H1092.05V1165.78H1087.31zM1087.31 1113.12H1092.05V1116.09H1087.31z" fill="#7022ff"/>
<path d="M301.13 1165.58H313.02V1168.54H301.13zM301.13 1146.26H313.02V1149.22H301.13zM301.13 1129.69H313.02V1132.65H301.13zM301.13 1118.65H313.02V1121.61H301.13zM301.13 1115.89H313.02V1118.85H301.13zM312.87 1157.3H324.75V1160.26H312.87zM324.6 1140.73H336.49V1143.7H324.6zM336.34 1129.69H348.22V1132.65H336.34zM348.07 1149.02H359.95V1151.98H348.07zM348.07 1137.97H359.95V1140.93H348.07zM348.07 1129.69H359.95V1132.65H348.07zM348.07 1126.93H359.95V1129.89H348.07zM359.8 1160.06H371.69V1163.02H359.8zM359.8 1140.73H371.69V1143.7H359.8zM383.27 1140.73H395.16V1143.7H383.27zM395.01 1165.58H406.89V1168.54H395.01zM406.74 1157.3H418.62V1160.26H406.74zM406.74 1154.54H418.62V1157.5H406.74zM406.74 1129.69H418.62V1132.65H406.74zM406.74 1126.93H418.62V1129.89H406.74zM406.74 1121.41H418.62V1124.37H406.74zM406.74 1107.6H418.62V1110.56H406.74zM406.74 1104.84H418.62V1107.8H406.74zM418.47 1160.06H430.36V1163.02H418.47zM418.47 1146.26H430.36V1149.22H418.47zM430.21 1146.26H442.09V1149.22H430.21zM430.21 1135.21H442.09V1138.17H430.21zM441.94 1135.21H453.83V1138.17H441.94zM453.68 1129.69H465.56V1132.65H453.68zM453.68 1110.36H465.56V1113.32H453.68zM465.41 1160.06H477.29V1163.02H465.41zM465.41 1154.54H477.29V1157.5H465.41zM465.41 1140.73H477.29V1143.7H465.41zM477.14 1154.54H489.03V1157.5H477.14zM488.88 1129.69H500.76V1132.65H488.88zM500.61 1135.21H512.5V1138.17H500.61zM500.61 1113.12H512.5V1116.09H500.61zM500.61 1107.6H512.5V1110.56H500.61zM512.35 1160.06H524.23V1163.02H512.35zM512.35 1157.3H524.23V1160.26H512.35zM512.35 1140.73H524.23V1143.7H512.35zM535.81 1154.54H547.7V1157.5H535.81zM547.55 1140.73H559.43V1143.7H547.55zM559.28 1121.41H571.17V1124.37H559.28zM559.28 1113.12H571.17V1116.09H559.28zM571.02 1154.54H582.9V1157.5H571.02zM571.02 1146.26H582.9V1149.22H571.02zM571.02 1140.73H582.9V1143.7H571.02zM582.75 1143.5H594.63V1146.46H582.75zM594.48 1143.5H606.37V1146.46H594.48zM594.48 1132.45H606.37V1135.41H594.48zM594.48 1124.17H606.37V1127.13H594.48zM606.22 1151.78H618.1V1154.74H606.22zM606.22 1137.97H618.1V1140.93H606.22zM606.22 1124.17H618.1V1127.13H606.22zM617.95 1124.17H629.84V1127.13H617.95zM629.69 1154.54H641.57V1157.5H629.69zM629.69 1129.69H641.57V1132.65H629.69zM653.15 1160.06H665.04V1163.02H653.15zM664.89 1168.34H676.77V1171.31H664.89zM676.62 1126.93H688.51V1129.89H676.62zM700.09 1154.54H711.97V1157.5H700.09zM700.09 1146.26H711.97V1149.22H700.09zM711.82 1151.78H723.71V1154.74H711.82zM711.82 1121.41H723.71V1124.37H711.82zM723.56 1154.54H735.44V1157.5H723.56zM723.56 1115.89H735.44V1118.85H723.56zM735.29 1151.78H747.18V1154.74H735.29zM735.29 1132.45H747.18V1135.41H735.29zM747.03 1168.34H758.91V1171.31H747.03zM747.03 1118.65H758.91V1121.61H747.03zM758.76 1149.02H770.64V1151.98H758.76zM770.49 1146.26H782.38V1149.22H770.49zM782.23 1135.21H794.11V1138.17H782.23zM782.23 1124.17H794.11V1127.13H782.23zM793.96 1121.41H805.85V1124.37H793.96zM793.96 1104.84H805.85V1107.8H793.96zM805.7 1154.54H817.58V1157.5H805.7zM805.7 1143.5H817.58V1146.46H805.7zM817.43 1140.73H829.31V1143.7H817.43zM817.43 1132.45H829.31V1135.41H817.43zM840.9 1154.54H852.78V1157.5H840.9zM840.9 1121.41H852.78V1124.37H840.9zM852.63 1140.73H864.52V1143.7H852.63zM1052.11 1137.97H1063.99V1140.93H1052.11zM1075.58 1168.34H1087.46V1171.31H1075.58zM1075.58 1118.65H1087.46V1121.61H1075.58zM1075.58 1107.6H1087.46V1110.56H1075.58zM1075.58 1102.08H1087.46V1105.04H1075.58zM1087.31 1184.91H1092.05V1187.87H1087.31zM1087.31 1093.8H1092.05V1096.76H1087.31z" fill="#a030ff"/>
<path d="M301.13 1162.82H313.02V1165.78H301.13zM312.87 1160.06H324.75V1163.02H312.87zM312.87 1151.78H324.75V1154.74H312.87zM312.87 1113.12H324.75V1116.09H312.87zM324.6 1168.34H336.49V1171.31H324.6zM324.6 1132.45H336.49V1135.41H324.6zM324.6 1129.69H336.49V1132.65H324.6zM336.34 1157.3H348.22V1160.26H336.34zM336.34 1126.93H348.22V1129.89H336.34zM336.34 1115.89H348.22V1118.85H336.34zM348.07 1151.78H359.95V1154.74H348.07zM359.8 1151.78H371.69V1154.74H359.8zM359.8 1126.93H371.69V1129.89H359.8zM371.54 1143.5H383.42V1146.46H371.54zM383.27 1168.34H395.16V1171.31H383.27zM383.27 1129.69H395.16V1132.65H383.27zM383.27 1126.93H395.16V1129.89H383.27zM395.01 1171.11H406.89V1174.07H395.01zM395.01 1162.82H406.89V1165.78H395.01zM395.01 1135.21H406.89V1138.17H395.01zM395.01 1129.69H406.89V1132.65H395.01zM395.01 1124.17H406.89V1127.13H395.01zM418.47 1154.54H430.36V1157.5H418.47zM418.47 1140.73H430.36V1143.7H418.47zM418.47 1137.97H430.36V1140.93H418.47zM418.47 1132.45H430.36V1135.41H418.47zM418.47 1110.36H430.36V1113.32H418.47zM418.47 1096.56H430.36V1099.52H418.47zM430.21 1124.17H442.09V1127.13H430.21zM441.94 1160.06H453.83V1163.02H441.94zM441.94 1157.3H453.83V1160.26H441.94zM441.94 1146.26H453.83V1149.22H441.94zM441.94 1121.41H453.83V1124.37H441.94zM441.94 1113.12H453.83V1116.09H441.94zM441.94 1107.6H453.83V1110.56H441.94zM453.68 1160.06H465.56V1163.02H453.68zM453.68 1149.02H465.56V1151.98H453.68zM453.68 1146.26H465.56V1149.22H453.68zM453.68 1143.5H465.56V1146.46H453.68zM465.41 1151.78H477.29V1154.74H465.41zM465.41 1146.26H477.29V1149.22H465.41zM465.41 1124.17H477.29V1127.13H465.41zM465.41 1118.65H477.29V1121.61H465.41zM465.41 1110.36H477.29V1113.32H465.41zM477.14 1140.73H489.03V1143.7H477.14zM477.14 1137.97H489.03V1140.93H477.14zM477.14 1135.21H489.03V1138.17H477.14zM477.14 1132.45H489.03V1135.41H477.14zM477.14 1113.12H489.03V1116.09H477.14zM488.88 1160.06H500.76V1163.02H488.88zM488.88 1132.45H500.76V1135.41H488.88zM488.88 1124.17H500.76V1127.13H488.88zM488.88 1115.89H500.76V1118.85H488.88zM500.61 1154.54H512.5V1157.5H500.61zM500.61 1146.26H512.5V1149.22H500.61zM500.61 1143.5H512.5V1146.46H500.61zM500.61 1121.41H512.5V1124.37H500.61zM500.61 1110.36H512.5V1113.32H500.61zM512.35 1162.82H524.23V1165.78H512.35zM512.35 1143.5H524.23V1146.46H512.35zM512.35 1135.21H524.23V1138.17H512.35zM512.35 1132.45H524.23V1135.41H512.35zM512.35 1115.89H524.23V1118.85H512.35zM524.08 1151.78H535.96V1154.74H524.08zM524.08 1137.97H535.96V1140.93H524.08zM524.08 1124.17H535.96V1127.13H524.08zM535.81 1121.41H547.7V1124.37H535.81zM547.55 1162.82H559.43V1165.78H547.55zM547.55 1160.06H559.43V1163.02H547.55zM547.55 1157.3H559.43V1160.26H547.55zM547.55 1146.26H559.43V1149.22H547.55zM547.55 1143.5H559.43V1146.46H547.55zM547.55 1137.97H559.43V1140.93H547.55zM547.55 1132.45H559.43V1135.41H547.55zM547.55 1121.41H559.43V1124.37H547.55zM547.55 1102.08H559.43V1105.04H547.55zM559.28 1157.3H571.17V1160.26H559.28zM559.28 1149.02H571.17V1151.98H559.28zM559.28 1137.97H571.17V1140.93H559.28zM559.28 1129.69H571.17V1132.65H559.28zM559.28 1124.17H571.17V1127.13H559.28zM559.28 1096.56H571.17V1099.52H559.28zM571.02 1151.78H582.9V1154.74H571.02zM571.02 1126.93H582.9V1129.89H571.02zM571.02 1124.17H582.9V1127.13H571.02zM582.75 1154.54H594.63V1157.5H582.75zM582.75 1151.78H594.63V1154.74H582.75zM582.75 1126.93H594.63V1129.89H582.75zM582.75 1121.41H594.63V1124.37H582.75zM594.48 1168.34H606.37V1171.31H594.48zM594.48 1160.06H606.37V1163.02H594.48zM594.48 1140.73H606.37V1143.7H594.48zM594.48 1135.21H606.37V1138.17H594.48zM606.22 1135.21H618.1V1138.17H606.22zM606.22 1121.41H618.1V1124.37H606.22zM606.22 1118.65H618.1V1121.61H606.22zM606.22 1113.12H618.1V1116.09H606.22zM617.95 1151.78H629.84V1154.74H617.95zM617.95 1137.97H629.84V1140.93H617.95zM617.95 1129.69H629.84V1132.65H617.95zM617.95 1113.12H629.84V1116.09H617.95zM629.69 1171.11H641.57V1174.07H629.69zM629.69 1151.78H641.57V1154.74H629.69zM629.69 1096.56H641.57V1099.52H629.69zM641.42 1168.34H653.3V1171.31H641.42zM641.42 1146.26H653.3V1149.22H641.42zM641.42 1140.73H653.3V1143.7H641.42zM641.42 1137.97H653.3V1140.93H641.42zM641.42 1129.69H653.3V1132.65H641.42zM641.42 1121.41H653.3V1124.37H641.42zM641.42 1118.65H653.3V1121.61H641.42zM653.15 1135.21H665.04V1138.17H653.15zM653.15 1102.08H665.04V1105.04H653.15zM664.89 1162.82H676.77V1165.78H664.89zM664.89 1149.02H676.77V1151.98H664.89zM664.89 1140.73H676.77V1143.7H664.89zM664.89 1132.45H676.77V1135.41H664.89zM664.89 1129.69H676.77V1132.65H664.89zM664.89 1118.65H676.77V1121.61H664.89zM676.62 1154.54H688.51V1157.5H676.62zM676.62 1146.26H688.51V1149.22H676.62zM676.62 1132.45H688.51V1135.41H676.62zM688.36 1143.5H700.24V1146.46H688.36zM688.36 1135.21H700.24V1138.17H688.36zM688.36 1124.17H700.24V1127.13H688.36zM700.09 1165.58H711.97V1168.54H700.09zM700.09 1157.3H711.97V1160.26H700.09zM700.09 1149.02H711.97V1151.98H700.09zM700.09 1107.6H711.97V1110.56H700.09zM711.82 1137.97H723.71V1140.93H711.82zM711.82 1135.21H723.71V1138.17H711.82zM711.82 1129.69H723.71V1132.65H711.82zM711.82 1124.17H723.71V1127.13H711.82zM711.82 1118.65H723.71V1121.61H711.82zM723.56 1151.78H735.44V1154.74H723.56zM723.56 1137.97H735.44V1140.93H723.56zM723.56 1132.45H735.44V1135.41H723.56zM735.29 1168.34H747.18V1171.31H735.29zM735.29 1137.97H747.18V1140.93H735.29zM735.29 1118.65H747.18V1121.61H735.29zM747.03 1157.3H758.91V1160.26H747.03zM747.03 1151.78H758.91V1154.74H747.03zM747.03 1140.73H758.91V1143.7H747.03zM747.03 1137.97H758.91V1140.93H747.03zM747.03 1124.17H758.91V1127.13H747.03zM747.03 1113.12H758.91V1116.09H747.03zM758.76 1102.08H770.64V1105.04H758.76zM770.49 1173.87H782.38V1176.83H770.49zM770.49 1160.06H782.38V1163.02H770.49zM770.49 1132.45H782.38V1135.41H770.49zM782.23 1140.73H794.11V1143.7H782.23zM782.23 1132.45H794.11V1135.41H782.23zM782.23 1121.41H794.11V1124.37H782.23zM782.23 1118.65H794.11V1121.61H782.23zM805.7 1151.78H817.58V1154.74H805.7zM805.7 1149.02H817.58V1151.98H805.7zM805.7 1132.45H817.58V1135.41H805.7zM805.7 1118.65H817.58V1121.61H805.7zM805.7 1113.12H817.58V1116.09H805.7zM817.43 1157.3H829.31V1160.26H817.43zM817.43 1129.69H829.31V1132.65H817.43zM817.43 1110.36H829.31V1113.32H817.43zM829.16 1140.73H841.05V1143.7H829.16zM829.16 1129.69H841.05V1132.65H829.16zM829.16 1121.41H841.05V1124.37H829.16zM829.16 1115.89H841.05V1118.85H829.16zM840.9 1115.89H852.78V1118.85H840.9zM840.9 1110.36H852.78V1113.32H840.9zM840.9 1096.56H852.78V1099.52H840.9zM852.63 1151.78H864.52V1154.74H852.63zM852.63 1137.97H864.52V1140.93H852.63zM852.63 1124.17H864.52V1127.13H852.63zM852.63 1121.41H864.52V1124.37H852.63zM852.63 1110.36H864.52V1113.32H852.63zM864.37 1151.78H876.25V1154.74H864.37zM864.37 1126.93H876.25V1129.89H864.37zM864.37 1093.8H876.25V1096.76H864.37zM1040.38 1135.21H1052.26V1138.17H1040.38zM1052.11 1157.3H1063.99V1160.26H1052.11zM1052.11 1129.69H1063.99V1132.65H1052.11zM1063.84 1113.12H1075.73V1116.09H1063.84zM1063.84 1107.6H1075.73V1110.56H1063.84zM1075.58 1162.82H1087.46V1165.78H1075.58zM1075.58 1157.3H1087.46V1160.26H1075.58zM1075.58 1149.02H1087.46V1151.98H1075.58zM1075.58 1146.26H1087.46V1149.22H1075.58zM1075.58 1104.84H1087.46V1107.8H1075.58zM1087.31 1176.63H1092.05V1179.59H1087.31zM1087.31 1066.19H1092.05V1069.15H1087.31z" fill="#aa45ff"/>
<path d="M301.13 1154.54H313.02V1157.5H301.13zM559.28 1132.45H571.17V1135.41H559.28zM770.49 1135.21H782.38V1138.17H770.49zM1087.31 1135.21H1092.05V1138.17H1087.31zM1087.31 1129.69H1092.05V1132.65H1087.31zM1087.31 1126.93H1092.05V1129.89H1087.31zM1087.31 1102.08H1092.05V1105.04H1087.31z" fill="#5018ff"/>
<path d="M301.13 1143.5H313.02V1146.46H301.13zM1087.31 1160.06H1092.05V1163.02H1087.31zM1087.31 1157.3H1092.05V1160.26H1087.31zM1087.31 1154.54H1092.05V1157.5H1087.31zM1087.31 1146.26H1092.05V1149.22H1087.31zM1087.31 1137.97H1092.05V1140.93H1087.31zM1087.31 1115.89H1092.05V1118.85H1087.31zM1087.31 1110.36H1092.05V1113.32H1087.31z" fill="#4013ff"/>
<path d="M301.13 1121.41H313.02V1124.37H301.13zM406.74 1151.78H418.62V1154.74H406.74zM664.89 1146.26H676.77V1149.22H664.89zM676.62 1135.21H688.51V1138.17H676.62zM1087.31 1171.11H1092.05V1174.07H1087.31zM1087.31 1151.78H1092.05V1154.74H1087.31zM1087.31 1104.84H1092.05V1107.8H1087.31z" fill="#601dff"/>
<path d="M312.87 1165.58H324.75V1168.54H312.87zM312.87 1146.26H324.75V1149.22H312.87zM312.87 1132.45H324.75V1135.41H312.87zM312.87 1126.93H324.75V1129.89H312.87zM312.87 1121.41H324.75V1124.37H312.87zM312.87 1104.84H324.75V1107.8H312.87zM312.87 1102.08H324.75V1105.04H312.87zM324.6 1146.26H336.49V1149.22H324.6zM324.6 1121.41H336.49V1124.37H324.6zM324.6 1113.12H336.49V1116.09H324.6zM336.34 1135.21H348.22V1138.17H336.34zM336.34 1121.41H348.22V1124.37H336.34zM336.34 1118.65H348.22V1121.61H336.34zM348.07 1143.5H359.95V1146.46H348.07zM348.07 1132.45H359.95V1135.41H348.07zM348.07 1115.89H359.95V1118.85H348.07zM359.8 1143.5H371.69V1146.46H359.8zM359.8 1129.69H371.69V1132.65H359.8zM359.8 1118.65H371.69V1121.61H359.8zM359.8 1115.89H371.69V1118.85H359.8zM371.54 1165.58H383.42V1168.54H371.54zM371.54 1162.82H383.42V1165.78H371.54zM371.54 1160.06H383.42V1163.02H371.54zM371.54 1157.3H383.42V1160.26H371.54zM371.54 1149.02H383.42V1151.98H371.54zM371.54 1135.21H383.42V1138.17H371.54zM371.54 1132.45H383.42V1135.41H371.54zM371.54 1129.69H383.42V1132.65H371.54zM383.27 1162.82H395.16V1165.78H383.27zM383.27 1151.78H395.16V1154.74H383.27zM383.27 1118.65H395.16V1121.61H383.27zM383.27 1110.36H395.16V1113.32H383.27zM383.27 1093.8H395.16V1096.76H383.27zM395.01 1182.15H406.89V1185.11H395.01zM395.01 1173.87H406.89V1176.83H395.01zM395.01 1168.34H406.89V1171.31H395.01zM395.01 1160.06H406.89V1163.02H395.01zM395.01 1157.3H406.89V1160.26H395.01zM395.01 1151.78H406.89V1154.74H395.01zM395.01 1104.84H406.89V1107.8H395.01zM406.74 1179.39H418.62V1182.35H406.74zM418.47 1126.93H430.36V1129.89H418.47zM418.47 1121.41H430.36V1124.37H418.47zM430.21 1168.34H442.09V1171.31H430.21zM430.21 1149.02H442.09V1151.98H430.21zM430.21 1118.65H442.09V1121.61H430.21zM430.21 1113.12H442.09V1116.09H430.21zM441.94 1149.02H453.83V1151.98H441.94zM441.94 1140.73H453.83V1143.7H441.94zM441.94 1129.69H453.83V1132.65H441.94zM453.68 1115.89H465.56V1118.85H453.68zM453.68 1104.84H465.56V1107.8H453.68zM465.41 1137.97H477.29V1140.93H465.41zM477.14 1149.02H489.03V1151.98H477.14zM477.14 1129.69H489.03V1132.65H477.14zM477.14 1124.17H489.03V1127.13H477.14zM477.14 1121.41H489.03V1124.37H477.14zM477.14 1118.65H489.03V1121.61H477.14zM488.88 1149.02H500.76V1151.98H488.88zM488.88 1140.73H500.76V1143.7H488.88zM488.88 1121.41H500.76V1124.37H488.88zM500.61 1173.87H512.5V1176.83H500.61zM500.61 1157.3H512.5V1160.26H500.61zM500.61 1151.78H512.5V1154.74H500.61zM500.61 1149.02H512.5V1151.98H500.61zM500.61 1132.45H512.5V1135.41H500.61zM500.61 1126.93H512.5V1129.89H500.61zM500.61 1118.65H512.5V1121.61H500.61zM500.61 1104.84H512.5V1107.8H500.61zM512.35 1173.87H524.23V1176.83H512.35zM512.35 1154.54H524.23V1157.5H512.35zM512.35 1149.02H524.23V1151.98H512.35zM512.35 1146.26H524.23V1149.22H512.35zM512.35 1129.69H524.23V1132.65H512.35zM512.35 1088.28H524.23V1091.24H512.35zM524.08 1165.58H535.96V1168.54H524.08zM524.08 1160.06H535.96V1163.02H524.08zM524.08 1157.3H535.96V1160.26H524.08zM524.08 1126.93H535.96V1129.89H524.08zM524.08 1115.89H535.96V1118.85H524.08zM524.08 1110.36H535.96V1113.32H524.08zM524.08 1093.8H535.96V1096.76H524.08zM535.81 1149.02H547.7V1151.98H535.81zM535.81 1143.5H547.7V1146.46H535.81zM535.81 1126.93H547.7V1129.89H535.81zM547.55 1171.11H559.43V1174.07H547.55zM547.55 1149.02H559.43V1151.98H547.55zM547.55 1124.17H559.43V1127.13H547.55zM547.55 1110.36H559.43V1113.32H547.55zM559.28 1168.34H571.17V1171.31H559.28zM559.28 1126.93H571.17V1129.89H559.28zM559.28 1104.84H571.17V1107.8H559.28zM559.28 1085.51H571.17V1088.48H559.28zM571.02 1165.58H582.9V1168.54H571.02zM571.02 1157.3H582.9V1160.26H571.02zM571.02 1137.97H582.9V1140.93H571.02zM571.02 1107.6H582.9V1110.56H571.02zM571.02 1099.32H582.9V1102.28H571.02zM582.75 1162.82H594.63V1165.78H582.75zM582.75 1157.3H594.63V1160.26H582.75zM582.75 1140.73H594.63V1143.7H582.75zM582.75 1137.97H594.63V1140.93H582.75zM582.75 1129.69H594.63V1132.65H582.75zM582.75 1124.17H594.63V1127.13H582.75zM582.75 1113.12H594.63V1116.09H582.75zM582.75 1104.84H594.63V1107.8H582.75zM582.75 1088.28H594.63V1091.24H582.75zM594.48 1165.58H606.37V1168.54H594.48zM594.48 1151.78H606.37V1154.74H594.48zM594.48 1146.26H606.37V1149.22H594.48zM606.22 1165.58H618.1V1168.54H606.22zM606.22 1154.54H618.1V1157.5H606.22zM617.95 1168.34H629.84V1171.31H617.95zM617.95 1143.5H629.84V1146.46H617.95zM617.95 1135.21H629.84V1138.17H617.95zM617.95 1132.45H629.84V1135.41H617.95zM617.95 1126.93H629.84V1129.89H617.95zM617.95 1121.41H629.84V1124.37H617.95zM617.95 1115.89H629.84V1118.85H617.95zM629.69 1157.3H641.57V1160.26H629.69zM629.69 1126.93H641.57V1129.89H629.69zM629.69 1124.17H641.57V1127.13H629.69zM629.69 1118.65H641.57V1121.61H629.69zM629.69 1110.36H641.57V1113.32H629.69zM629.69 1107.6H641.57V1110.56H629.69zM641.42 1154.54H653.3V1157.5H641.42zM641.42 1132.45H653.3V1135.41H641.42zM641.42 1124.17H653.3V1127.13H641.42zM653.15 1149.02H665.04V1151.98H653.15zM653.15 1140.73H665.04V1143.7H653.15zM653.15 1126.93H665.04V1129.89H653.15zM653.15 1113.12H665.04V1116.09H653.15zM664.89 1176.63H676.77V1179.59H664.89zM664.89 1173.87H676.77V1176.83H664.89zM664.89 1165.58H676.77V1168.54H664.89zM664.89 1143.5H676.77V1146.46H664.89zM676.62 1160.06H688.51V1163.02H676.62zM676.62 1143.5H688.51V1146.46H676.62zM676.62 1140.73H688.51V1143.7H676.62zM676.62 1137.97H688.51V1140.93H676.62zM676.62 1129.69H688.51V1132.65H676.62zM676.62 1115.89H688.51V1118.85H676.62zM688.36 1162.82H700.24V1165.78H688.36zM688.36 1157.3H700.24V1160.26H688.36zM688.36 1146.26H700.24V1149.22H688.36zM688.36 1137.97H700.24V1140.93H688.36zM688.36 1126.93H700.24V1129.89H688.36zM688.36 1121.41H700.24V1124.37H688.36zM688.36 1102.08H700.24V1105.04H688.36zM700.09 1151.78H711.97V1154.74H700.09zM700.09 1143.5H711.97V1146.46H700.09zM700.09 1137.97H711.97V1140.93H700.09zM700.09 1129.69H711.97V1132.65H700.09zM700.09 1121.41H711.97V1124.37H700.09zM711.82 1160.06H723.71V1163.02H711.82zM723.56 1140.73H735.44V1143.7H723.56zM723.56 1135.21H735.44V1138.17H723.56zM723.56 1113.12H735.44V1116.09H723.56zM735.29 1124.17H747.18V1127.13H735.29zM735.29 1107.6H747.18V1110.56H735.29zM747.03 1146.26H758.91V1149.22H747.03zM747.03 1143.5H758.91V1146.46H747.03zM747.03 1104.84H758.91V1107.8H747.03zM747.03 1102.08H758.91V1105.04H747.03zM747.03 1091.04H758.91V1094H747.03zM758.76 1146.26H770.64V1149.22H758.76zM758.76 1129.69H770.64V1132.65H758.76zM758.76 1126.93H770.64V1129.89H758.76zM770.49 1162.82H782.38V1165.78H770.49zM770.49 1143.5H782.38V1146.46H770.49zM770.49 1140.73H782.38V1143.7H770.49zM770.49 1137.97H782.38V1140.93H770.49zM770.49 1096.56H782.38V1099.52H770.49zM782.23 1157.3H794.11V1160.26H782.23zM782.23 1154.54H794.11V1157.5H782.23zM782.23 1151.78H794.11V1154.74H782.23zM782.23 1149.02H794.11V1151.98H782.23zM782.23 1146.26H794.11V1149.22H782.23zM782.23 1115.89H794.11V1118.85H782.23zM782.23 1110.36H794.11V1113.32H782.23zM782.23 1104.84H794.11V1107.8H782.23zM793.96 1171.11H805.85V1174.07H793.96zM793.96 1157.3H805.85V1160.26H793.96zM793.96 1149.02H805.85V1151.98H793.96zM793.96 1140.73H805.85V1143.7H793.96zM793.96 1135.21H805.85V1138.17H793.96zM793.96 1124.17H805.85V1127.13H793.96zM793.96 1110.36H805.85V1113.32H793.96zM805.7 1135.21H817.58V1138.17H805.7zM805.7 1115.89H817.58V1118.85H805.7zM805.7 1091.04H817.58V1094H805.7zM817.43 1162.82H829.31V1165.78H817.43zM817.43 1154.54H829.31V1157.5H817.43zM817.43 1151.78H829.31V1154.74H817.43zM817.43 1126.93H829.31V1129.89H817.43zM817.43 1124.17H829.31V1127.13H817.43zM829.16 1165.58H841.05V1168.54H829.16zM829.16 1162.82H841.05V1165.78H829.16zM829.16 1154.54H841.05V1157.5H829.16zM829.16 1137.97H841.05V1140.93H829.16zM829.16 1126.93H841.05V1129.89H829.16zM829.16 1124.17H841.05V1127.13H829.16zM829.16 1091.04H841.05V1094H829.16zM840.9 1124.17H852.78V1127.13H840.9zM852.63 1143.5H864.52V1146.46H852.63zM852.63 1129.69H864.52V1132.65H852.63zM852.63 1126.93H864.52V1129.89H852.63zM852.63 1118.65H864.52V1121.61H852.63zM852.63 1107.6H864.52V1110.56H852.63zM852.63 1099.32H864.52V1102.28H852.63zM864.37 1168.34H876.25V1171.31H864.37zM864.37 1143.5H876.25V1146.46H864.37zM864.37 1137.97H876.25V1140.93H864.37zM864.37 1135.21H876.25V1138.17H864.37zM864.37 1115.89H876.25V1118.85H864.37zM864.37 1096.56H876.25V1099.52H864.37zM911.3 1173.87H923.19V1176.83H911.3zM911.3 1115.89H923.19V1118.85H911.3zM911.3 1110.36H923.19V1113.32H911.3zM946.5 1162.82H958.39V1165.78H946.5zM958.24 1165.58H970.12V1168.54H958.24zM958.24 1154.54H970.12V1157.5H958.24zM981.71 1140.73H993.59V1143.7H981.71zM1005.17 1149.02H1017.06V1151.98H1005.17zM1016.91 1157.3H1028.79V1160.26H1016.91zM1016.91 1129.69H1028.79V1132.65H1016.91zM1028.64 1129.69H1040.53V1132.65H1028.64zM1040.38 1173.87H1052.26V1176.83H1040.38zM1040.38 1168.34H1052.26V1171.31H1040.38zM1040.38 1162.82H1052.26V1165.78H1040.38zM1040.38 1149.02H1052.26V1151.98H1040.38zM1040.38 1124.17H1052.26V1127.13H1040.38zM1052.11 1171.11H1063.99V1174.07H1052.11zM1052.11 1124.17H1063.99V1127.13H1052.11zM1063.84 1154.54H1075.73V1157.5H1063.84zM1063.84 1151.78H1075.73V1154.74H1063.84zM1063.84 1132.45H1075.73V1135.41H1063.84zM1063.84 1110.36H1075.73V1113.32H1063.84zM1063.84 1099.32H1075.73V1102.28H1063.84zM1075.58 1160.06H1087.46V1163.02H1075.58zM1075.58 1143.5H1087.46V1146.46H1075.58zM1075.58 1135.21H1087.46V1138.17H1075.58zM1075.58 1124.17H1087.46V1127.13H1075.58zM1075.58 1121.41H1087.46V1124.37H1075.58zM1075.58 1113.12H1087.46V1116.09H1075.58zM1087.31 1088.28H1092.05V1091.24H1087.31z" fill="#b359ff"/>
<path d="M312.87 1099.32H324.75V1102.28H312.87zM312.87 1093.8H324.75V1096.76H312.87zM324.6 1165.58H336.49V1168.54H324.6zM324.6 1118.65H336.49V1121.61H324.6zM324.6 1110.36H336.49V1113.32H324.6zM324.6 1107.6H336.49V1110.56H324.6zM336.34 1168.34H348.22V1171.31H336.34zM336.34 1160.06H348.22V1163.02H336.34zM336.34 1146.26H348.22V1149.22H336.34zM336.34 1113.12H348.22V1116.09H336.34zM336.34 1096.56H348.22V1099.52H336.34zM348.07 1124.17H359.95V1127.13H348.07zM348.07 1113.12H359.95V1116.09H348.07zM348.07 1093.8H359.95V1096.76H348.07zM359.8 1154.54H371.69V1157.5H359.8zM371.54 1168.34H383.42V1171.31H371.54zM371.54 1146.26H383.42V1149.22H371.54zM371.54 1113.12H383.42V1116.09H371.54zM383.27 1173.87H395.16V1176.83H383.27zM383.27 1157.3H395.16V1160.26H383.27zM383.27 1149.02H395.16V1151.98H383.27zM383.27 1113.12H395.16V1116.09H383.27zM383.27 1104.84H395.16V1107.8H383.27zM383.27 1096.56H395.16V1099.52H383.27zM395.01 1179.39H406.89V1182.35H395.01zM395.01 1137.97H406.89V1140.93H395.01zM395.01 1121.41H406.89V1124.37H395.01zM395.01 1118.65H406.89V1121.61H395.01zM395.01 1107.6H406.89V1110.56H395.01zM395.01 1102.08H406.89V1105.04H395.01zM406.74 1160.06H418.62V1163.02H406.74zM406.74 1146.26H418.62V1149.22H406.74zM406.74 1132.45H418.62V1135.41H406.74zM406.74 1118.65H418.62V1121.61H406.74zM406.74 1088.28H418.62V1091.24H406.74zM418.47 1129.69H430.36V1132.65H418.47zM418.47 1118.65H430.36V1121.61H418.47zM418.47 1107.6H430.36V1110.56H418.47zM430.21 1157.3H442.09V1160.26H430.21zM430.21 1143.5H442.09V1146.46H430.21zM430.21 1126.93H442.09V1129.89H430.21zM430.21 1121.41H442.09V1124.37H430.21zM430.21 1104.84H442.09V1107.8H430.21zM441.94 1137.97H453.83V1140.93H441.94zM441.94 1115.89H453.83V1118.85H441.94zM441.94 1110.36H453.83V1113.32H441.94zM453.68 1151.78H465.56V1154.74H453.68zM453.68 1137.97H465.56V1140.93H453.68zM453.68 1132.45H465.56V1135.41H453.68zM453.68 1099.32H465.56V1102.28H453.68zM453.68 1091.04H465.56V1094H453.68zM465.41 1173.87H477.29V1176.83H465.41zM465.41 1171.11H477.29V1174.07H465.41zM465.41 1085.51H477.29V1088.48H465.41zM477.14 1173.87H489.03V1176.83H477.14zM477.14 1162.82H489.03V1165.78H477.14zM477.14 1110.36H489.03V1113.32H477.14zM477.14 1107.6H489.03V1110.56H477.14zM488.88 1173.87H500.76V1176.83H488.88zM488.88 1162.82H500.76V1165.78H488.88zM488.88 1113.12H500.76V1116.09H488.88zM488.88 1107.6H500.76V1110.56H488.88zM500.61 1179.39H512.5V1182.35H500.61zM500.61 1140.73H512.5V1143.7H500.61zM500.61 1115.89H512.5V1118.85H500.61zM512.35 1193.19H524.23V1196.15H512.35zM512.35 1124.17H524.23V1127.13H512.35zM512.35 1118.65H524.23V1121.61H512.35zM524.08 1171.11H535.96V1174.07H524.08zM524.08 1162.82H535.96V1165.78H524.08zM524.08 1129.69H535.96V1132.65H524.08zM524.08 1118.65H535.96V1121.61H524.08zM524.08 1104.84H535.96V1107.8H524.08zM524.08 1102.08H535.96V1105.04H524.08zM535.81 1151.78H547.7V1154.74H535.81zM535.81 1115.89H547.7V1118.85H535.81zM535.81 1113.12H547.7V1116.09H535.81zM535.81 1107.6H547.7V1110.56H535.81zM547.55 1168.34H559.43V1171.31H547.55zM547.55 1093.8H559.43V1096.76H547.55zM559.28 1110.36H571.17V1113.32H559.28zM559.28 1102.08H571.17V1105.04H559.28zM559.28 1088.28H571.17V1091.24H559.28zM571.02 1171.11H582.9V1174.07H571.02zM571.02 1096.56H582.9V1099.52H571.02zM582.75 1135.21H594.63V1138.17H582.75zM582.75 1118.65H594.63V1121.61H582.75zM594.48 1157.3H606.37V1160.26H594.48zM594.48 1137.97H606.37V1140.93H594.48zM594.48 1118.65H606.37V1121.61H594.48zM594.48 1113.12H606.37V1116.09H594.48zM606.22 1168.34H618.1V1171.31H606.22zM617.95 1149.02H629.84V1151.98H617.95zM617.95 1104.84H629.84V1107.8H617.95zM617.95 1096.56H629.84V1099.52H617.95zM629.69 1165.58H641.57V1168.54H629.69zM629.69 1113.12H641.57V1116.09H629.69zM641.42 1165.58H653.3V1168.54H641.42zM641.42 1126.93H653.3V1129.89H641.42zM641.42 1115.89H653.3V1118.85H641.42zM653.15 1168.34H665.04V1171.31H653.15zM653.15 1132.45H665.04V1135.41H653.15zM653.15 1115.89H665.04V1118.85H653.15zM664.89 1107.6H676.77V1110.56H664.89zM676.62 1179.39H688.51V1182.35H676.62zM676.62 1157.3H688.51V1160.26H676.62zM676.62 1124.17H688.51V1127.13H676.62zM676.62 1110.36H688.51V1113.32H676.62zM676.62 1099.32H688.51V1102.28H676.62zM688.36 1173.87H700.24V1176.83H688.36zM688.36 1096.56H700.24V1099.52H688.36zM700.09 1160.06H711.97V1163.02H700.09zM700.09 1124.17H711.97V1127.13H700.09zM700.09 1118.65H711.97V1121.61H700.09zM711.82 1096.56H723.71V1099.52H711.82zM711.82 1077.23H723.71V1080.19H711.82zM723.56 1179.39H735.44V1182.35H723.56zM723.56 1176.63H735.44V1179.59H723.56zM723.56 1143.5H735.44V1146.46H723.56zM723.56 1121.41H735.44V1124.37H723.56zM735.29 1171.11H747.18V1174.07H735.29zM735.29 1102.08H747.18V1105.04H735.29zM747.03 1099.32H758.91V1102.28H747.03zM747.03 1093.8H758.91V1096.76H747.03zM758.76 1160.06H770.64V1163.02H758.76zM758.76 1135.21H770.64V1138.17H758.76zM758.76 1110.36H770.64V1113.32H758.76zM770.49 1149.02H782.38V1151.98H770.49zM770.49 1118.65H782.38V1121.61H770.49zM770.49 1107.6H782.38V1110.56H770.49zM793.96 1168.34H805.85V1171.31H793.96zM793.96 1160.06H805.85V1163.02H793.96zM793.96 1151.78H805.85V1154.74H793.96zM793.96 1118.65H805.85V1121.61H793.96zM793.96 1113.12H805.85V1116.09H793.96zM793.96 1091.04H805.85V1094H793.96zM805.7 1176.63H817.58V1179.59H805.7zM805.7 1168.34H817.58V1171.31H805.7zM805.7 1162.82H817.58V1165.78H805.7zM805.7 1129.69H817.58V1132.65H805.7zM805.7 1124.17H817.58V1127.13H805.7zM817.43 1176.63H829.31V1179.59H817.43zM817.43 1168.34H829.31V1171.31H817.43zM817.43 1121.41H829.31V1124.37H817.43zM817.43 1088.28H829.31V1091.24H817.43zM829.16 1149.02H841.05V1151.98H829.16zM829.16 1104.84H841.05V1107.8H829.16zM840.9 1137.97H852.78V1140.93H840.9zM840.9 1129.69H852.78V1132.65H840.9zM840.9 1102.08H852.78V1105.04H840.9zM840.9 1082.75H852.78V1085.71H840.9zM852.63 1160.06H864.52V1163.02H852.63zM852.63 1091.04H864.52V1094H852.63zM864.37 1162.82H876.25V1165.78H864.37zM864.37 1149.02H876.25V1151.98H864.37zM864.37 1113.12H876.25V1116.09H864.37zM864.37 1104.84H876.25V1107.8H864.37zM864.37 1091.04H876.25V1094H864.37zM899.57 1113.12H911.45V1116.09H899.57zM911.3 1179.39H923.19V1182.35H911.3zM911.3 1135.21H923.19V1138.17H911.3zM911.3 1107.6H923.19V1110.56H911.3zM923.04 1149.02H934.92V1151.98H923.04zM923.04 1118.65H934.92V1121.61H923.04zM934.77 1162.82H946.65V1165.78H934.77zM946.5 1157.3H958.39V1160.26H946.5zM946.5 1143.5H958.39V1146.46H946.5zM958.24 1157.3H970.12V1160.26H958.24zM958.24 1140.73H970.12V1143.7H958.24zM969.97 1129.69H981.86V1132.65H969.97zM981.71 1165.58H993.59V1168.54H981.71zM981.71 1121.41H993.59V1124.37H981.71zM993.44 1135.21H1005.32V1138.17H993.44zM1005.17 1151.78H1017.06V1154.74H1005.17zM1005.17 1137.97H1017.06V1140.93H1005.17zM1005.17 1126.93H1017.06V1129.89H1005.17zM1005.17 1118.65H1017.06V1121.61H1005.17zM1016.91 1160.06H1028.79V1163.02H1016.91zM1016.91 1126.93H1028.79V1129.89H1016.91zM1028.64 1162.82H1040.53V1165.78H1028.64zM1028.64 1149.02H1040.53V1151.98H1028.64zM1028.64 1143.5H1040.53V1146.46H1028.64zM1028.64 1099.32H1040.53V1102.28H1028.64zM1040.38 1165.58H1052.26V1168.54H1040.38zM1040.38 1151.78H1052.26V1154.74H1040.38zM1040.38 1143.5H1052.26V1146.46H1040.38zM1052.11 1173.87H1063.99V1176.83H1052.11zM1052.11 1126.93H1063.99V1129.89H1052.11zM1063.84 1157.3H1075.73V1160.26H1063.84zM1063.84 1143.5H1075.73V1146.46H1063.84zM1063.84 1126.93H1075.73V1129.89H1063.84zM1063.84 1118.65H1075.73V1121.61H1063.84zM1075.58 1171.11H1087.46V1174.07H1075.58zM1075.58 1096.56H1087.46V1099.52H1075.58zM1075.58 1088.28H1087.46V1091.24H1075.58zM1087.31 1201.48H1092.05V1204.44H1087.31zM1087.31 1091.04H1092.05V1094H1087.31zM1087.31 1079.99H1092.05V1082.95H1087.31zM1087.31 1071.71H1092.05V1074.67H1087.31zM1087.31 1057.9H1092.05V1060.87H1087.31zM1087.31 1008.21H1092.05V1011.17H1087.31z" fill="#c683ff"/>
<path d="M711.82 1149.02H723.71V1151.98H711.82zM1087.31 1140.73H1092.05V1143.7H1087.31zM1087.31 1132.45H1092.05V1135.41H1087.31zM1087.31 1118.65H1092.05V1121.61H1087.31z" fill="#300eff"/>
<path d="M1087.31 1149.02H1092.05V1151.98H1087.31z" fill="#200aff"/>
<path d="M1087.31 1143.5H1092.05V1146.46H1087.31z" fill="#1005ff"/>
<path d="M293.21 796.7V1376.5M346.53 796.7V1376.5M399.84 796.7V1376.5M506.46 796.7V1376.5M559.78 796.7V1376.5M613.09 796.7V1376.5M719.71 796.7V1376.5M773.03 796.7V1376.5M826.34 796.7V1376.5M932.96 796.7V1376.5M986.28 796.7V1376.5M1039.59 796.7V1376.5" stroke="#7c7c7c" stroke-width="2.1" stroke-dasharray="2.1 3.75" fill="none"/>
<path d="M453.15 796.7V1376.5M666.4 796.7V1376.5M879.65 796.7V1376.5" stroke="#808080" stroke-width="4.1" stroke-dasharray="4.1 6.9" stroke-dashoffset="-2" fill="none"/>
<path d="M293.21 796.7v5.6M293.21 1376.5v-5.6M346.53 796.7v5.6M346.53 1376.5v-5.6M399.84 796.7v5.6M399.84 1376.5v-5.6M453.15 796.7v10.6M453.15 1376.5v-10.6M506.46 796.7v5.6M506.46 1376.5v-5.6M559.78 796.7v5.6M559.78 1376.5v-5.6M613.09 796.7v5.6M613.09 1376.5v-5.6M666.4 796.7v10.6M666.4 1376.5v-10.6M719.71 796.7v5.6M719.71 1376.5v-5.6M773.03 796.7v5.6M773.03 1376.5v-5.6M826.34 796.7v5.6M826.34 1376.5v-5.6M879.65 796.7v10.6M879.65 1376.5v-10.6M932.96 796.7v5.6M932.96 1376.5v-5.6M986.28 796.7v5.6M986.28 1376.5v-5.6M1039.59 796.7v5.6M1039.59 1376.5v-5.6" stroke="#000" stroke-width="1.9" fill="none"/>
<path d="M239.9 1238.75h10.6M1092.9 1238.75h-10.6M239.9 1100.7h10.6M1092.9 1100.7h-10.6M239.9 962.65h10.6M1092.9 962.65h-10.6M239.9 824.6h10.6M1092.9 824.6h-10.6M239.9 1349.19h5.6M1092.9 1349.19h-5.6M239.9 1321.58h5.6M1092.9 1321.58h-5.6M239.9 1293.97h5.6M1092.9 1293.97h-5.6M239.9 1266.36h5.6M1092.9 1266.36h-5.6M239.9 1211.14h5.6M1092.9 1211.14h-5.6M239.9 1183.53h5.6M1092.9 1183.53h-5.6M239.9 1155.92h5.6M1092.9 1155.92h-5.6M239.9 1128.31h5.6M1092.9 1128.31h-5.6M239.9 1073.09h5.6M1092.9 1073.09h-5.6M239.9 1045.48h5.6M1092.9 1045.48h-5.6M239.9 1017.87h5.6M1092.9 1017.87h-5.6M239.9 990.26h5.6M1092.9 990.26h-5.6M239.9 935.04h5.6M1092.9 935.04h-5.6M239.9 907.43h5.6M1092.9 907.43h-5.6M239.9 879.82h5.6M1092.9 879.82h-5.6M239.9 852.21h5.6M1092.9 852.21h-5.6" stroke="#000" stroke-width="1.9" fill="none"/>
<path d="M239.9 1373.74h10.6M1092.9 1373.74h-10.6" stroke="#000" stroke-width="2.4"/>
<rect x="239.9" y="796.7" width="853" height="579.8" fill="none" stroke="#000" stroke-width="2.1"/>
<rect x="1204.1" y="810.4" width="27.8" height="553.2" fill="url(#cv)" stroke="#000" stroke-width="2.3"/>
<path d="M1231.9 879.55h-10M1231.9 948.7h-10M1231.9 1017.85h-10M1231.9 1087h-10M1231.9 1156.15h-10M1231.9 1225.3h-10M1231.9 1294.45h-10" stroke="#000" stroke-width="1.9"/>
<rect x="1544" y="191.9" width="784" height="245.6" fill="#c6c9c8"/>
<rect x="1544" y="462.6" width="784" height="244.9" fill="#c6c9c8"/>
<path d="M1593 191.9V437.5M1642 191.9V437.5M1691 191.9V437.5M1789 191.9V437.5M1838 191.9V437.5M1887 191.9V437.5M1985 191.9V437.5M2034 191.9V437.5M2083 191.9V437.5M2181 191.9V437.5M2230 191.9V437.5M2279 191.9V437.5" stroke="#7c7c7c" stroke-width="2.1" stroke-dasharray="2.1 3.75" fill="none"/>
<path d="M1740 191.9V437.5M1936 191.9V437.5M2132 191.9V437.5" stroke="#808080" stroke-width="4.1" stroke-dasharray="4.1 6.9" stroke-dashoffset="-2" fill="none"/>
<path d="M1593 462.6V707.5M1642 462.6V707.5M1691 462.6V707.5M1789 462.6V707.5M1838 462.6V707.5M1887 462.6V707.5M1985 462.6V707.5M2034 462.6V707.5M2083 462.6V707.5M2181 462.6V707.5M2230 462.6V707.5M2279 462.6V707.5" stroke="#7c7c7c" stroke-width="2.1" stroke-dasharray="2.1 3.75" fill="none"/>
<path d="M1740 462.6V707.5M1936 462.6V707.5M2132 462.6V707.5" stroke="#808080" stroke-width="4.1" stroke-dasharray="4.1 6.9" stroke-dashoffset="-2" fill="none"/>
<path d="M1543.94 705.88L1595.37 705.88L1601.99 666.49L1608.79 658.65L1615.93 672.24L1627.26 667.88L1638.94 667.88L1650.27 665.79L1661.95 670.5L1673.45 675.38L1685.13 664.05L1696.81 666.14L1708.32 662.13L1719.99 662.13L1731.67 667.88L1743 657.43L1754.51 665.79L1766.19 658.82L1777.86 656.21L1789.37 658.3L1801.05 657.43L1812.73 673.11L1824.23 667.88L1835.91 668.41L1847.59 673.11L1859.09 674.51L1870.77 673.11L1882.45 671.72L1893.95 672.59L1905.63 674.51L1917.31 675.38L1928.81 676.08L1940.46 676.08L1952.14 675.2L1963.99 674.51L1975.67 675.03L1987.17 672.24L1998.85 673.11L2010.18 669.98L2021.86 665.79L2033.71 666.66L2045.04 669.1L2056.72 666.66L2068.23 656.21L2079.9 663.53L2091.58 667.88L2103.09 667.01L2114.77 663.87L2126.44 665.27L2138.3 701L2149.63 704.14L2161.31 697.86L2172.81 684.44L2184.49 671.89L2195.82 674.86L2207.5 677.65L2219 672.76L2230.68 686.53L2242.36 687.23L2253.86 687.93L2265.54 686.53L2277.39 680.09L2289.07 674.86L2300.4 668.76L2312.08 660.56L2323.59 643.83" fill="none" stroke="#000" stroke-width="1.5" stroke-linejoin="round"/>
<path d="M1543.94 705.88L1595.37 705.88L1601.99 620.47L1608.79 612.11L1615.93 635.99L1627.26 629.54L1638.94 630.41L1650.27 624.83L1661.95 634.42L1673.45 639.99L1685.13 628.14L1696.81 622.22L1708.32 617.33L1719.99 615.94L1731.67 624.31L1743 613.85L1754.51 625.53L1766.19 612.45L1777.86 604.26L1789.37 605.13L1801.05 606.53L1812.73 643.13L1824.23 627.79L1835.91 634.42L1847.59 637.9L1859.09 640.52L1870.77 642.09L1882.45 637.38L1893.95 643.13L1905.63 642.26L1917.31 644L1928.81 645.75L1940.46 645.22L1952.14 646.62L1963.99 642.61L1975.67 650.1L1987.17 641.21L1998.85 639.47L2010.18 639.65L2021.86 632.15L2033.71 630.41L2045.04 633.89L2056.72 626.57L2068.23 609.14L2079.9 628.32L2091.58 630.06L2103.09 629.01L2114.77 628.66L2126.44 631.28L2138.3 695.42L2149.63 702.75L2161.31 688.45L2172.81 657.43L2184.49 635.11L2195.82 644L2207.5 649.06L2219 640.34L2230.68 664.4L2242.36 667.01L2253.86 670.15L2265.54 663L2277.39 653.59L2289.07 637.03L2300.4 628.32L2312.08 608.62L2323.59 567.31" fill="none" stroke="#0000ff" stroke-width="2.0" stroke-linejoin="round"/>
<path d="M1543.5 314.9L2120 314.9L2138.3 314.86L2149.63 315.38L2161.31 316.26L2172.81 316.95L2195.82 317.13L2207.5 316.6L2230.68 316.26L2265.54 315.73L2289.07 316.26L2312.08 316.95L2323.59 318.35" fill="none" stroke="#000" stroke-width="1.5" stroke-linejoin="round"/>
<path d="M1543.5 313.4L1556 313L1568 313.3L1580 313L1592 313.9L1603 313.2L1616 314.2L1700 314.2L1760 313.9L1790 314.6L1850 314.5L1900 314.7L1960 314.4L2000 314.6L2030 314.3L2068 313.6L2090 314.4L2120 314.3L2138.3 314.51L2149.63 316.6L2161.31 321.83L2172.81 324.8L2184.49 323.23L2195.82 325.67L2207.5 321.83L2219 323.58L2230.68 320.79L2242.36 320.44L2253.86 320.44L2265.54 318.87L2277.39 321.83L2289.07 322.36L2300.4 323.05L2312.08 324.97L2323.59 331.94" fill="none" stroke="#0000ff" stroke-width="2.0" stroke-linejoin="round"/>
<path d="M1593 191.9v5.6M1593 437.5v-5.6M1642 191.9v5.6M1642 437.5v-5.6M1691 191.9v5.6M1691 437.5v-5.6M1740 191.9v10.6M1740 437.5v-10.6M1789 191.9v5.6M1789 437.5v-5.6M1838 191.9v5.6M1838 437.5v-5.6M1887 191.9v5.6M1887 437.5v-5.6M1936 191.9v10.6M1936 437.5v-10.6M1985 191.9v5.6M1985 437.5v-5.6M2034 191.9v5.6M2034 437.5v-5.6M2083 191.9v5.6M2083 437.5v-5.6M2132 191.9v10.6M2132 437.5v-10.6M2181 191.9v5.6M2181 437.5v-5.6M2230 191.9v5.6M2230 437.5v-5.6M2279 191.9v5.6M2279 437.5v-5.6" stroke="#000" stroke-width="1.9" fill="none"/>
<path d="M1593 462.6v5.6M1593 707.5v-5.6M1642 462.6v5.6M1642 707.5v-5.6M1691 462.6v5.6M1691 707.5v-5.6M1740 462.6v10.6M1740 707.5v-10.6M1789 462.6v5.6M1789 707.5v-5.6M1838 462.6v5.6M1838 707.5v-5.6M1887 462.6v5.6M1887 707.5v-5.6M1936 462.6v10.6M1936 707.5v-10.6M1985 462.6v5.6M1985 707.5v-5.6M2034 462.6v5.6M2034 707.5v-5.6M2083 462.6v5.6M2083 707.5v-5.6M2132 462.6v10.6M2132 707.5v-10.6M2181 462.6v5.6M2181 707.5v-5.6M2230 462.6v5.6M2230 707.5v-5.6M2279 462.6v5.6M2279 707.5v-5.6" stroke="#000" stroke-width="1.9" fill="none"/>
<path d="M1544 427.5h10.6M2328 427.5h-10.6M1544 371.38h10.6M2328 371.38h-10.6M1544 315.25h10.6M2328 315.25h-10.6M1544 259.12h10.6M2328 259.12h-10.6M1544 203h10.6M2328 203h-10.6M1544 416.27h5.6M2328 416.27h-5.6M1544 405.05h5.6M2328 405.05h-5.6M1544 393.82h5.6M2328 393.82h-5.6M1544 382.6h5.6M2328 382.6h-5.6M1544 360.15h5.6M2328 360.15h-5.6M1544 348.93h5.6M2328 348.93h-5.6M1544 337.7h5.6M2328 337.7h-5.6M1544 326.48h5.6M2328 326.48h-5.6M1544 304.02h5.6M2328 304.02h-5.6M1544 292.8h5.6M2328 292.8h-5.6M1544 281.57h5.6M2328 281.57h-5.6M1544 270.35h5.6M2328 270.35h-5.6M1544 247.9h5.6M2328 247.9h-5.6M1544 236.68h5.6M2328 236.68h-5.6M1544 225.45h5.6M2328 225.45h-5.6M1544 214.23h5.6M2328 214.23h-5.6" stroke="#000" stroke-width="1.9" fill="none"/>
<path d="M1544 645.3h10.6M2328 645.3h-10.6M1544 584.3h10.6M2328 584.3h-10.6M1544 523.3h10.6M2328 523.3h-10.6M1544 694.1h5.6M2328 694.1h-5.6M1544 681.9h5.6M2328 681.9h-5.6M1544 669.7h5.6M2328 669.7h-5.6M1544 657.5h5.6M2328 657.5h-5.6M1544 633.1h5.6M2328 633.1h-5.6M1544 620.9h5.6M2328 620.9h-5.6M1544 608.7h5.6M2328 608.7h-5.6M1544 596.5h5.6M2328 596.5h-5.6M1544 572.1h5.6M2328 572.1h-5.6M1544 559.9h5.6M2328 559.9h-5.6M1544 547.7h5.6M2328 547.7h-5.6M1544 535.5h5.6M2328 535.5h-5.6M1544 511.1h5.6M2328 511.1h-5.6M1544 498.9h5.6M2328 498.9h-5.6M1544 486.7h5.6M2328 486.7h-5.6M1544 474.5h5.6M2328 474.5h-5.6" stroke="#000" stroke-width="1.9" fill="none"/>
<path d="M1544 706.3h10.6M2328 706.3h-10.6" stroke="#000" stroke-width="2.4"/>
<rect x="1544" y="191.9" width="784" height="245.6" fill="none" stroke="#000" stroke-width="2.1"/>
<rect x="1544" y="462.6" width="784" height="244.9" fill="none" stroke="#000" stroke-width="2.1"/>
<rect x="1607" y="154.2" width="56" height="18.6" fill="#c6c9c8"/>
<rect x="1927.5" y="154.6" width="56.3" height="18.6" fill="#fff" stroke="#808080" stroke-width="1.2"/><path d="M1927.8 173L1945.4 154.8M1959.6 173L1977.9 154.8" stroke="#808080" stroke-width="2.3" fill="none"/>
<g clip-path="url(#mapclip)">
<rect x="1430" y="790" width="955" height="480" fill="#7ab0d6"/>
<g filter="url(#bl2)" opacity="0.55">
<ellipse cx="1520" cy="965" rx="100" ry="57" fill="#6a9fcc"/>
<ellipse cx="1550" cy="1109" rx="112" ry="57" fill="#6a9fcc"/>
<ellipse cx="1779" cy="957" rx="45" ry="26" fill="#6a9fcc"/>
<ellipse cx="1830" cy="1103" rx="35" ry="36" fill="#6a9fcc"/>
<ellipse cx="2098" cy="1103" rx="55" ry="36" fill="#6a9fcc"/>
<ellipse cx="2294" cy="973" rx="55" ry="42" fill="#6a9fcc"/>
<ellipse cx="2339" cy="1043" rx="50" ry="26" fill="#6a9fcc"/>
<ellipse cx="1654" cy="1161" rx="125" ry="21" fill="#6a9fcc"/>
<ellipse cx="1906" cy="1166" rx="150" ry="18" fill="#6a9fcc"/>
<ellipse cx="2147" cy="1161" rx="125" ry="18" fill="#6a9fcc"/>
</g>
<path d="M1534.8 859.0L1545.7 851.6L1556.6 848.5L1575.7 843.8L1583.8 845.1L1596.8 846.9L1604.1 848.2L1616.3 849.0L1626.5 847.2L1633.8 846.1L1638.4 848.2L1648.7 848.8L1657.9 850.8L1659.6 852.9L1670.8 852.4L1677.7 850.3L1684.6 852.9L1693.3 852.9L1698.4 851.6L1703.2 845.9L1708.5 842.2L1710.1 845.1L1709.8 849.0L1712.1 850.6L1716.7 850.1L1715.8 854.2L1722.7 849.0L1730.6 848.2L1730.6 851.1L1727.4 854.2L1721.7 856.9L1717.2 857.1L1713.3 860.3L1707.6 862.9L1699.3 863.7L1702.4 865.5L1696.0 868.1L1690.4 872.5L1688.3 875.9L1691.3 878.0L1691.1 881.2L1699.0 882.0L1702.7 884.3L1708.0 885.9L1713.1 886.1L1711.4 891.6L1713.3 894.5L1715.6 896.3L1718.7 894.2L1719.9 889.0L1719.4 886.9L1727.2 882.5L1728.7 879.1L1725.6 876.2L1729.2 872.8L1730.2 867.3L1735.9 867.3L1740.2 867.8L1743.8 870.2L1747.8 870.7L1746.4 875.9L1750.4 877.8L1754.3 876.5L1758.5 872.5L1760.2 875.9L1762.5 879.9L1763.6 884.3L1766.6 886.4L1771.3 888.2L1773.8 890.9L1773.8 894.0L1770.3 895.6L1766.0 896.6L1761.2 899.0L1752.8 898.7L1746.8 899.0L1741.2 902.1L1735.2 906.8L1733.7 907.8L1739.3 904.7L1744.8 902.1L1750.9 901.8L1751.0 903.4L1747.8 904.7L1748.9 907.3L1749.2 909.4L1751.6 909.4L1755.6 910.2L1760.1 907.3L1760.6 909.9L1757.3 911.8L1750.8 913.6L1744.6 916.2L1744.0 914.4L1748.0 911.8L1742.4 912.6L1737.7 914.1L1733.8 916.2L1731.6 919.3L1733.3 920.7L1731.4 921.7L1726.7 922.5L1722.7 924.1L1722.0 926.4L1719.2 928.8L1716.2 932.9L1715.7 934.0L1716.3 937.9L1712.9 939.7L1709.3 941.6L1705.9 943.4L1701.3 946.5L1699.2 950.2L1699.5 954.4L1701.0 959.9L1699.7 964.3L1697.4 963.8L1695.6 960.4L1694.5 957.0L1695.3 953.9L1692.3 951.8L1688.9 952.6L1686.1 950.7L1682.2 951.0L1678.4 951.2L1678.4 954.1L1675.4 953.9L1671.7 952.8L1667.2 952.6L1663.3 954.4L1658.8 956.5L1656.7 959.6L1656.7 962.5L1654.7 967.5L1653.8 971.9L1654.5 975.8L1656.7 979.7L1658.5 981.6L1661.5 982.6L1666.3 981.6L1669.8 980.8L1671.6 977.9L1672.7 975.3L1677.6 974.0L1681.4 974.0L1681.7 976.1L1679.5 979.2L1678.4 982.6L1676.9 985.0L1675.0 988.6L1678.1 988.6L1682.5 988.6L1686.9 988.9L1689.4 991.0L1688.6 994.9L1687.7 1000.1L1688.8 1003.3L1691.0 1005.9L1693.9 1007.2L1697.1 1005.9L1699.7 1005.4L1702.8 1007.2L1704.0 1008.0L1704.0 1009.5L1701.7 1008.5L1699.6 1006.7L1698.1 1006.9L1696.2 1008.8L1696.3 1010.9L1694.2 1011.1L1692.2 1009.0L1689.3 1008.8L1687.3 1007.7L1684.5 1004.8L1682.0 1003.8L1682.1 1001.2L1679.7 998.3L1677.8 996.2L1674.7 995.7L1670.3 994.1L1666.1 992.3L1662.9 989.4L1660.2 987.8L1655.9 989.2L1651.8 988.6L1646.8 986.3L1641.9 983.7L1637.7 982.4L1634.1 979.2L1633.2 976.9L1634.1 974.0L1632.8 970.6L1629.6 966.7L1626.3 963.3L1625.3 960.1L1622.8 957.3L1619.8 954.4L1618.8 949.7L1615.1 947.3L1614.2 949.7L1616.2 953.6L1617.8 957.8L1619.9 961.4L1621.3 965.4L1623.0 967.2L1623.9 969.5L1622.1 969.8L1619.2 966.7L1617.8 964.8L1618.1 961.7L1614.6 959.9L1613.0 957.5L1614.8 955.4L1611.6 952.3L1610.1 947.8L1609.3 945.0L1607.2 941.3L1602.3 940.0L1602.1 937.9L1600.3 934.5L1599.7 931.6L1599.0 930.1L1598.0 926.9L1597.6 924.6L1599.4 920.9L1599.8 917.8L1602.5 913.3L1604.2 909.2L1604.5 905.0L1604.8 903.7L1608.8 903.9L1610.1 902.1L1607.2 899.5L1602.3 897.1L1601.6 893.7L1599.9 890.3L1599.5 887.5L1598.5 884.3L1597.2 880.7L1593.3 877.5L1589.4 876.5L1585.7 874.1L1581.2 873.3L1575.7 873.1L1573.6 871.2L1567.9 871.8L1563.2 873.9L1557.8 875.2L1561.3 871.8L1565.3 870.2L1560.4 871.2L1554.1 874.4L1550.3 877.0L1542.7 880.4L1536.2 883.0L1530.0 885.1L1524.2 886.7L1518.1 887.7L1524.1 885.1L1530.5 883.8L1536.8 881.2L1541.5 878.6L1544.0 876.5L1539.9 877.0L1536.4 876.5L1532.5 877.0L1534.8 874.6L1531.5 873.9L1529.8 871.8L1530.7 869.4L1530.7 868.1L1536.2 865.2L1540.0 865.2L1545.7 863.9L1547.8 861.6L1543.6 861.3L1536.3 861.3L1534.8 859.0ZM1740.2 837.5L1746.2 839.6L1750.8 842.5L1756.0 844.6L1760.3 846.7L1762.1 849.8L1762.0 852.4L1766.7 854.2L1770.5 855.8L1768.2 859.0L1763.3 860.3L1759.6 864.2L1760.5 866.8L1757.1 868.1L1752.8 867.3L1749.7 866.5L1745.6 865.5L1743.3 862.9L1740.6 861.3L1733.1 861.8L1733.7 859.5L1740.6 859.0L1744.6 856.3L1747.7 853.7L1747.5 851.1L1743.0 849.3L1739.6 847.5L1735.5 847.2L1731.1 847.5L1724.8 847.2L1720.1 846.1L1717.9 844.6L1718.4 841.2L1721.2 838.0L1727.0 837.3L1730.2 838.6L1735.0 837.5L1740.2 837.5ZM1658.4 843.5L1659.0 840.4L1667.7 838.8L1675.2 839.9L1681.2 838.8L1687.0 839.3L1685.0 843.3L1688.0 846.4L1688.8 848.2L1684.3 850.1L1678.4 849.3L1671.0 850.6L1662.2 850.8L1658.2 849.0L1656.4 847.2L1662.0 845.6L1658.4 843.5ZM1643.0 842.0L1650.5 837.8L1659.4 835.7L1664.6 837.8L1663.7 839.9L1654.6 843.0L1646.1 844.3L1643.0 842.0ZM1725.9 830.5L1735.8 830.7L1745.6 831.0L1751.1 828.9L1758.5 825.5L1761.5 822.9L1770.6 821.0L1780.2 818.4L1792.0 815.3L1786.2 813.5L1775.7 812.9L1760.9 813.2L1746.1 815.0L1737.0 816.6L1736.1 819.2L1742.7 820.3L1744.1 822.9L1736.0 825.5L1730.9 828.1L1725.9 830.5ZM1725.9 819.0L1735.6 817.9L1739.1 820.0L1738.1 823.1L1730.1 825.5L1725.0 823.7L1722.2 821.6L1725.9 819.0ZM1722.1 830.2L1732.8 832.0L1743.7 832.3L1743.7 834.6L1734.4 835.4L1724.3 835.2L1719.4 833.6L1722.1 830.2ZM1671.2 831.0L1679.8 830.5L1688.3 829.9L1693.9 831.5L1695.5 833.1L1690.2 834.4L1681.8 834.6L1673.7 835.7L1669.6 833.6L1671.2 831.0ZM1702.1 830.2L1710.6 829.7L1715.0 831.5L1715.6 833.3L1709.6 834.4L1702.7 834.1L1700.2 832.3L1702.1 830.2ZM1694.9 838.6L1702.4 837.0L1705.3 838.6L1711.0 836.5L1719.1 836.7L1718.7 839.3L1712.2 842.0L1706.6 842.5L1701.9 843.3L1697.3 843.8L1693.3 842.0L1694.9 838.6ZM1713.7 859.5L1718.0 857.6L1720.5 859.2L1724.7 862.1L1726.8 863.4L1722.7 863.9L1718.5 865.8L1714.9 863.9L1712.3 862.4L1713.7 859.5ZM1693.5 847.7L1698.5 846.7L1700.4 848.5L1700.3 850.3L1694.8 850.6L1692.4 849.3L1693.5 847.7ZM1762.6 905.8L1767.0 905.8L1770.8 907.6L1775.1 907.8L1777.4 908.4L1778.6 906.0L1776.8 903.9L1778.3 901.3L1774.5 900.8L1773.0 899.0L1773.6 895.8L1770.0 897.1L1767.3 900.5L1764.3 903.4L1762.6 905.8ZM1599.1 897.4L1604.2 898.2L1606.6 900.8L1608.0 903.7L1604.5 902.9L1601.3 900.3L1599.1 897.4ZM1592.4 888.8L1595.4 889.0L1594.3 893.2L1592.5 891.6L1592.4 888.8ZM1547.7 879.6L1553.9 877.8L1552.9 880.1L1548.1 881.7L1547.7 879.6ZM1751.4 899.7L1756.0 900.5L1757.4 901.8L1753.4 901.3L1751.4 899.7ZM1750.0 907.8L1754.2 908.6L1755.3 909.4L1751.6 909.7L1750.0 907.8ZM1686.7 973.2L1689.6 970.6L1693.6 969.5L1698.7 969.8L1702.4 971.4L1706.1 973.2L1709.8 974.8L1714.2 977.4L1710.8 978.2L1705.0 978.4L1706.3 976.3L1703.3 975.3L1700.9 973.5L1695.8 972.4L1692.5 971.9L1689.9 972.7L1686.7 973.2ZM1713.0 982.1L1716.5 978.2L1720.6 978.4L1725.0 978.7L1728.9 981.6L1726.0 982.4L1723.4 982.4L1720.6 983.9L1718.2 982.6L1713.0 982.1ZM1702.8 982.4L1706.5 981.8L1708.5 983.1L1705.1 983.7L1702.8 982.4ZM1732.0 982.1L1735.9 982.1L1735.5 983.1L1731.9 983.1L1732.0 982.1ZM1852.8 858.7L1856.6 856.6L1858.9 859.0L1862.4 857.6L1866.9 857.1L1871.3 856.3L1874.3 857.6L1876.3 860.3L1873.5 862.1L1868.4 863.7L1864.3 864.4L1860.5 864.2L1855.9 863.1L1857.5 861.8L1853.1 860.8L1857.1 859.7L1852.8 858.7ZM1704.0 1008.0L1705.4 1006.9L1707.5 1005.6L1709.0 1002.5L1710.9 1001.2L1715.1 1000.7L1717.8 999.1L1719.7 997.8L1720.4 999.3L1718.8 1000.7L1720.0 1001.7L1723.5 1000.1L1724.1 998.6L1727.4 1001.4L1728.6 1002.7L1733.9 1002.5L1737.7 1003.5L1741.7 1002.2L1744.3 1002.5L1746.8 1005.1L1748.0 1008.2L1751.9 1010.3L1754.5 1012.7L1757.0 1014.8L1761.0 1014.8L1764.9 1015.0L1768.8 1017.1L1771.4 1019.0L1773.2 1023.7L1775.3 1025.8L1775.3 1029.4L1777.9 1031.0L1780.5 1032.0L1784.4 1033.3L1788.9 1035.2L1790.2 1037.3L1795.0 1037.5L1798.9 1037.8L1802.8 1038.6L1806.8 1041.2L1809.4 1043.0L1813.4 1043.8L1814.7 1047.2L1815.3 1050.6L1814.3 1054.3L1811.5 1057.7L1809.0 1060.8L1806.5 1063.9L1804.7 1066.8L1804.9 1070.7L1804.6 1076.7L1803.3 1081.2L1800.9 1085.9L1798.5 1089.0L1795.5 1090.3L1791.4 1090.9L1786.9 1092.9L1783.5 1095.6L1781.6 1098.2L1782.0 1102.1L1780.5 1106.0L1778.4 1109.9L1774.9 1113.6L1773.2 1116.5L1771.1 1119.6L1768.0 1121.4L1763.9 1120.9L1759.4 1119.1L1759.1 1120.4L1762.4 1123.0L1763.3 1125.4L1762.1 1129.5L1757.9 1131.4L1753.0 1132.2L1751.0 1131.9L1751.7 1136.1L1748.3 1137.7L1744.9 1137.1L1745.8 1140.3L1749.2 1141.3L1746.7 1142.6L1746.0 1145.0L1745.8 1147.9L1742.1 1149.9L1742.1 1151.8L1746.1 1153.6L1746.8 1155.4L1744.1 1158.3L1743.0 1160.9L1740.9 1163.0L1743.4 1166.9L1741.0 1166.9L1744.3 1168.5L1744.3 1170.1L1747.0 1171.4L1752.7 1173.2L1750.2 1174.3L1745.7 1175.0L1742.1 1174.5L1737.7 1171.9L1734.1 1170.1L1730.0 1167.5L1727.0 1163.5L1724.3 1158.3L1723.2 1154.4L1725.2 1152.6L1725.5 1148.6L1725.8 1144.7L1724.0 1140.0L1723.1 1134.8L1723.6 1132.2L1721.9 1127.5L1723.1 1125.6L1723.7 1123.0L1724.7 1118.6L1724.9 1113.9L1723.9 1108.6L1724.2 1104.7L1724.9 1100.8L1725.1 1095.6L1725.0 1090.3L1725.0 1085.1L1724.4 1081.2L1723.6 1078.0L1720.8 1075.7L1717.0 1073.6L1712.4 1071.2L1708.8 1068.4L1707.4 1066.5L1705.6 1062.9L1703.6 1059.5L1701.6 1056.3L1700.1 1053.2L1697.6 1049.3L1694.7 1046.4L1693.5 1044.1L1693.2 1041.7L1695.5 1039.6L1696.8 1037.0L1694.2 1036.0L1694.7 1032.8L1696.2 1030.2L1696.5 1027.8L1699.4 1026.5L1700.2 1023.7L1703.1 1020.8L1703.7 1018.4L1703.3 1015.6L1703.6 1012.4L1702.3 1011.4L1704.0 1008.0ZM1760.2 1164.6L1766.6 1164.3L1768.5 1165.4L1764.9 1166.9L1760.6 1166.2L1760.2 1164.6ZM1744.6 1002.2L1747.2 1002.0L1746.9 1003.8L1744.5 1003.8L1744.6 1002.2ZM1891.7 936.6L1896.4 938.2L1901.5 938.4L1906.5 936.6L1910.3 934.8L1915.3 934.0L1920.3 934.0L1925.3 933.5L1931.1 932.7L1934.1 933.5L1932.9 935.3L1933.4 937.4L1934.3 940.0L1932.0 941.3L1933.8 942.4L1936.9 944.4L1940.7 944.2L1945.3 945.8L1947.2 948.4L1951.8 949.7L1955.4 951.0L1957.6 949.2L1957.3 945.8L1961.0 944.2L1964.8 945.0L1970.0 947.3L1975.2 948.6L1980.3 949.4L1984.0 948.1L1987.3 947.8L1988.7 948.6L1991.7 948.9L1993.7 948.4L1995.6 953.1L1994.6 957.0L1992.8 956.7L1991.3 954.6L1989.6 952.0L1989.2 952.8L1991.2 955.9L1993.1 958.8L1995.1 962.2L1998.0 967.5L1998.9 970.1L2001.9 972.7L2002.8 975.3L2003.0 980.5L2006.5 983.1L2008.0 987.1L2010.0 990.2L2013.9 992.3L2016.9 995.4L2019.3 997.3L2019.7 999.9L2022.4 1002.7L2026.8 1002.0L2032.0 1001.2L2037.2 1000.1L2040.3 999.3L2040.2 1002.7L2038.7 1006.1L2035.5 1011.9L2032.4 1017.1L2028.5 1021.6L2024.6 1024.7L2020.7 1028.6L2016.7 1032.8L2014.1 1035.4L2012.0 1038.0L2010.4 1042.0L2008.2 1045.9L2009.5 1048.5L2010.0 1052.4L2010.7 1056.3L2012.4 1058.4L2012.0 1062.9L2012.4 1068.1L2011.2 1072.0L2006.6 1075.2L2002.6 1077.3L2000.5 1079.6L1997.2 1082.2L1996.4 1084.3L1998.0 1087.7L1997.8 1092.4L1997.1 1094.5L1991.4 1096.9L1990.9 1099.5L1990.2 1103.4L1987.7 1106.0L1985.6 1108.4L1982.8 1112.0L1978.8 1115.4L1974.8 1118.0L1971.5 1119.1L1968.4 1119.4L1963.4 1119.4L1957.0 1121.2L1954.0 1120.1L1953.0 1119.4L1952.9 1116.0L1952.5 1113.3L1950.6 1109.4L1949.2 1105.5L1946.2 1101.3L1945.1 1096.9L1943.9 1091.6L1943.7 1088.5L1941.5 1084.6L1938.4 1079.4L1937.2 1074.6L1937.2 1071.5L1938.9 1066.8L1941.8 1062.4L1942.6 1058.4L1941.3 1054.5L1940.0 1049.8L1938.8 1045.9L1938.2 1043.3L1935.4 1040.1L1932.2 1036.7L1930.1 1033.3L1930.9 1030.2L1932.0 1027.6L1931.7 1024.2L1932.2 1021.6L1931.7 1019.7L1929.6 1018.4L1927.5 1018.4L1924.9 1018.7L1922.2 1019.0L1920.4 1016.1L1918.3 1013.7L1914.4 1013.5L1910.4 1014.3L1906.5 1015.3L1902.0 1017.4L1898.6 1016.9L1894.7 1016.6L1890.8 1017.4L1886.8 1018.7L1884.7 1017.9L1882.4 1015.8L1878.5 1012.9L1876.4 1011.9L1873.0 1009.3L1871.7 1006.7L1870.4 1004.8L1867.8 1002.0L1866.0 1000.7L1862.9 998.0L1862.6 994.9L1860.9 991.8L1863.3 988.4L1863.9 984.4L1864.5 980.5L1863.7 978.7L1862.5 975.3L1864.4 971.4L1865.2 968.2L1867.9 965.4L1869.2 962.2L1871.9 959.6L1873.2 957.5L1877.1 955.7L1880.2 953.6L1881.8 951.2L1881.6 947.8L1883.2 945.0L1885.5 942.6L1889.1 941.0L1890.9 938.7L1891.7 936.6ZM2035.3 1061.6L2036.7 1065.5L2037.8 1070.7L2035.8 1074.1L2035.1 1077.3L2033.0 1082.5L2030.6 1087.7L2028.9 1092.9L2027.4 1095.8L2023.5 1096.9L2020.5 1095.6L2019.0 1091.6L2018.4 1087.7L2020.2 1083.8L2021.7 1081.2L2020.8 1077.3L2021.5 1073.3L2025.0 1072.0L2027.7 1070.7L2030.9 1068.1L2032.6 1065.5L2034.2 1062.9L2035.3 1061.6ZM1892.4 936.1L1890.4 934.0L1887.9 932.9L1884.2 933.5L1884.8 929.8L1882.8 928.8L1884.4 925.1L1884.9 921.7L1884.5 919.1L1883.8 917.3L1886.8 915.9L1891.7 916.2L1896.7 916.7L1902.1 916.7L1903.3 913.9L1903.6 910.5L1902.1 908.6L1901.2 906.8L1898.0 905.5L1895.6 904.7L1895.1 903.4L1899.3 902.6L1902.6 902.9L1902.4 900.5L1905.3 901.3L1907.0 900.5L1910.1 899.0L1910.6 897.1L1914.1 895.8L1916.5 893.7L1917.9 891.6L1920.7 890.6L1923.5 890.1L1926.1 889.8L1927.3 888.8L1926.5 886.4L1925.5 884.8L1925.6 881.2L1928.6 880.7L1930.9 879.3L1930.8 882.5L1931.5 883.3L1930.0 885.1L1929.3 886.4L1930.1 887.7L1932.5 889.0L1935.3 888.2L1938.3 888.0L1940.1 889.3L1943.1 888.5L1945.4 887.7L1948.9 886.9L1950.8 888.0L1953.2 887.7L1954.7 886.4L1955.9 884.6L1955.4 881.2L1957.1 879.6L1959.2 879.6L1960.7 881.2L1962.8 880.7L1963.0 878.0L1961.0 876.7L1960.6 875.4L1965.0 874.4L1969.7 874.6L1971.9 873.9L1975.3 873.6L1972.9 872.8L1971.1 871.8L1967.1 872.3L1963.7 872.8L1959.2 873.6L1957.5 872.3L1955.1 871.2L1954.9 868.1L1954.4 865.0L1956.9 863.4L1960.0 861.6L1962.6 859.7L1961.8 858.7L1958.4 858.2L1955.8 858.4L1954.2 860.3L1954.0 861.8L1951.3 863.9L1948.2 866.0L1946.1 868.1L1945.7 870.7L1946.0 871.8L1949.1 873.3L1948.0 875.9L1945.7 876.7L1945.0 879.1L1944.9 881.2L1943.9 883.3L1941.1 883.5L1940.0 885.1L1937.0 885.4L1936.7 883.8L1935.2 882.0L1933.9 879.6L1932.6 877.3L1931.1 875.4L1930.4 874.6L1928.4 876.2L1925.5 878.0L1922.7 878.6L1919.9 877.0L1918.7 874.6L1917.9 872.0L1917.9 869.4L1918.3 867.6L1921.1 866.0L1924.5 864.4L1927.8 863.7L1929.9 861.8L1932.0 860.3L1934.1 857.6L1936.0 855.0L1938.7 852.7L1941.1 851.1L1943.8 849.5L1947.2 847.7L1951.4 847.2L1955.5 845.9L1958.4 844.6L1961.1 844.3L1964.8 844.6L1967.0 845.1L1970.4 845.9L1972.6 846.4L1970.7 847.7L1974.1 848.2L1977.4 848.8L1981.8 849.3L1986.4 850.3L1992.2 852.2L1995.9 853.7L1996.9 856.1L1994.6 857.1L1991.3 857.4L1985.7 856.9L1981.1 855.8L1978.3 855.0L1981.5 857.6L1983.8 860.3L1984.1 861.8L1988.1 862.9L1990.4 863.1L1991.2 861.8L1988.7 860.3L1993.3 861.3L1996.7 861.3L1994.9 858.7L1997.9 857.1L1999.9 856.3L2003.8 857.1L2003.2 854.2L2001.4 851.6L2005.0 851.1L2007.1 852.4L2008.3 855.0L2010.5 855.3L2011.0 853.2L2015.0 852.2L2019.1 851.4L2022.1 850.6L2024.6 851.6L2029.7 850.8L2033.9 850.3L2036.9 849.8L2036.0 847.7L2040.5 848.2L2045.2 849.0L2048.7 849.8L2051.1 850.3L2054.8 851.4L2055.9 850.3L2051.0 847.7L2048.5 844.6L2048.2 842.0L2050.0 839.3L2054.0 839.1L2057.6 839.9L2060.1 843.3L2061.7 847.2L2064.1 850.3L2067.1 852.9L2065.4 855.6L2068.2 856.9L2069.0 853.7L2069.9 851.1L2066.8 847.2L2062.6 843.3L2064.6 841.2L2068.9 841.4L2073.0 841.2L2076.6 842.0L2073.3 838.3L2076.8 837.3L2083.8 837.0L2084.6 835.2L2085.0 837.3L2087.5 833.6L2092.6 832.3L2098.0 831.5L2103.3 830.7L2107.7 828.9L2112.5 827.1L2116.6 827.8L2122.4 829.7L2129.7 829.9L2135.3 831.5L2138.3 834.6L2135.3 837.0L2132.5 837.3L2138.9 837.5L2142.5 838.0L2150.8 838.0L2154.0 839.3L2162.6 838.6L2167.6 838.3L2170.9 838.6L2178.4 842.0L2179.9 844.6L2184.8 845.4L2186.0 843.3L2190.2 843.3L2196.8 843.5L2197.9 841.4L2200.2 840.7L2207.5 840.7L2213.3 841.2L2221.0 842.5L2225.6 843.8L2229.9 844.8L2237.1 844.6L2243.0 845.1L2249.4 848.0L2253.9 848.2L2259.3 848.2L2265.4 848.0L2270.7 849.8L2274.7 850.1L2272.3 847.5L2279.0 847.7L2286.1 848.2L2294.4 849.8L2305.3 859.5L2303.6 861.0L2301.7 861.3L2306.0 863.4L2311.4 866.5L2306.2 867.1L2302.0 868.6L2299.8 871.2L2297.1 873.3L2290.5 872.3L2286.8 873.3L2283.5 873.6L2282.5 875.7L2284.0 878.6L2282.5 879.6L2286.7 882.5L2287.1 884.3L2287.3 886.9L2285.7 890.9L2285.2 892.9L2284.0 894.5L2281.6 896.9L2278.3 892.9L2273.7 887.7L2270.6 883.8L2269.9 879.9L2272.1 878.0L2274.1 874.6L2275.9 871.2L2276.9 867.6L2274.4 866.8L2271.4 868.6L2271.3 871.2L2264.6 868.6L2261.7 869.2L2260.8 873.9L2258.8 875.7L2252.2 874.6L2247.8 874.9L2241.1 875.2L2235.4 875.2L2233.4 877.3L2231.4 879.6L2228.8 882.7L2227.0 885.6L2224.9 886.9L2229.9 888.5L2232.4 890.1L2236.1 889.0L2239.6 891.1L2243.1 893.5L2242.8 896.9L2245.6 902.1L2245.7 904.7L2243.9 908.6L2241.8 912.0L2239.5 915.2L2236.9 917.8L2234.6 918.3L2230.8 918.0L2229.5 919.6L2227.8 921.2L2228.4 923.3L2225.7 925.6L2224.3 927.2L2227.6 929.5L2231.2 933.5L2232.3 937.1L2230.6 939.0L2227.7 939.5L2225.6 940.0L2224.9 936.9L2224.6 934.0L2224.1 931.9L2220.7 931.4L2218.4 929.5L2218.7 926.9L2215.8 925.6L2212.8 926.4L2210.2 928.2L2209.0 928.5L2209.4 925.1L2206.9 923.5L2204.0 926.1L2200.8 927.7L2200.6 929.5L2204.1 931.9L2206.9 932.9L2208.9 931.4L2213.6 932.7L2212.7 933.7L2210.1 935.0L2208.5 936.6L2207.3 938.7L2209.7 940.8L2212.3 943.9L2214.9 946.0L2216.2 947.3L2214.6 949.9L2217.1 951.8L2217.9 953.1L2217.4 956.5L2215.9 958.8L2214.5 960.9L2213.3 963.8L2210.9 966.1L2209.0 968.5L2206.8 970.3L2203.5 970.9L2201.6 971.9L2198.6 972.7L2195.7 973.7L2193.0 974.8L2192.3 977.1L2191.0 976.9L2190.6 974.0L2187.1 973.5L2184.7 974.5L2182.9 976.6L2181.0 980.0L2182.7 983.1L2184.8 985.8L2188.3 988.4L2190.3 990.5L2191.8 994.9L2191.9 998.8L2191.0 1000.7L2187.7 1002.7L2185.9 1003.0L2185.3 1005.4L2182.7 1006.7L2181.5 1007.5L2180.8 1004.6L2181.0 1003.3L2178.0 1002.7L2175.9 1001.4L2174.4 998.8L2172.1 997.0L2170.3 997.0L2169.9 995.2L2168.1 995.2L2167.7 997.5L2167.4 1000.1L2166.0 1002.7L2166.2 1005.9L2168.4 1008.2L2169.9 1011.1L2172.0 1012.4L2174.7 1014.0L2177.2 1016.6L2177.8 1019.2L2178.1 1022.9L2180.0 1026.3L2178.2 1026.8L2175.5 1025.0L2172.3 1022.9L2170.5 1020.0L2169.8 1017.1L2169.5 1014.0L2167.8 1012.2L2165.9 1009.8L2164.0 1009.3L2164.2 1006.7L2164.7 1002.7L2164.4 998.8L2163.6 994.9L2161.5 991.5L2160.6 987.6L2158.3 986.0L2155.2 988.9L2152.1 988.4L2152.2 984.4L2150.5 981.0L2148.4 977.9L2146.0 975.3L2144.0 971.9L2141.5 971.1L2140.0 972.9L2136.6 973.2L2134.1 973.5L2131.6 974.5L2131.4 976.6L2129.5 978.2L2127.0 979.7L2123.5 983.1L2120.7 986.8L2117.4 988.4L2115.7 989.7L2115.5 993.6L2116.2 996.2L2115.6 999.3L2115.3 1003.3L2114.0 1003.3L2113.3 1005.9L2111.3 1006.9L2109.5 1009.0L2107.6 1007.7L2106.2 1005.1L2104.4 1000.7L2102.4 997.5L2100.9 993.6L2098.8 989.7L2097.2 985.8L2095.8 981.8L2095.3 979.2L2095.0 975.3L2094.2 972.7L2092.8 974.8L2089.9 976.1L2087.7 975.3L2084.8 972.2L2087.3 971.1L2088.0 970.1L2084.7 970.6L2083.2 968.8L2080.5 967.5L2079.0 965.4L2077.0 963.5L2072.4 964.1L2068.6 964.3L2065.0 964.3L2060.8 963.8L2056.9 963.3L2053.7 962.5L2052.7 960.1L2050.9 959.3L2048.4 960.4L2045.9 960.7L2043.2 959.6L2041.0 958.0L2038.4 957.3L2036.3 954.6L2034.5 951.5L2031.3 950.7L2028.9 951.8L2028.8 953.6L2030.5 955.7L2032.8 958.6L2035.4 960.9L2035.6 963.5L2037.3 965.4L2038.1 962.7L2039.1 962.7L2039.4 966.1L2041.8 966.9L2045.7 967.2L2048.8 964.3L2050.8 961.7L2051.9 964.8L2052.3 966.4L2055.5 968.0L2058.2 968.8L2061.0 971.4L2059.2 975.3L2057.5 976.9L2056.2 980.0L2053.3 982.6L2050.3 984.7L2047.0 985.8L2043.2 987.6L2039.4 990.2L2034.3 993.1L2030.5 994.4L2026.1 995.7L2024.0 996.7L2020.6 997.0L2019.3 994.9L2018.1 991.5L2017.7 987.8L2015.7 984.4L2012.9 981.0L2010.2 977.9L2007.9 974.5L2006.7 970.6L2004.4 967.5L2002.5 964.8L2000.8 962.2L1998.0 958.3L1996.1 956.7L1995.6 953.1L1993.7 948.4L1994.8 945.2L1995.6 942.6L1996.6 939.7L1996.9 936.9L1997.4 934.5L1995.2 934.5L1992.5 935.3L1989.5 935.8L1986.9 934.5L1983.4 934.5L1980.7 935.6L1978.0 934.0L1975.3 934.2L1974.9 932.2L1972.8 930.1L1973.6 928.2L1971.8 926.9L1971.7 925.6L1972.8 924.3L1971.1 924.1L1967.3 923.3L1965.7 924.8L1963.7 924.6L1963.0 926.1L1964.4 927.7L1963.7 928.5L1966.5 930.3L1966.6 931.6L1964.6 931.9L1964.8 934.5L1963.0 934.8L1961.2 934.0L1959.6 931.6L1960.3 930.1L1958.9 928.8L1957.1 927.2L1955.2 925.1L1954.6 923.0L1954.8 920.9L1952.7 919.3L1949.6 917.8L1945.9 916.5L1943.8 914.4L1942.0 912.0L1940.1 912.8L1940.0 910.7L1937.8 911.0L1936.6 911.8L1936.9 914.1L1939.7 916.2L1941.1 918.6L1943.6 920.4L1946.1 920.7L1946.6 922.0L1949.9 923.5L1952.3 925.1L1952.6 926.1L1950.0 924.8L1948.3 924.8L1947.8 926.4L1949.2 928.2L1947.7 929.5L1947.0 930.9L1945.8 931.1L1945.8 930.1L1946.7 928.2L1945.6 925.6L1943.8 924.8L1942.3 923.8L1940.0 922.5L1937.5 921.4L1935.4 919.9L1933.1 918.3L1931.9 916.5L1930.6 914.9L1928.1 914.1L1925.7 915.7L1923.2 917.0L1920.1 917.3L1917.6 916.7L1914.6 917.3L1914.2 919.1L1914.4 920.7L1912.0 922.0L1908.7 923.0L1907.2 924.6L1905.8 926.9L1907.0 928.8L1905.2 930.1L1904.5 931.9L1902.0 932.9L1901.0 934.0L1897.7 934.2L1895.5 934.2L1893.2 935.6L1892.4 936.1ZM1518.6 849.8L1521.6 850.8L1524.4 853.2L1528.1 854.8L1531.4 855.8L1532.4 857.4L1528.1 859.0L1522.4 861.8L1519.7 861.8L1517.4 860.8L1515.7 859.2L1512.9 857.6L1509.1 859.2L1507.7 859.5ZM1892.8 899.2L1895.7 898.7L1898.1 898.2L1901.7 897.9L1904.1 897.6L1907.2 897.4L1909.8 896.3L1908.4 895.6L1910.3 894.2L1910.5 892.4L1907.7 891.6L1907.0 890.3L1906.0 889.0L1903.7 887.5L1902.7 885.1L1901.4 883.8L1899.5 883.5L1901.8 881.2L1901.9 879.3L1898.4 879.3L1897.2 878.6L1899.3 877.0L1895.0 877.0L1894.2 878.6L1893.0 880.1L1893.4 882.5L1893.6 885.1L1895.2 886.4L1898.3 886.7L1898.9 888.5L1899.4 890.1L1898.9 890.9L1895.8 890.9L1896.5 893.2L1894.1 894.5L1896.2 895.3L1899.3 895.8L1898.1 896.3L1895.7 896.9L1892.8 899.2ZM1882.6 895.0L1886.2 895.3L1891.3 893.7L1892.3 890.9L1892.3 889.0L1893.3 887.2L1891.2 885.9L1888.9 885.6L1886.7 887.5L1882.9 888.5L1883.8 890.6L1884.4 892.4L1882.0 894.0L1882.6 895.0ZM1937.8 930.9L1941.0 930.6L1945.5 930.3L1944.6 932.9L1944.4 934.2L1941.6 933.5L1938.1 931.9L1937.8 930.9ZM1926.8 923.3L1929.3 922.5L1930.8 924.3L1930.4 927.7L1928.5 928.5L1927.4 926.7L1926.8 923.3ZM1927.7 919.1L1929.7 917.8L1930.0 920.4L1929.3 922.0L1928.0 921.2L1927.7 919.1ZM1965.7 937.4L1969.5 937.6L1972.8 938.2L1970.8 938.7L1968.3 939.0L1966.0 938.2L1965.7 937.4ZM1988.0 938.7L1989.7 937.9L1993.6 936.9L1992.2 938.7L1991.6 939.7L1988.5 939.5L1988.0 938.7ZM2014.9 842.7L2018.0 839.9L2020.8 836.7L2024.3 833.3L2031.0 830.7L2038.1 829.1L2044.3 829.4L2041.5 831.5L2034.6 833.6L2030.7 835.9L2028.0 838.8L2026.2 842.0L2025.2 844.6L2028.8 845.6L2023.4 845.4L2019.9 844.6L2014.9 842.7ZM1927.6 821.8L1932.3 821.0L1937.1 821.0L1942.7 820.3L1950.3 820.0L1958.1 820.8L1954.8 822.9L1948.4 824.4L1943.9 826.3L1941.5 829.7L1937.4 828.9L1933.1 826.3L1928.9 824.2L1927.6 821.8ZM1995.6 819.5L2006.5 818.7L2019.6 818.4L2027.7 819.2L2017.5 821.0L2002.2 821.0L1995.6 819.5ZM2090.4 823.1L2092.1 819.2L2105.6 822.9L2112.3 825.5L2102.7 825.8L2095.3 824.2L2090.4 823.1ZM2184.5 833.1L2188.7 831.5L2200.1 832.5L2211.5 833.6L2206.7 834.6L2196.2 834.4L2190.7 834.9L2184.5 833.1ZM2284.8 844.3L2286.2 843.3L2288.3 844.8L2286.5 845.1ZM2242.0 888.2L2244.9 890.3L2247.9 894.2L2250.3 898.2L2254.2 901.6L2253.0 904.7L2253.3 907.3L2256.1 908.6L2254.4 908.6L2253.1 909.9L2250.9 906.0L2249.4 902.1L2247.1 898.2L2244.3 894.2L2242.6 890.9L2242.0 888.2ZM2253.2 921.4L2252.5 917.5L2255.0 917.0L2253.2 911.8L2257.3 913.9L2263.4 914.9L2264.5 917.3L2261.6 918.0L2260.7 920.4L2255.9 919.1L2255.6 921.2L2253.2 921.4ZM2255.6 922.0L2258.1 924.3L2260.1 926.9L2260.3 930.1L2259.8 932.2L2260.0 934.8L2260.9 936.9L2259.5 938.7L2258.5 937.9L2256.8 939.5L2253.6 939.7L2252.0 940.3L2250.7 942.6L2248.7 942.1L2247.3 939.7L2244.7 939.7L2242.5 940.5L2241.1 941.8L2243.5 943.9L2246.1 942.6L2247.1 941.8L2244.6 943.4L2242.2 943.9L2241.1 944.4L2241.6 947.1L2239.7 948.6L2237.6 948.4L2236.7 945.2L2235.1 943.9L2236.6 942.1L2237.6 941.3L2238.4 939.7L2240.3 937.6L2242.7 937.4L2246.4 937.1L2248.9 936.9L2249.7 934.2L2250.5 932.2L2250.3 933.7L2253.7 932.7L2254.8 930.9L2255.6 928.2L2254.9 925.6L2254.6 923.0L2255.6 922.0ZM2217.8 964.3L2220.4 964.8L2219.9 968.8L2219.0 972.7L2216.5 970.1L2216.9 966.7L2217.8 964.3ZM2188.5 979.7L2190.3 977.9L2193.2 977.6L2194.4 979.2L2192.7 981.8L2191.0 982.6L2188.8 981.6L2188.5 979.7ZM2115.4 1004.8L2117.8 1005.9L2119.4 1008.2L2121.1 1011.4L2120.2 1013.7L2117.6 1014.8L2116.0 1013.2L2115.3 1009.3L2115.4 1004.8ZM2219.7 981.8L2223.9 982.1L2224.6 985.8L2223.2 988.4L2223.5 991.5L2226.0 993.1L2229.8 994.1L2230.7 997.3L2228.5 996.2L2226.5 994.6L2224.0 993.9L2221.5 994.1L2221.0 992.3L2219.1 989.7L2218.6 987.6L2219.8 986.3L2219.5 984.2L2219.7 981.8ZM2225.4 999.3L2228.0 999.9L2230.7 1000.7L2231.7 997.5L2234.4 998.0L2235.0 1001.4L2233.5 1003.3L2232.3 1004.1L2231.1 1005.1L2229.1 1006.1L2227.3 1004.3L2225.7 1002.7L2225.4 999.3ZM2226.3 1011.9L2228.2 1009.8L2229.9 1007.7L2232.6 1008.0L2235.0 1004.6L2237.2 1007.2L2238.0 1011.1L2236.8 1013.7L2235.6 1014.5L2234.9 1012.4L2231.6 1013.5L2231.5 1011.1L2228.8 1010.9L2226.3 1011.9ZM2213.5 1008.2L2216.7 1005.4L2219.3 1002.2L2218.7 1000.7L2216.6 1003.5L2214.1 1006.1L2213.5 1008.2ZM2220.8 995.2L2222.9 995.2L2223.9 997.5L2222.7 998.3L2220.8 995.2ZM2192.6 1025.5L2194.4 1025.0L2196.0 1025.8L2198.6 1023.7L2200.4 1022.6L2203.0 1021.6L2205.6 1018.4L2208.1 1017.1L2210.7 1014.5L2212.4 1011.9L2215.1 1013.5L2216.7 1015.0L2219.1 1016.6L2216.8 1018.4L2215.3 1019.2L2215.4 1022.4L2216.7 1024.4L2218.6 1027.6L2216.0 1028.1L2214.9 1030.2L2214.9 1032.6L2212.3 1034.1L2212.3 1036.7L2210.9 1039.6L2207.4 1040.9L2204.3 1039.1L2200.4 1039.1L2199.1 1038.0L2195.7 1037.8L2195.7 1034.6L2193.4 1032.3L2192.6 1029.4L2192.6 1025.5ZM2156.4 1015.6L2159.6 1016.6L2162.2 1016.6L2165.5 1020.3L2168.9 1023.4L2172.4 1025.0L2175.0 1027.6L2178.2 1029.7L2178.7 1032.8L2180.8 1035.4L2184.2 1037.5L2184.7 1038.8L2184.1 1042.0L2183.9 1045.4L2180.8 1045.4L2178.0 1042.7L2174.7 1040.1L2172.4 1036.7L2170.3 1033.6L2168.5 1030.7L2166.4 1028.1L2165.0 1025.5L2162.4 1023.1L2159.7 1020.5L2157.0 1017.7L2156.4 1015.6ZM2182.3 1048.0L2184.5 1045.6L2187.1 1045.9L2190.9 1047.7L2194.8 1048.2L2197.0 1046.9L2198.8 1047.7L2201.9 1048.2L2205.2 1050.1L2206.5 1051.1L2206.1 1052.9L2202.5 1051.9L2197.3 1051.9L2193.4 1050.6L2189.5 1050.6L2185.3 1049.5L2182.3 1048.0ZM2221.0 1028.1L2223.6 1026.8L2226.7 1027.6L2229.9 1027.8L2233.0 1026.8L2235.1 1026.0L2233.8 1028.9L2230.7 1029.4L2226.7 1028.9L2223.6 1028.9L2221.8 1031.0L2221.8 1032.6L2224.6 1032.6L2227.5 1032.3L2230.2 1032.3L2228.8 1033.6L2226.2 1035.2L2227.4 1038.0L2228.9 1040.9L2229.6 1044.1L2227.5 1044.1L2227.1 1042.0L2225.2 1042.5L2224.0 1039.4L2224.1 1037.3L2222.5 1038.0L2222.4 1042.0L2222.2 1044.8L2219.9 1044.6L2220.0 1040.7L2220.1 1038.8L2218.3 1037.3L2219.6 1034.1L2221.0 1030.7L2221.0 1028.1ZM2207.7 1051.6L2210.4 1051.9L2213.0 1052.2L2218.2 1051.9L2223.4 1052.2L2228.7 1051.9L2232.6 1051.6L2233.9 1052.2L2228.6 1053.2L2222.1 1053.2L2218.1 1053.2L2212.9 1053.7L2209.0 1053.2L2207.7 1051.6ZM2218.0 1054.8L2222.6 1056.1L2220.5 1057.1L2218.0 1055.6L2218.0 1054.8ZM2229.6 1057.1L2233.8 1053.7L2239.7 1052.2L2237.7 1053.7L2233.6 1055.8L2230.9 1057.1L2229.6 1057.1ZM2241.1 1025.0L2243.3 1026.3L2244.3 1028.9L2242.5 1031.5L2241.7 1028.9L2241.1 1025.0ZM2242.4 1038.0L2246.4 1037.5L2249.7 1038.8L2247.6 1039.4L2243.7 1039.4L2242.4 1038.0ZM2237.1 1038.6L2240.3 1038.8L2239.2 1040.1L2237.1 1038.6ZM2250.4 1032.3L2254.3 1031.2L2258.2 1032.3L2258.7 1036.2L2260.8 1038.8L2263.4 1037.3L2267.4 1034.6L2271.3 1035.4L2276.5 1037.0L2281.7 1039.1L2285.6 1040.1L2289.0 1042.7L2290.7 1044.8L2294.0 1045.9L2292.3 1048.5L2294.2 1051.1L2295.8 1054.0L2299.0 1056.3L2301.0 1057.4L2297.6 1057.4L2293.7 1056.9L2291.3 1055.0L2290.1 1053.5L2286.4 1050.9L2284.3 1050.1L2282.4 1052.2L2280.9 1054.3L2277.0 1054.3L2273.2 1051.9L2270.6 1051.4L2268.0 1052.2L2267.4 1049.0L2270.3 1048.5L2269.7 1045.9L2267.1 1043.8L2263.3 1042.2L2259.4 1040.7L2256.8 1040.4L2254.9 1040.7L2252.9 1037.8L2256.9 1036.5L2253.7 1036.0L2250.9 1034.1L2250.4 1032.3ZM2295.4 1044.8L2299.9 1044.1L2304.0 1041.2L2306.0 1042.0L2303.8 1044.6L2299.8 1046.4L2295.9 1045.9L2295.4 1044.8ZM2302.3 1037.0L2305.4 1038.6L2307.9 1041.4L2307.1 1042.0L2304.0 1039.1L2302.3 1037.0ZM2315.4 1048.5L2320.4 1051.1L2325.4 1054.5L2329.1 1056.9L2327.7 1057.7L2322.8 1053.7L2317.8 1051.6L2315.4 1048.5ZM2331.5 1083.0L2334.9 1085.1L2338.0 1088.5L2336.7 1088.5L2333.4 1086.4L2331.3 1083.8L2331.5 1083.0ZM2367.5 1076.0L2370.6 1076.0L2370.2 1077.8L2367.2 1077.5L2367.5 1076.0ZM2341.0 1069.4L2342.4 1070.7L2341.9 1072.0L2340.6 1070.7L2341.0 1069.4ZM2201.8 1087.2L2205.5 1084.8L2208.8 1084.1L2212.3 1083.3L2215.0 1082.5L2220.4 1081.2L2224.0 1077.8L2224.3 1075.2L2227.7 1075.4L2228.5 1072.8L2230.9 1070.7L2233.8 1068.1L2237.1 1066.8L2239.0 1068.1L2240.7 1069.4L2242.8 1069.2L2244.6 1069.2L2244.4 1066.3L2246.5 1064.2L2248.2 1062.6L2250.1 1062.1L2252.9 1059.7L2255.4 1061.1L2259.2 1062.1L2261.8 1062.4L2264.2 1062.1L2262.9 1064.7L2261.1 1066.3L2259.8 1068.9L2262.1 1071.2L2264.6 1072.0L2266.9 1073.9L2269.2 1076.0L2272.6 1076.0L2274.7 1072.0L2275.9 1068.9L2276.2 1065.0L2277.3 1062.1L2279.2 1058.2L2280.3 1061.1L2281.5 1064.2L2281.3 1067.6L2284.1 1068.1L2285.2 1069.4L2285.3 1072.8L2286.2 1075.4L2286.0 1079.4L2289.1 1080.9L2291.4 1082.5L2292.8 1085.9L2293.5 1088.8L2295.7 1090.9L2297.0 1092.9L2299.6 1096.1L2299.7 1099.5L2299.5 1103.9L2297.8 1107.3L2295.8 1111.2L2292.8 1115.2L2289.9 1117.8L2287.2 1121.2L2284.6 1124.3L2282.4 1128.0L2278.3 1129.0L2275.5 1129.8L2271.5 1132.4L2270.3 1130.3L2268.8 1129.5L2264.8 1131.6L2261.5 1130.3L2259.2 1129.8L2257.4 1128.0L2257.5 1125.6L2256.4 1123.5L2254.8 1123.0L2255.9 1121.2L2255.7 1117.8L2253.9 1122.0L2251.9 1122.0L2254.2 1118.6L2255.9 1115.4L2253.1 1118.0L2250.6 1120.4L2248.4 1121.2L2247.9 1118.6L2246.5 1116.5L2245.3 1114.4L2242.4 1113.9L2239.5 1112.6L2235.6 1112.8L2231.5 1113.9L2227.6 1114.4L2223.4 1115.7L2220.5 1117.0L2218.7 1118.8L2214.9 1119.1L2209.9 1118.8L2207.0 1120.1L2204.1 1121.7L2201.5 1121.7L2199.1 1121.4L2197.0 1119.9L2197.5 1117.8L2200.0 1115.2L2200.6 1112.6L2199.8 1109.4L2199.8 1106.0L2198.6 1102.1L2197.9 1099.0L2199.1 1095.6L2199.0 1092.9L2200.4 1089.5L2201.8 1087.2ZM2265.8 1136.6L2269.8 1137.7L2274.4 1136.9L2273.3 1140.0L2271.4 1142.6L2269.3 1143.4L2265.8 1144.2L2265.5 1142.1L2265.6 1140.0L2265.8 1136.6ZM2342.6 1120.1L2344.0 1121.7L2345.4 1124.3L2346.9 1125.6L2347.6 1126.9L2348.0 1128.8L2350.8 1129.3L2353.5 1128.8L2351.0 1131.4L2348.7 1132.7L2347.4 1133.7L2345.8 1136.1L2342.6 1138.4L2339.9 1139.0L2339.9 1137.9L2342.2 1135.3L2341.1 1134.0L2339.8 1132.9L2342.4 1131.6L2343.6 1129.5L2344.3 1126.9L2343.9 1125.1L2342.8 1121.7L2342.6 1120.1ZM2335.6 1136.1L2336.9 1137.4L2338.5 1138.2L2336.9 1140.0L2334.7 1141.8L2332.1 1143.4L2331.9 1144.7L2329.2 1145.2L2326.9 1146.3L2325.0 1148.4L2323.5 1150.2L2321.0 1151.2L2318.1 1152.0L2315.8 1151.8L2313.2 1150.7L2314.6 1148.6L2318.2 1146.5L2320.6 1145.2L2325.5 1142.9L2328.8 1141.3L2331.3 1139.2L2334.0 1136.9L2335.6 1136.1ZM1502.2 977.4L1504.6 978.4L1504.7 979.5L1502.4 980.5L1501.9 979.0L1502.2 977.4ZM2072.5 1158.3L2076.1 1158.6L2075.5 1159.9L2072.6 1159.9L2072.5 1158.3ZM1816.7 1171.4L1821.6 1172.2L1820.6 1173.5L1816.9 1172.2L1816.7 1171.4ZM2046.0 997.3L2048.9 997.3L2047.6 998.0L2046.0 997.3ZM2009.3 1045.4L2010.3 1045.9L2010.1 1046.9L2009.3 1046.4ZM1705.1 960.4L1708.3 960.9L1707.1 964.8L1705.6 966.1L1705.1 964.3L1706.6 962.7L1705.1 960.4ZM1928.8 1020.5L1929.9 1020.8L1929.3 1021.8L1928.8 1020.5ZM1863.5 955.9L1865.1 955.7L1864.3 957.0L1863.5 955.9ZM1912.5 926.7L1914.7 926.1L1914.5 927.5L1913.0 927.5L1912.5 926.7ZM1948.9 880.9L1950.3 878.8L1950.6 880.1L1949.3 881.2L1948.9 880.9ZM1932.3 884.6L1935.7 883.8L1935.9 885.9L1934.0 886.4L1932.3 884.6Z" fill="#e0e6ac"/>
<g clip-path="url(#landclip)"><g filter="url(#bl)">
<path d="M1560.0 834.1L1819.3 808.0L1775.2 868.1L1758.3 878.6L1731.9 881.2L1723.2 873.3L1687.1 877.3L1678.7 870.7L1641.9 857.6L1601.2 853.7L1576.3 852.4L1543.2 855.0Z" fill="#deded2"/>
<path d="M1536.1 857.6L1548.8 868.1L1528.5 873.3L1528.5 865.5Z" fill="#deded2"/>
<path d="M1544.6 873.3L1544.4 862.9L1578.2 855.0L1600.1 855.0L1641.9 857.6L1678.7 870.7L1686.5 878.6L1715.6 881.2L1728.7 883.8L1760.7 886.4L1772.4 896.9L1760.6 907.3L1740.0 912.6L1720.4 912.6L1702.2 907.3L1677.7 900.8L1657.9 890.3L1638.4 886.4L1614.4 896.9L1603.8 894.2L1596.8 881.2L1569.4 870.7Z" fill="#b4cfaa"/>
<path d="M1637.1 894.2L1671.4 898.2L1681.2 912.6L1684.4 928.2L1669.8 949.2L1657.7 959.6L1648.4 954.4L1648.1 933.5L1648.5 915.2L1641.0 902.1Z" fill="#eeeeb0"/>
<path d="M1613.3 904.7L1633.8 902.1L1644.4 912.6L1643.8 930.9L1644.4 949.2L1648.4 970.1L1639.5 977.9L1628.6 964.8L1619.0 949.2L1610.1 943.9L1602.1 936.1L1601.3 923.0Z" fill="#e6dcc4"/>
<path d="M1667.7 980.5L1681.3 975.3L1679.9 988.4L1690.1 991.0L1689.3 1004.1L1702.2 1008.0L1696.8 1011.9L1681.4 1004.1L1666.6 992.3Z" fill="#ccdea2"/>
<path d="M1704.7 1011.9L1733.7 1006.7L1749.3 1009.3L1770.1 1017.1L1777.9 1030.2L1788.4 1038.0L1778.2 1053.7L1757.8 1066.8L1737.1 1069.4L1720.8 1059.0L1707.2 1045.9L1699.1 1030.2Z" fill="#b2cfa0"/>
<path d="M1704.8 1009.3L1712.5 1014.5L1707.0 1032.8L1706.1 1051.1L1718.7 1066.8L1729.6 1074.6L1735.1 1092.9L1732.9 1116.5L1731.6 1137.4L1734.6 1160.9L1725.0 1160.9L1722.4 1134.8L1723.3 1111.2L1723.0 1082.5L1709.6 1068.1L1696.7 1045.9L1699.2 1025.0Z" fill="#cdc8c2"/>
<path d="M1728.8 1129.5L1752.0 1133.5L1747.2 1153.1L1743.2 1166.2L1733.4 1160.9Z" fill="#e4deba"/>
<path d="M1861.2 975.3L1873.2 957.0L1886.2 947.8L1906.5 941.3L1931.8 942.6L1957.3 947.8L1992.9 947.8L1999.3 967.5L2006.5 983.1L2000.4 992.3L1971.7 991.0L1945.6 989.7L1919.5 987.1L1893.5 984.4L1862.3 985.8Z" fill="#f6e3cb"/>
<path d="M1885.8 977.9L1919.5 977.9L1942.8 980.5L1963.5 977.9L1973.5 967.5L1952.7 959.6L1919.3 959.6L1891.1 964.8Z" fill="#f1ddc5"/>
<path d="M1995.5 947.8L2007.7 942.6L2026.2 950.5L2038.0 967.5L2052.0 966.1L2061.7 974.0L2049.7 987.1L2024.1 998.8L2015.9 988.4L2004.7 972.7L1996.1 957.0Z" fill="#f5e3cb"/>
<path d="M2016.6 930.9L2032.1 934.8L2044.1 930.9L2037.6 920.4L2040.7 909.9L2057.0 906.0L2077.0 908.6L2098.2 915.2L2105.6 925.6L2092.6 936.1L2084.6 949.2L2080.3 966.1L2061.0 965.4L2047.7 960.9L2034.1 953.1L2024.3 943.9Z" fill="#eee0ce"/>
<path d="M2093.1 925.6L2102.1 911.2L2124.1 903.4L2149.2 906.0L2175.4 911.2L2193.4 920.4L2179.2 930.9L2156.4 929.5L2132.3 933.5L2107.2 933.5Z" fill="#f0e2ce"/>
<path d="M2087.1 933.5L2106.7 930.9L2131.4 929.5L2158.9 929.5L2171.9 946.5L2163.0 959.6L2140.1 960.9L2116.2 955.7L2099.5 946.5Z" fill="#d0d2d0"/>
<path d="M2108.2 938.7L2145.8 937.4L2158.4 949.2L2136.2 953.1L2114.9 947.8Z" fill="#ced0cf"/>
<path d="M1915.7 874.6L1931.1 862.9L1958.2 849.8L1983.1 855.0L2016.7 857.6L2060.8 857.6L2102.0 852.4L2142.6 848.5L2187.8 851.1L2236.0 856.3L2277.6 862.9L2276.4 874.6L2238.8 887.7L2236.6 906.0L2209.4 899.5L2170.9 899.5L2137.3 899.5L2111.5 894.2L2070.3 883.8L2034.2 879.9L1999.9 882.5L1976.5 882.5L1955.3 879.9L1932.0 879.9Z" fill="#bad2ae"/>
<path d="M1956.9 842.0L2034.2 845.9L2050.7 836.7L2110.3 823.7L2194.8 836.7L2289.6 845.9L2310.2 864.2L2277.6 862.9L2236.0 856.3L2187.8 851.1L2142.6 848.5L2102.0 852.4L2060.8 857.6L2016.7 857.6L1983.1 855.0L1960.2 848.5Z" fill="#e0e0d6"/>
<path d="M1521.8 847.2L1538.8 855.0L1524.0 865.5L1501.5 865.5Z" fill="#e0e0d6"/>
<path d="M2255.2 865.5L2280.0 868.1L2289.8 886.4L2282.3 896.9L2269.2 883.8Z" fill="#d6dacc"/>
<path d="M1966.6 899.5L2001.6 892.9L2036.7 890.3L2071.5 887.7L2112.4 896.9L2101.7 909.9L2057.0 906.0L2040.7 909.9L2023.9 911.2L2004.1 909.9L1979.7 909.9Z" fill="#eaecb2"/>
<path d="M1930.1 1018.4L1945.8 1015.8L1972.1 1015.8L1986.6 1025.0L1983.9 1040.7L1969.4 1047.2L1948.5 1044.6L1934.1 1038.0Z" fill="#acca9c"/>
<path d="M1872.5 1006.7L1885.5 1009.3L1898.6 1010.6L1911.7 1009.3L1927.5 1011.9L1931.4 1018.4L1917.0 1015.8L1898.6 1017.7L1885.5 1019.2L1872.4 1010.6Z" fill="#c0d7a0"/>
<path d="M2011.0 997.5L2041.0 997.5L2036.3 1017.1L2016.7 1034.1L2008.8 1019.7L2006.0 1006.7Z" fill="#f1e2c4"/>
<path d="M1936.4 1073.3L1958.5 1077.3L1973.7 1087.7L1970.5 1103.4L1957.2 1115.2L1948.5 1111.2L1941.3 1092.9Z" fill="#eedfc1"/>
<path d="M2205.3 1086.4L2231.3 1077.3L2257.3 1077.3L2271.5 1085.1L2280.3 1098.2L2270.9 1113.9L2252.6 1111.2L2232.2 1111.2L2211.9 1111.2L2200.1 1100.8Z" fill="#f1d9bd"/>
<path d="M2142.4 959.6L2162.2 955.7L2185.5 971.4L2192.7 998.8L2181.5 1008.0L2167.6 996.2L2163.3 1010.6L2157.5 985.8L2144.7 975.3Z" fill="#c8dca0"/>
<path d="M2153.0 1014.5L2184.4 1014.5L2221.0 1011.9L2242.5 1025.0L2302.8 1035.4L2304.0 1059.0L2247.5 1043.3L2215.3 1056.3L2179.0 1051.1Z" fill="#c0d8a0"/>
<path d="M1916.8 873.3L1924.4 864.2L1936.8 851.1L1951.4 847.2L1946.2 857.6L1935.9 868.1L1927.2 875.9Z" fill="#ced4c4"/>
<path d="M1851.8 855.0L1878.0 855.0L1877.3 865.5L1850.3 865.5Z" fill="#e8e8e2"/>
<path d="M2013.4 847.2L2044.2 826.3L2017.7 815.8L1925.3 818.4L1926.7 831.5L1967.0 831.5Z" fill="#f4f4f8"/>
<path d="M2073.3 815.8L2119.0 826.3L2094.6 827.6Z" fill="#f4f4f8"/>
<path d="M1668.1 933.5L1700.0 925.6L1721.6 917.8L1717.8 936.1L1699.5 954.4L1677.0 951.8Z" fill="#d6e2a6"/>
</g></g>
<path d="M1975.9 921.7L1976.7 917.0L1979.0 912.6L1981.6 908.9L1984.5 909.2L1988.3 910.2L1987.2 911.8L1989.2 913.9L1992.8 913.1L1995.8 912.0L1998.2 911.2L1999.7 908.1L2001.8 907.1L1998.0 909.9L1997.1 912.0L2000.2 914.1L2004.2 916.5L2008.5 918.8L2009.5 921.2L2006.2 923.0L2002.0 923.1L1997.7 922.2L1993.9 920.9L1989.4 920.4L1985.3 922.2L1980.9 922.7L1978.9 922.5L1975.9 921.7ZM2030.5 932.2L2033.1 932.9L2037.0 934.0L2041.5 933.5L2041.4 929.5L2038.9 925.6L2037.4 922.5L2040.3 921.7L2037.5 919.9L2035.9 917.8L2032.9 917.0L2031.6 913.9L2034.9 911.2L2035.6 908.6L2031.7 907.3L2027.1 908.6L2022.6 911.2L2021.3 913.9L2023.4 916.5L2024.2 918.6L2027.3 921.2L2029.5 924.3L2029.2 927.7L2028.8 930.1L2030.5 932.2ZM1972.4 924.6L1974.7 923.0L1979.0 923.3L1978.6 924.4L1974.8 924.6L1972.4 924.6ZM2049.8 915.2L2051.7 909.9L2055.1 908.4L2056.9 911.2L2053.9 915.2L2051.7 916.2L2049.8 915.2ZM2154.1 895.3L2157.2 892.4L2161.7 889.0L2163.6 884.6L2164.5 885.1L2164.3 889.5L2161.1 893.2L2157.3 895.6L2154.1 895.3ZM1989.7 1031.0L1991.3 1029.4L1995.5 1029.7L1996.3 1032.8L1994.4 1036.2L1991.8 1037.3L1990.0 1034.6L1989.7 1031.0ZM1983.1 1039.1L1984.4 1042.0L1984.1 1045.9L1986.9 1051.6L1988.2 1052.9L1986.7 1048.5L1984.7 1043.3L1984.2 1039.1L1983.1 1039.1ZM1995.5 1055.0L1997.0 1057.7L1996.9 1061.6L1998.3 1066.8L1997.0 1067.6L1995.8 1062.9L1995.4 1059.0L1995.0 1055.3L1995.5 1055.0ZM1682.5 908.1L1688.3 905.2L1693.9 902.9L1699.4 904.7L1700.2 908.4L1695.8 908.6L1691.3 907.3L1686.1 908.4L1682.5 908.1ZM1689.3 920.4L1690.1 916.5L1693.6 911.8L1697.8 909.9L1697.8 912.6L1694.3 915.7L1693.4 919.9L1691.1 921.4L1689.3 920.4ZM1700.3 909.9L1706.5 909.4L1710.6 912.6L1707.0 913.9L1705.3 917.0L1703.1 917.8L1701.3 915.2L1702.6 912.0L1700.3 909.9ZM1700.0 921.2L1704.6 921.7L1711.5 918.8L1709.1 918.3L1703.8 919.9L1700.2 920.4L1700.0 921.2ZM1709.9 917.0L1715.6 917.0L1718.9 915.4L1716.1 914.9L1711.5 915.7L1709.9 917.0ZM1669.4 898.4L1673.6 898.7L1676.0 895.6L1674.8 889.5L1671.3 891.1L1673.6 894.8L1669.4 898.4ZM1632.3 860.3L1637.8 860.3L1646.7 857.1L1647.1 855.0L1640.2 855.6L1633.6 858.4L1632.3 860.3ZM1639.7 871.2L1645.7 870.7L1653.7 866.8L1659.8 866.0L1655.2 868.1L1648.3 870.2L1643.6 868.6L1639.7 871.2ZM1975.7 873.3L1978.7 873.6L1981.8 871.5L1979.1 869.2L1976.3 870.2L1975.7 873.3ZM1984.6 870.7L1987.9 870.2L1988.5 867.3L1985.3 866.0L1984.2 868.6L1984.6 870.7Z" fill="#7ab0d6"/>
<path d="M1763.3 825.8L1772.6 823.7L1780.6 820.5L1791.2 817.6L1803.1 815.3L1818.3 814.5L1834.1 812.4L1848.9 811.6L1862.7 813.5L1875.0 815.8L1884.1 817.1L1881.9 819.0L1874.1 820.5L1870.6 823.7L1867.9 827.6L1868.2 831.5L1864.7 834.1L1866.3 836.7L1859.7 839.3L1860.4 841.4L1856.9 843.3L1859.7 845.9L1855.2 847.2L1849.2 850.6L1841.4 851.9L1835.6 853.7L1830.6 856.9L1823.7 858.2L1817.8 859.7L1814.7 863.4L1810.6 866.8L1808.6 870.7L1805.7 873.3L1801.5 871.8L1796.2 870.2L1793.7 866.8L1792.1 862.9L1790.3 859.0L1789.2 855.0L1791.8 851.1L1797.0 848.5L1793.5 846.4L1790.8 845.1L1792.0 842.0L1790.6 838.0L1789.3 834.1L1785.6 831.5L1777.8 831.0L1769.4 831.5L1765.1 828.9L1763.3 825.8Z" fill="#f3f4f9"/>
<path d="M1548.8 1232.0L1565.6 1232.6L1578.6 1232.0L1589.1 1229.7L1602.1 1227.3L1610.4 1225.8L1623.2 1224.5L1638.2 1223.1L1653.5 1221.8L1668.5 1222.4L1683.6 1223.1L1693.9 1220.5L1696.5 1218.4L1707.9 1219.7L1722.6 1219.7L1735.6 1220.5L1747.8 1220.0L1755.7 1219.2L1757.5 1214.5L1758.9 1210.6L1759.3 1206.7L1762.1 1202.8L1765.5 1200.1L1770.1 1197.5L1776.4 1196.2L1780.2 1197.5L1777.7 1200.1L1775.3 1202.8L1774.6 1206.7L1776.1 1210.6L1778.8 1214.5L1780.5 1218.4L1783.3 1222.4L1784.2 1226.3L1780.0 1229.7L1771.5 1232.3L1764.9 1234.1L1769.9 1235.7L1780.0 1236.2L1798.7 1234.9L1812.1 1234.1L1827.8 1234.1L1837.5 1233.6L1846.4 1230.2L1853.8 1227.6L1861.2 1223.7L1869.0 1220.5L1879.2 1218.4L1885.3 1215.8L1895.9 1215.0L1906.5 1213.2L1917.2 1213.7L1927.9 1212.9L1938.6 1212.7L1949.2 1213.2L1959.8 1214.3L1970.9 1211.9L1977.7 1210.1L1983.9 1211.4L1990.2 1211.9L1997.7 1208.0L2006.7 1206.9L2015.9 1205.4L2023.4 1202.5L2031.7 1204.1L2037.4 1206.4L2046.1 1206.7L2054.4 1207.5L2058.0 1209.3L2061.0 1211.9L2065.1 1212.4L2072.4 1210.6L2080.6 1207.5L2090.6 1204.8L2099.8 1204.1L2108.9 1203.5L2118.2 1202.8L2127.3 1202.2L2136.0 1202.5L2143.8 1204.1L2153.4 1202.8L2161.2 1204.3L2169.5 1204.8L2179.1 1203.8L2187.1 1204.8L2197.1 1203.3L2206.4 1202.8L2213.8 1204.3L2221.7 1205.4L2228.0 1208.0L2234.9 1209.8L2242.2 1211.1L2248.5 1213.2L2253.4 1214.5L2258.9 1215.3L2265.1 1217.1L2258.0 1221.1L2246.6 1225.0L2236.0 1228.9L2232.4 1232.0L2237.1 1232.8L2247.9 1232.3L2264.2 1232.0L2259.7 1234.6L2255.0 1237.3L2250.0 1239.9L2244.6 1242.5L2239.0 1245.1L2232.8 1247.7L2226.2 1250.3L2218.9 1253.0L2210.7 1255.6L2201.2 1258.2L2189.8 1260.8L2174.2 1263.4L2142.8 1265.5L1670.2 1265.5L1635.1 1262.9L1620.7 1260.3L1609.8 1257.7L1600.6 1255.0L1592.6 1252.4L1585.4 1249.8L1578.9 1247.2L1572.9 1244.6L1567.3 1242.0L1562.0 1239.4L1557.1 1236.7L1552.4 1234.1Z" fill="#f4f5fa"/>
</g>
<path d="M1670.25 794.9H2142.75A236.25 235.3 0 0 1 2142.75 1265.5H1670.25A236.25 235.3 0 0 1 1670.25 794.9Z" fill="none" stroke="#000" stroke-width="2.2"/>
<path d="M1666.6 825.7Q1683 831 1693.3 846.1" fill="none" stroke="#3c14ff" stroke-width="3.9" stroke-linecap="round"/>
<rect x="1744.4" y="1307.6" width="550.6" height="27.7" fill="url(#ch)" stroke="#000" stroke-width="2.3"/>
<path d="M1791.2 1335.3v9.7M1882.75 1335.3v9.7M1974.3 1335.3v9.7M2065.85 1335.3v9.7M2157.4 1335.3v9.7M2248.95 1335.3v9.7" stroke="#000" stroke-width="1.9"/>
<path d="M182.9 72.2L224.5 0.5H307.7L348.9 72.2L307.7 143.9H224.5Z" fill="#fff" stroke="#c4e6ee" stroke-width="1.2"/>
<g clip-path="url(#hexc)">
<rect x="185" y="5" width="160" height="130" fill="#04040c"/>
<g filter="url(#bl3)">
<path d="M185 100Q260 86 345 60L345 76Q262 100 185 116Z" fill="#1fa05a"/>
<path d="M185 108Q262 93 345 69L345 80Q262 104 185 122Z" fill="#0c5a3a"/>
<path d="M185 118Q265 97 345 74V140H185Z" fill="url(#earthg)"/>
<path d="M200 116Q270 100 340 82" stroke="#eaf6ff" stroke-width="5" fill="none" opacity="0.85"/>
<path d="M215 122Q262 112 300 104M232 118Q275 112 315 96M238 130Q270 124 312 108" stroke="#f2f9ff" stroke-width="3.5" fill="none" opacity="0.7"/>
</g>
<path d="M240 134Q275 108 300 126L312 134Z" fill="#fff"/>
<path d="M222 125Q262 132 300 123L306 131H225Z" fill="#fff"/>
<circle cx="265.7" cy="117.6" r="6.3" fill="#2a72c8"/>
<path d="M262.5 119.5L265.7 113.5L269 119.5" stroke="#fff" stroke-width="0.9" fill="none"/>
<circle cx="265.7" cy="118" r="1" fill="#e03030"/>
<path d="M276 62L306 108" stroke="#f6fbff" stroke-width="1.6" opacity="0.9"/>
<circle cx="232.2" cy="27.6" r="1.4" fill="#b9a8f0"/><circle cx="202" cy="66.5" r="1.2" fill="#a090e0"/><circle cx="290" cy="22" r="0.6" fill="#99a"/><circle cx="305" cy="47" r="0.6" fill="#99a"/><circle cx="247" cy="18" r="0.5" fill="#889"/><circle cx="318" cy="60" r="0.5" fill="#889"/>
<path d="M242 14L247.5 35M256 37L279 28M220.5 59L240 50M221 60.5L241 63.5M252 75L245 89M262 74L264 86" stroke="#6a6258" stroke-width="0.9" fill="none"/>
<path d="M221 60L226 61.5" stroke="#f0a030" stroke-width="2.2"/>
<path d="M247.5 34.5L282 55L271 75.5L237.5 63.5Z" fill="#c89030"/>
<path d="M249 35.5L258 33.5L280 47.5L281 54.5L250 42Z" fill="#1e62b4"/>
<path d="M249.5 42L270 52.5L259.5 72.5L239 63Z" fill="#2a78cc"/>
<path d="M271 53.5L281.5 55.5L271.5 74.5L261 72.5Z" fill="#d8b060"/>
<path d="M266 62L272 63L268 70L263 69Z" fill="#bfe0f4"/>
<path d="M270.5 56L277 57" stroke="#3a2a18" stroke-width="2"/>
</g>
<text transform="translate(236.2,133.9) scale(1.62,1)" font-size="6.6" font-weight="bold" fill="#1fa6e6">CASSIOPE</text>
<g clip-path="url(#esac)" fill="none" stroke="#4a84c6" stroke-width="1.25">
<circle cx="2106" cy="58" r="23"/>
<circle cx="2106" cy="58" r="25.35"/>
<circle cx="2106" cy="58" r="27.7"/>
<circle cx="2106" cy="58" r="30.05"/>
<circle cx="2106" cy="58" r="32.4"/>
<circle cx="2106" cy="58" r="34.75"/>
<circle cx="2106" cy="58" r="37.1"/>
<circle cx="2106" cy="58" r="39.45"/>
<circle cx="2106" cy="58" r="41.8"/>
<circle cx="2106" cy="58" r="44.15"/>
<circle cx="2106" cy="58" r="46.5"/>
<circle cx="2106" cy="58" r="48.85"/>
<circle cx="2106" cy="58" r="51.2"/>
<circle cx="2106" cy="58" r="53.55"/>
<circle cx="2106" cy="58" r="55.9"/>
<circle cx="2106" cy="58" r="58.25"/>
<circle cx="2106" cy="58" r="60.6"/>
<circle cx="2106" cy="58" r="62.95"/>
<circle cx="2106" cy="58" r="65.3"/>
<circle cx="2106" cy="58" r="67.65"/>
<circle cx="2106" cy="58" r="70"/>
<circle cx="2106" cy="58" r="72.35"/>
<circle cx="2106" cy="58" r="74.7"/>
<circle cx="2106" cy="58" r="77.05"/>
<circle cx="2106" cy="58" r="79.4"/>
<circle cx="2106" cy="58" r="81.75"/>
<circle cx="2106" cy="58" r="84.1"/>
<circle cx="2106" cy="58" r="86.45"/>
<circle cx="2106" cy="58" r="88.8"/>
<circle cx="2106" cy="58" r="91.15"/>
<circle cx="2106" cy="58" r="93.5"/>
<circle cx="2106" cy="58" r="95.85"/>
<circle cx="2106" cy="58" r="98.2"/>
<circle cx="2106" cy="58" r="100.55"/>
<circle cx="2106" cy="58" r="102.9"/>
<circle cx="2106" cy="58" r="105.25"/>
<circle cx="2106" cy="58" r="107.6"/>
<circle cx="2106" cy="58" r="109.95"/>
</g>
<circle cx="2054.8" cy="64.7" r="4.8" fill="#fff"/>
<g clip-path="url(#esae)" stroke="#4a84c6" stroke-width="1.25">
<path d="M2094 48h40"/>
<path d="M2094 50.35h40"/>
<path d="M2094 52.7h40"/>
<path d="M2094 55.05h40"/>
<path d="M2094 57.4h40"/>
<path d="M2094 59.75h40"/>
<path d="M2094 62.1h40"/>
<path d="M2094 64.45h40"/>
<path d="M2094 66.8h40"/>
<path d="M2094 69.15h40"/>
<path d="M2094 71.5h40"/>
<path d="M2094 73.85h40"/>
<path d="M2094 76.2h40"/>
<path d="M2094 78.55h40"/>
<path d="M2094 80.9h40"/>
<path d="M2094 83.25h40"/>
<path d="M2094 85.6h40"/>
</g>
<circle cx="2113.5" cy="65" r="10.5" fill="#fff"/>
<path d="M2113.5 66.5h26v5.5h-14z" fill="#fff"/>
<g clip-path="url(#esae)" stroke="#4a84c6" stroke-width="1.25"><path d="M2109 58.5h14M2108 60.9h14M2107.5 63.2h14M2107.5 65.6h14"/></g>
<text transform="translate(2142.5,94.2) scale(0.975,1)" font-size="104.5" font-weight="bold" fill="#14288c" letter-spacing="-1">esa</text>
<text transform="translate(1200,62.5) translate(-381.91,0) scale(1.0121,1)" font-size="64.47">e-POP IRM Summary Plot</text>
<text transform="translate(1200,127.5) translate(-276.9,0) scale(1.0710,1)" font-size="58.61">November 06, 2015</text>
<text transform="translate(229,239.4) translate(-64.65,0) scale(1.0069,1)" font-size="29.31">-X/-Z</text>
<text transform="translate(229,311.93) translate(-26.51,0) scale(0.9204,1)" font-size="29.31">-X</text>
<text transform="translate(229,384.46) translate(-76.92,0) scale(1.0689,1)" font-size="29.31">+Z/-X</text>
<text transform="translate(229,456.98) translate(-39.65,0) scale(1.1623,1)" font-size="29.31">+Z</text>
<text transform="translate(229,529.51) translate(-91.3,0) scale(1.1570,1)" font-size="29.31">+X/+Z</text>
<text transform="translate(229,602.04) translate(-39.95,0) scale(1.1047,1)" font-size="29.31">+X</text>
<text transform="translate(229,674.56) translate(-79.79,0) scale(1.1087,1)" font-size="29.31">-Z/+X</text>
<text transform="translate(229,747.09) translate(-27.66,0) scale(1.0337,1)" font-size="29.31">-Z</text>
<text transform="translate(1104.6,238.5) translate(-1.07,0) scale(1.0388,1)" font-size="29.31">315</text>
<text transform="translate(1104.6,311.03) translate(-1.55,0) scale(1.0597,1)" font-size="29.31">270</text>
<text transform="translate(1104.6,383.56) translate(-1.54,0) scale(1.0505,1)" font-size="29.31">225</text>
<text transform="translate(1104.6,456.08) translate(-2.32,0) scale(1.0545,1)" font-size="29.31">180</text>
<text transform="translate(1104.6,528.61) translate(-2.3,0) scale(1.0451,1)" font-size="29.31">135</text>
<text transform="translate(1104.6,601.14) translate(-1.39,0) scale(1.0508,1)" font-size="29.31">90</text>
<text transform="translate(1104.6,673.66) translate(-0.6,0) scale(1.0246,1)" font-size="29.31">45</text>
<text transform="translate(1104.6,746.19) translate(-1.01,0) scale(0.9848,1)" font-size="29.31">0</text>
<text transform="translate(119.3,483.1) rotate(-90) translate(-56.14,0) scale(0.9968,1)" font-size="29.31">S/C Axis</text>
<text transform="translate(1184.6,482.8) rotate(-90) translate(-203.62,0) scale(1.0799,1)" font-size="23.44">Angle from -Z axis (towards +X axis)</text>
<text transform="translate(413.3,173) translate(0,0) scale(1.0853,1)" font-size="29.31">Anti-ram</text>
<text transform="translate(698.2,173) translate(-2.5,0) scale(1.0661,1)" font-size="29.31">Bfield</text>
<text transform="translate(936.7,173) translate(-0.96,0) scale(1.0959,1)" font-size="29.31">Zenith</text>
<text transform="translate(1243.2,212.8) translate(-2.27,0) scale(1.0323,1)" font-size="29.31">1e5</text>
<text transform="translate(1243.2,281.93) translate(-2.29,0) scale(1.0413,1)" font-size="29.31">1e4</text>
<text transform="translate(1243.2,351.05) translate(-2.28,0) scale(1.0367,1)" font-size="29.31">1e3</text>
<text transform="translate(1243.2,489.3) translate(-2.26,0) scale(1.0278,1)" font-size="29.31">1e2</text>
<text transform="translate(1243.2,627.55) translate(-2.27,0) scale(1.0325,1)" font-size="29.31">1e1</text>
<text transform="translate(1243.2,765.8) translate(-2.29,0) scale(1.0417,1)" font-size="29.31">1e0</text>
<text transform="translate(1326.8,478.5) rotate(-90) translate(-167.83,0) scale(1.0389,1)" font-size="29.31">Pixel Counts per Second</text>
<text transform="translate(228.3,834.9) translate(-50.69,0) scale(1.0597,1)" font-size="29.31">200</text>
<text transform="translate(228.3,972.95) translate(-50.44,0) scale(1.0545,1)" font-size="29.31">150</text>
<text transform="translate(228.3,1111) translate(-50.44,0) scale(1.0545,1)" font-size="29.31">100</text>
<text transform="translate(228.3,1249.05) translate(-32.57,0) scale(1.0327,1)" font-size="29.31">50</text>
<text transform="translate(228.3,1384.34) translate(-14.14,0) scale(0.9458,1)" font-size="29.31">1</text>
<text transform="translate(130,1103.5) rotate(-90) translate(-54.73,0) scale(1.0042,1)" font-size="29.31">TOA Bin</text>
<text transform="translate(1243.2,821.4) translate(-2.27,0) scale(1.0323,1)" font-size="29.31">1e5</text>
<text transform="translate(1243.2,890.55) translate(-2.29,0) scale(1.0413,1)" font-size="29.31">1e4</text>
<text transform="translate(1243.2,959.7) translate(-2.28,0) scale(1.0367,1)" font-size="29.31">1e3</text>
<text transform="translate(1243.2,1098) translate(-2.26,0) scale(1.0278,1)" font-size="29.31">1e2</text>
<text transform="translate(1243.2,1236.3) translate(-2.27,0) scale(1.0325,1)" font-size="29.31">1e1</text>
<text transform="translate(1243.2,1374.6) translate(-2.29,0) scale(1.0417,1)" font-size="29.31">1e0</text>
<text transform="translate(1326.2,1089.2) rotate(-90) translate(-162.7,0) scale(1.0301,1)" font-size="29.31">TOF Counts per Second</text>
<text transform="translate(168.4,1420.5) translate(-37.09,0) scale(0.9644,1)" font-size="29.31">UT</text>
<text transform="translate(250.5,1420.5) translate(-61.65,0) scale(1.0812,1)" font-size="29.31">07:17:30</text>
<text transform="translate(460.2,1420.5) translate(-61.38,0) scale(1.0793,1)" font-size="29.31">07:18:07</text>
<text transform="translate(669.7,1420.5) translate(-61.46,0) scale(1.0792,1)" font-size="29.31">07:18:43</text>
<text transform="translate(878.9,1420.5) translate(-61.65,0) scale(1.0812,1)" font-size="29.31">07:19:20</text>
<text transform="translate(1088.7,1420.5) translate(-61.7,0) scale(1.0834,1)" font-size="29.31">07:19:56</text>
<text transform="translate(168.4,1453.35) translate(-118.67,0) scale(1.0178,1)" font-size="29.31">ALT (km)</text>
<text transform="translate(250.5,1453.35) translate(-39.06,0) scale(1.0658,1)" font-size="29.31">510.6</text>
<text transform="translate(460.2,1453.35) translate(-38.93,0) scale(1.0642,1)" font-size="29.31">495.4</text>
<text transform="translate(669.7,1453.35) translate(-38.83,0) scale(1.0681,1)" font-size="29.31">480.6</text>
<text transform="translate(878.9,1453.35) translate(-38.93,0) scale(1.0642,1)" font-size="29.31">466.4</text>
<text transform="translate(1088.7,1453.35) translate(-38.83,0) scale(1.0681,1)" font-size="29.31">452.6</text>
<text transform="translate(168.4,1486.2) translate(-130.08,0) scale(1.0289,1)" font-size="29.31">LAT (deg)</text>
<text transform="translate(250.5,1486.2) translate(-30.04,0) scale(1.0514,1)" font-size="29.31">78.1</text>
<text transform="translate(460.2,1486.2) translate(-30.11,0) scale(1.0511,1)" font-size="29.31">76.5</text>
<text transform="translate(669.7,1486.2) translate(-30.47,0) scale(1.0636,1)" font-size="29.31">74.6</text>
<text transform="translate(878.9,1486.2) translate(-30.14,0) scale(1.0549,1)" font-size="29.31">72.7</text>
<text transform="translate(1088.7,1486.2) translate(-30.47,0) scale(1.0636,1)" font-size="29.31">70.6</text>
<text transform="translate(168.4,1519.05) translate(-137.24,0) scale(1.0157,1)" font-size="29.31">LON (deg)</text>
<text transform="translate(250.5,1519.05) translate(-44.4,0) scale(1.0690,1)" font-size="29.31">-121.8</text>
<text transform="translate(460.2,1519.05) translate(-44.26,0) scale(1.0945,1)" font-size="29.31">-114.3</text>
<text transform="translate(669.7,1519.05) translate(-44.13,0) scale(1.0625,1)" font-size="29.31">-108.5</text>
<text transform="translate(878.9,1519.05) translate(-44.37,0) scale(1.0703,1)" font-size="29.31">-103.9</text>
<text transform="translate(1088.7,1519.05) translate(-44.23,0) scale(1.0650,1)" font-size="29.31">-100.3</text>
<text transform="translate(168.4,1551.9) translate(-154.02,0) scale(1.0211,1)" font-size="29.31">MLAT (deg)</text>
<text transform="translate(250.5,1551.9) translate(-30.28,0) scale(1.0623,1)" font-size="29.31">80.8</text>
<text transform="translate(460.2,1551.9) translate(-30.3,0) scale(1.0605,1)" font-size="29.31">81.0</text>
<text transform="translate(669.7,1551.9) translate(-30,0) scale(1.0527,1)" font-size="29.31">80.5</text>
<text transform="translate(878.9,1551.9) translate(-30.47,0) scale(1.0636,1)" font-size="29.31">79.6</text>
<text transform="translate(1088.7,1551.9) translate(-29.93,0) scale(1.0474,1)" font-size="29.31">78.2</text>
<text transform="translate(168.4,1584.75) translate(-123.84,0) scale(1.0059,1)" font-size="29.31">MLT (hrs)</text>
<text transform="translate(250.5,1584.75) translate(-30.17,0) scale(1.0559,1)" font-size="29.31">20.1</text>
<text transform="translate(460.2,1584.75) translate(-30.17,0) scale(1.0559,1)" font-size="29.31">21.1</text>
<text transform="translate(669.7,1584.75) translate(-30.17,0) scale(1.0559,1)" font-size="29.31">22.1</text>
<text transform="translate(878.9,1584.75) translate(-30.54,0) scale(1.0634,1)" font-size="29.31">23.0</text>
<text transform="translate(1088.7,1584.75) translate(-30.6,0) scale(1.0680,1)" font-size="29.31">23.6</text>
<text transform="translate(1532.8,213.3) translate(-32.73,0) scale(1.0379,1)" font-size="29.31">10</text>
<text transform="translate(1532.8,269.43) translate(-14.21,0) scale(0.9413,1)" font-size="29.31">5</text>
<text transform="translate(1532.8,325.55) translate(-15.01,0) scale(0.9848,1)" font-size="29.31">0</text>
<text transform="translate(1532.8,381.68) translate(-37.1,0) scale(1.1519,1)" font-size="29.31">−5</text>
<text transform="translate(1532.8,437.8) translate(-55.33,0) scale(1.1374,1)" font-size="29.31">−10</text>
<text transform="translate(1532.8,472.6) translate(-59.28,0) scale(1.0590,1)" font-size="29.31">1.00</text>
<text transform="translate(1532.8,533.6) translate(-58.67,0) scale(1.0508,1)" font-size="29.31">0.75</text>
<text transform="translate(1532.8,594.6) translate(-59.26,0) scale(1.0586,1)" font-size="29.31">0.50</text>
<text transform="translate(1532.8,655.6) translate(-58.67,0) scale(1.0508,1)" font-size="29.31">0.25</text>
<text transform="translate(1532.8,716.6) translate(-59.26,0) scale(1.0586,1)" font-size="29.31">0.00</text>
<text transform="translate(1458.2,315.4) rotate(-90) translate(-85.29,0) scale(1.0596,1)" font-size="29.31">Current (uA)</text>
<text transform="translate(1431,599) rotate(-90) translate(-75.75,0) scale(1.0258,1)" font-size="29.31">Counts Per</text>
<text transform="translate(1458.9,695.7) rotate(-90) translate(-1.38,0) scale(1.0483,1)" font-size="29.31">Second (x10</text>
<text transform="translate(1448.6,522.1) rotate(-90) translate(-0.68,0) scale(0.9476,1)" font-size="20.51">3</text>
<text transform="translate(1458.9,510.3) rotate(-90) translate(-0.12,0) scale(0.7866,1)" font-size="29.31">)</text>
<text transform="translate(1544.8,752) translate(-61.65,0) scale(1.0812,1)" font-size="29.31">07:17:30</text>
<text transform="translate(1740.8,752) translate(-61.38,0) scale(1.0793,1)" font-size="29.31">07:18:07</text>
<text transform="translate(1936.8,752) translate(-61.46,0) scale(1.0792,1)" font-size="29.31">07:18:43</text>
<text transform="translate(2132.8,752) translate(-61.65,0) scale(1.0812,1)" font-size="29.31">07:19:20</text>
<text transform="translate(2328.8,752) translate(-61.7,0) scale(1.0834,1)" font-size="29.31">07:19:56</text>
<text transform="translate(2336.8,182.4) rotate(90) translate(-1.03,0) scale(1.0459,1)" font-size="21.98">Sensor Surface Current</text>
<text transform="translate(2356.7,182.4) rotate(90) translate(-1.04,0) scale(1.0510,1)" font-size="21.98" fill="#0000ff">Sensor Surface Current x 5</text>
<text transform="translate(2337.4,490) rotate(90) translate(-2.02,0) scale(1.0764,1)" font-size="23.44">Hit Counter</text>
<text transform="translate(2359.7,490) rotate(90) translate(-2.02,0) scale(1.0790,1)" font-size="23.44" fill="#0000ff">Detect Counter</text>
<text transform="translate(1685.8,172.9) translate(-1.36,0) scale(1.0201,1)" font-size="29.6">S/C in Eclipse</text>
<text transform="translate(2005.8,172.9) translate(-2.69,0) scale(1.0088,1)" font-size="29.6">IRM in S/C Shadow</text>
<text transform="translate(1678.7,819.6) translate(-1.09,0) scale(1.0594,1)" font-size="29.31">07:17:30 UT</text>
<text transform="translate(1704.8,867.5) translate(-1.09,0) scale(1.0594,1)" font-size="29.31">07:19:56 UT</text>
<text transform="translate(1791.2,1371.4) translate(-20.42,0) scale(1.0543,1)" font-size="23.44">400</text>
<text transform="translate(1882.75,1371.4) translate(-20.94,0) scale(1.0618,1)" font-size="23.44">600</text>
<text transform="translate(1974.3,1371.4) translate(-20.71,0) scale(1.0563,1)" font-size="23.44">800</text>
<text transform="translate(2065.85,1371.4) translate(-28.19,0) scale(1.0623,1)" font-size="23.44">1000</text>
<text transform="translate(2157.4,1371.4) translate(-28.19,0) scale(1.0623,1)" font-size="23.44">1200</text>
<text transform="translate(2248.95,1371.4) translate(-28.19,0) scale(1.0623,1)" font-size="23.44">1400</text>
<text transform="translate(2019.8,1406.7) translate(-71.84,0) scale(1.1033,1)" font-size="23.44">Altitude (km)</text>
<text transform="translate(1452.6,1403.9) translate(-1.13,0) scale(1.0622,1)" font-size="23.65">Operating mode: AM</text>
<text transform="translate(1609.4,1451.5) translate(-22.28,0) scale(0.9486,1)" font-size="23.44">VSA</text>
<text transform="translate(1740.06,1451.5) translate(-20.97,0) scale(0.9131,1)" font-size="23.44">VES</text>
<text transform="translate(1870.72,1451.5) translate(-24.2,0) scale(1.0730,1)" font-size="23.44">VD+</text>
<text transform="translate(2001.38,1451.5) translate(-19.54,0) scale(0.9926,1)" font-size="23.44">VD-</text>
<text transform="translate(2132.04,1451.5) translate(-37.3,0) scale(0.9186,1)" font-size="23.44">VMCPF</text>
<text transform="translate(2262.7,1451.5) translate(-38.4,0) scale(0.9347,1)" font-size="23.44">VCMPB</text>
<text transform="translate(1451.9,1480.6) translate(-1.94,0) scale(1.0365,1)" font-size="23.44">Min (V)</text>
<text transform="translate(1609.4,1480.6) translate(-24.91,0) scale(1.0623,1)" font-size="23.44">-348</text>
<text transform="translate(1740.06,1480.6) translate(-28.31,0) scale(1.0601,1)" font-size="23.44">-0.33</text>
<text transform="translate(1870.72,1480.6) translate(-28.08,0) scale(1.0538,1)" font-size="23.44">-0.02</text>
<text transform="translate(2001.38,1480.6) translate(-28.51,0) scale(1.0675,1)" font-size="23.44">-9.96</text>
<text transform="translate(2132.04,1480.6) translate(-31.62,0) scale(1.0573,1)" font-size="23.44">-2032</text>
<text transform="translate(2262.7,1480.6) translate(-24.89,0) scale(1.0642,1)" font-size="23.44">-199</text>
<text transform="translate(1451.9,1509.5) translate(-1.94,0) scale(1.0335,1)" font-size="23.44">Max (V)</text>
<text transform="translate(1609.4,1509.5) translate(-6.41,0) scale(0.9848,1)" font-size="23.44">0</text>
<text transform="translate(1740.06,1509.5) translate(-24.25,0) scale(1.0582,1)" font-size="23.44">0.04</text>
<text transform="translate(1870.72,1509.5) translate(-24.54,0) scale(1.0653,1)" font-size="23.44">9.94</text>
<text transform="translate(2001.38,1509.5) translate(-23.75,0) scale(1.0471,1)" font-size="23.44">0.02</text>
<text transform="translate(2132.04,1509.5) translate(-10.46,0) scale(1.0102,1)" font-size="23.44">-1</text>
<text transform="translate(2262.7,1509.5) translate(-6.41,0) scale(0.9848,1)" font-size="23.44">0</text>
<text transform="translate(1451.9,1538.4) translate(0,0) scale(1.0244,1)" font-size="23.44">Ave (V)</text>
<text transform="translate(1609.4,1538.4) translate(-24.64,0) scale(1.0533,1)" font-size="23.44">-161</text>
<text transform="translate(1740.06,1538.4) translate(-24.14,0) scale(1.0586,1)" font-size="23.44">0.00</text>
<text transform="translate(1870.72,1538.4) translate(-28.47,0) scale(1.0636,1)" font-size="23.44">-0.00</text>
<text transform="translate(2001.38,1538.4) translate(-24.14,0) scale(1.0586,1)" font-size="23.44">0.00</text>
<text transform="translate(2132.04,1538.4) translate(-32,0) scale(1.0659,1)" font-size="23.44">-1780</text>
<text transform="translate(2262.7,1538.4) translate(-25.04,0) scale(1.0601,1)" font-size="23.44">-174</text>
<text transform="translate(1449.8,1578.9) translate(-2.49,0) scale(1.0633,1)" font-size="29.31">Produced by irm_summary version 5</text>
</svg>
</body></html>
